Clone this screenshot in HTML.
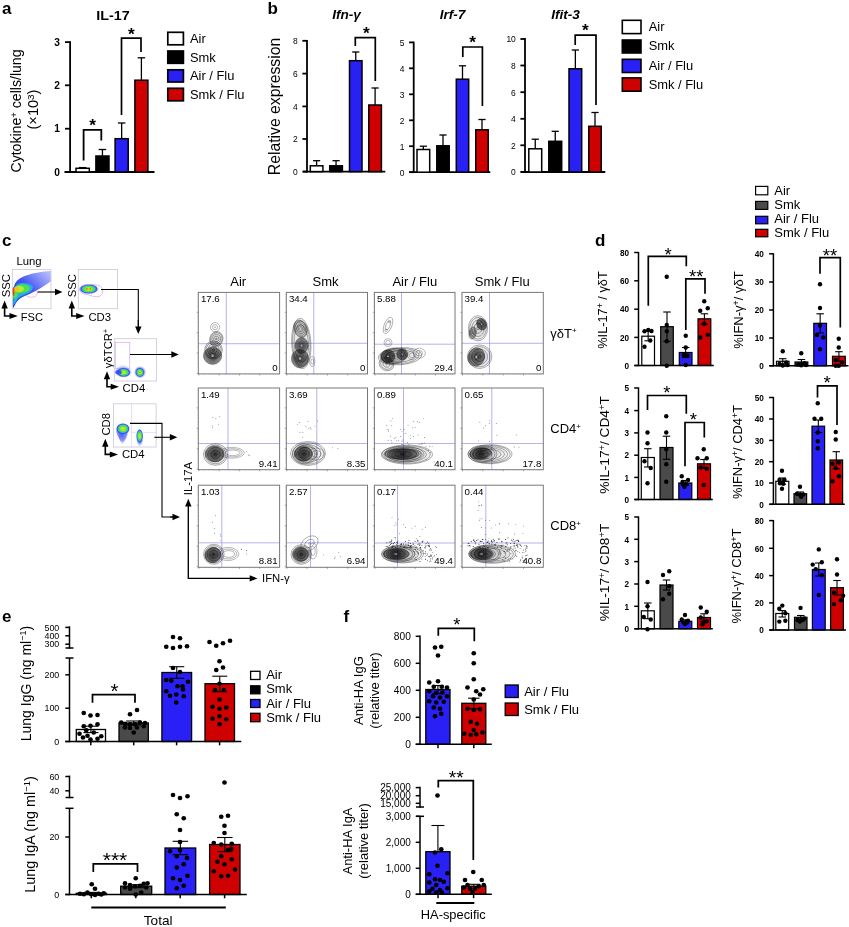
<!DOCTYPE html>
<html lang="en"><head><meta charset="utf-8"><title>Figure</title>
<style>
html,body{margin:0;padding:0;background:#fff;}
body{width:849px;height:927px;overflow:hidden;font-family:"Liberation Sans",Arial,sans-serif;}
svg{display:block;}
</style></head><body>
<svg width="849" height="927" viewBox="0 0 849 927" font-family='"Liberation Sans", Arial, sans-serif'>
<rect x="0" y="0" width="849" height="927" fill="#fff"/>
<text font-size="17" text-anchor="start" fill="#000" font-weight="bold" x="2" y="14" >a</text>
<text font-size="17" text-anchor="start" fill="#000" font-weight="bold" x="267.5" y="14" >b</text>
<text font-size="17" text-anchor="start" fill="#000" font-weight="bold" x="2" y="246" >c</text>
<text font-size="17" text-anchor="start" fill="#000" font-weight="bold" x="595" y="246" >d</text>
<text font-size="17" text-anchor="start" fill="#000" font-weight="bold" x="2" y="622" >e</text>
<text font-size="17" text-anchor="start" fill="#000" font-weight="bold" x="343.5" y="622" >f</text>
<text font-size="13" text-anchor="middle" fill="#000" font-weight="bold" textLength="33.5" lengthAdjust="spacingAndGlyphs" x="113" y="20" >IL-17</text>
<line x1="70.1" y1="41.2" x2="70.1" y2="172.8" stroke="#000" stroke-width="1.8" stroke-linecap="butt"/>
<line x1="64.5" y1="172" x2="154.5" y2="172" stroke="#000" stroke-width="1.8" stroke-linecap="butt"/>
<line x1="65" y1="42.1" x2="70.1" y2="42.1" stroke="#000" stroke-width="1.8" stroke-linecap="butt"/>
<text font-size="10.2" text-anchor="end" fill="#000" font-weight="bold" x="60" y="45.65" >3</text>
<line x1="65" y1="85.3" x2="70.1" y2="85.3" stroke="#000" stroke-width="1.8" stroke-linecap="butt"/>
<text font-size="10.2" text-anchor="end" fill="#000" font-weight="bold" x="60" y="88.85" >2</text>
<line x1="65" y1="128.7" x2="70.1" y2="128.7" stroke="#000" stroke-width="1.8" stroke-linecap="butt"/>
<text font-size="10.2" text-anchor="end" fill="#000" font-weight="bold" x="60" y="132.25" >1</text>
<line x1="65" y1="172" x2="70.1" y2="172" stroke="#000" stroke-width="1.8" stroke-linecap="butt"/>
<text font-size="10.2" text-anchor="end" fill="#000" font-weight="bold" x="60" y="175.55" >0</text>
<line x1="82.65" y1="167.6" x2="82.65" y2="168.3" stroke="#000" stroke-width="1.3" stroke-linecap="butt"/>
<line x1="78.9" y1="167.6" x2="86.4" y2="167.6" stroke="#000" stroke-width="1.3" stroke-linecap="butt"/>
<rect x="76" y="168.3" width="13.3" height="3.7" fill="#fff" stroke="#000" stroke-width="1.5"/>
<line x1="102.45" y1="149.5" x2="102.45" y2="156" stroke="#000" stroke-width="1.3" stroke-linecap="butt"/>
<line x1="98.7" y1="149.5" x2="106.2" y2="149.5" stroke="#000" stroke-width="1.3" stroke-linecap="butt"/>
<rect x="95.9" y="156" width="13.1" height="16" fill="#000" stroke="#000" stroke-width="1.5"/>
<line x1="121.65" y1="123" x2="121.65" y2="138.7" stroke="#000" stroke-width="1.3" stroke-linecap="butt"/>
<line x1="117.9" y1="123" x2="125.4" y2="123" stroke="#000" stroke-width="1.3" stroke-linecap="butt"/>
<rect x="115.1" y="138.7" width="13.1" height="33.3" fill="#2820f4" stroke="#000" stroke-width="1.5"/>
<line x1="141.4" y1="57.8" x2="141.4" y2="80.2" stroke="#000" stroke-width="1.3" stroke-linecap="butt"/>
<line x1="137.65" y1="57.8" x2="145.15" y2="57.8" stroke="#000" stroke-width="1.3" stroke-linecap="butt"/>
<rect x="134.9" y="80.2" width="13" height="91.8" fill="#cf0000" stroke="#000" stroke-width="1.5"/>
<polyline points="83.6,160.6 83.6,129.9 101.3,129.9 101.3,140.6" fill="none" stroke="#000" stroke-width="1.8" stroke-linejoin="miter"/>
<text font-size="17.3" text-anchor="middle" fill="#000" font-weight="bold" x="92.5" y="130.8" >*</text>
<polyline points="121.5,115 121.5,38.2 141,38.2 141,52" fill="none" stroke="#000" stroke-width="1.7" stroke-linejoin="miter"/>
<text font-size="17.3" text-anchor="middle" fill="#000" font-weight="bold" x="131.4" y="39.8" >*</text>
<text font-size="14" text-anchor="middle" fill="#000" textLength="123" lengthAdjust="spacingAndGlyphs" transform="translate(21,111) rotate(-90)" >Cytokine<tspan dy="-4.5" font-size="9.5">+</tspan><tspan dy="4.5" font-size="1">&#8203;</tspan> cells/lung</text>
<text font-size="14" text-anchor="middle" fill="#000" textLength="40" lengthAdjust="spacingAndGlyphs" transform="translate(38,109.5) rotate(-90)" >(×10<tspan dy="-4.5" font-size="9.5">3</tspan><tspan dy="4.5" font-size="1">&#8203;</tspan>)</text>
<rect x="167.8" y="32.3" width="15.6" height="12.5" fill="#fff" stroke="#000" stroke-width="1.7"/>
<text font-size="12.9" text-anchor="start" fill="#000" x="190" y="43" >Air</text>
<rect x="167.8" y="51" width="15.6" height="12.3" fill="#000" stroke="#000" stroke-width="1.7"/>
<text font-size="12.9" text-anchor="start" fill="#000" x="190" y="61.5" >Smk</text>
<rect x="167.8" y="69.8" width="15.6" height="12.2" fill="#2820f4" stroke="#000" stroke-width="1.7"/>
<text font-size="12.9" text-anchor="start" fill="#000" x="190" y="80" >Air / Flu</text>
<rect x="167.8" y="88.3" width="15.6" height="12.5" fill="#cf0000" stroke="#000" stroke-width="1.7"/>
<text font-size="12.9" text-anchor="start" fill="#000" x="190" y="98.8" >Smk / Flu</text>
<text font-size="15.7" text-anchor="middle" fill="#000" textLength="137.5" lengthAdjust="spacingAndGlyphs" transform="translate(279.5,106.5) rotate(-90)" >Relative expression</text>
<text font-size="13.6" text-anchor="middle" fill="#000" font-weight="bold" font-style="italic" x="346.5" y="19.3" >Ifn-γ</text>
<line x1="307" y1="40.05" x2="307" y2="172.4" stroke="#000" stroke-width="1.8" stroke-linecap="butt"/>
<line x1="303" y1="171.6" x2="385.3" y2="171.6" stroke="#000" stroke-width="1.8" stroke-linecap="butt"/>
<line x1="302.4" y1="40.8" x2="307" y2="40.8" stroke="#000" stroke-width="1.8" stroke-linecap="butt"/>
<text font-size="9.8" text-anchor="end" fill="#000" textLength="4.7" lengthAdjust="spacingAndGlyphs" x="297.8" y="44.2" >8</text>
<line x1="302.4" y1="73.6" x2="307" y2="73.6" stroke="#000" stroke-width="1.8" stroke-linecap="butt"/>
<text font-size="9.8" text-anchor="end" fill="#000" textLength="4.7" lengthAdjust="spacingAndGlyphs" x="297.8" y="77" >6</text>
<line x1="302.4" y1="106.4" x2="307" y2="106.4" stroke="#000" stroke-width="1.8" stroke-linecap="butt"/>
<text font-size="9.8" text-anchor="end" fill="#000" textLength="4.7" lengthAdjust="spacingAndGlyphs" x="297.8" y="109.8" >4</text>
<line x1="302.4" y1="139" x2="307" y2="139" stroke="#000" stroke-width="1.8" stroke-linecap="butt"/>
<text font-size="9.8" text-anchor="end" fill="#000" textLength="4.7" lengthAdjust="spacingAndGlyphs" x="297.8" y="142.4" >2</text>
<line x1="302.4" y1="171.6" x2="307" y2="171.6" stroke="#000" stroke-width="1.8" stroke-linecap="butt"/>
<text font-size="9.8" text-anchor="end" fill="#000" textLength="4.7" lengthAdjust="spacingAndGlyphs" x="297.8" y="175" >0</text>
<line x1="316.6" y1="160.7" x2="316.6" y2="165.8" stroke="#000" stroke-width="1.3" stroke-linecap="butt"/>
<line x1="313" y1="160.7" x2="320.2" y2="160.7" stroke="#000" stroke-width="1.3" stroke-linecap="butt"/>
<rect x="310.3" y="165.8" width="12.6" height="5.8" fill="#fff" stroke="#000" stroke-width="1.5"/>
<line x1="336.05" y1="160.7" x2="336.05" y2="165.8" stroke="#000" stroke-width="1.3" stroke-linecap="butt"/>
<line x1="332.45" y1="160.7" x2="339.65" y2="160.7" stroke="#000" stroke-width="1.3" stroke-linecap="butt"/>
<rect x="329.7" y="165.8" width="12.7" height="5.8" fill="#000" stroke="#000" stroke-width="1.5"/>
<line x1="355.75" y1="52" x2="355.75" y2="60.7" stroke="#000" stroke-width="1.3" stroke-linecap="butt"/>
<line x1="352.15" y1="52" x2="359.35" y2="52" stroke="#000" stroke-width="1.3" stroke-linecap="butt"/>
<rect x="349.5" y="60.7" width="12.5" height="110.9" fill="#2820f4" stroke="#000" stroke-width="1.5"/>
<line x1="375.1" y1="88" x2="375.1" y2="105" stroke="#000" stroke-width="1.3" stroke-linecap="butt"/>
<line x1="371.5" y1="88" x2="378.7" y2="88" stroke="#000" stroke-width="1.3" stroke-linecap="butt"/>
<rect x="368.8" y="105" width="12.6" height="66.6" fill="#cf0000" stroke="#000" stroke-width="1.5"/>
<polyline points="355.3,46 355.3,37.6 375.3,37.6 375.3,81" fill="none" stroke="#000" stroke-width="1.7" stroke-linejoin="miter"/>
<text font-size="17.3" text-anchor="middle" fill="#000" font-weight="bold" x="366.4" y="38.7" >*</text>
<text font-size="13.6" text-anchor="middle" fill="#000" font-weight="bold" font-style="italic" x="452.5" y="19.3" >Irf-7</text>
<line x1="413.7" y1="41.6" x2="413.7" y2="173" stroke="#000" stroke-width="1.8" stroke-linecap="butt"/>
<line x1="409.3" y1="172.2" x2="490.3" y2="172.2" stroke="#000" stroke-width="1.8" stroke-linecap="butt"/>
<line x1="409.1" y1="42.4" x2="413.7" y2="42.4" stroke="#000" stroke-width="1.8" stroke-linecap="butt"/>
<text font-size="9.8" text-anchor="end" fill="#000" textLength="4.7" lengthAdjust="spacingAndGlyphs" x="404.5" y="45.8" >5</text>
<line x1="409.1" y1="68.3" x2="413.7" y2="68.3" stroke="#000" stroke-width="1.8" stroke-linecap="butt"/>
<text font-size="9.8" text-anchor="end" fill="#000" textLength="4.7" lengthAdjust="spacingAndGlyphs" x="404.5" y="71.7" >4</text>
<line x1="409.1" y1="94.3" x2="413.7" y2="94.3" stroke="#000" stroke-width="1.8" stroke-linecap="butt"/>
<text font-size="9.8" text-anchor="end" fill="#000" textLength="4.7" lengthAdjust="spacingAndGlyphs" x="404.5" y="97.7" >3</text>
<line x1="409.1" y1="120.3" x2="413.7" y2="120.3" stroke="#000" stroke-width="1.8" stroke-linecap="butt"/>
<text font-size="9.8" text-anchor="end" fill="#000" textLength="4.7" lengthAdjust="spacingAndGlyphs" x="404.5" y="123.7" >2</text>
<line x1="409.1" y1="146.2" x2="413.7" y2="146.2" stroke="#000" stroke-width="1.8" stroke-linecap="butt"/>
<text font-size="9.8" text-anchor="end" fill="#000" textLength="4.7" lengthAdjust="spacingAndGlyphs" x="404.5" y="149.6" >1</text>
<line x1="409.1" y1="172.2" x2="413.7" y2="172.2" stroke="#000" stroke-width="1.8" stroke-linecap="butt"/>
<text font-size="9.8" text-anchor="end" fill="#000" textLength="4.7" lengthAdjust="spacingAndGlyphs" x="404.5" y="175.6" >0</text>
<line x1="423.35" y1="146.2" x2="423.35" y2="149.5" stroke="#000" stroke-width="1.3" stroke-linecap="butt"/>
<line x1="419.75" y1="146.2" x2="426.95" y2="146.2" stroke="#000" stroke-width="1.3" stroke-linecap="butt"/>
<rect x="417" y="149.5" width="12.7" height="22.7" fill="#fff" stroke="#000" stroke-width="1.5"/>
<line x1="443" y1="135" x2="443" y2="145.8" stroke="#000" stroke-width="1.3" stroke-linecap="butt"/>
<line x1="439.4" y1="135" x2="446.6" y2="135" stroke="#000" stroke-width="1.3" stroke-linecap="butt"/>
<rect x="436.8" y="145.8" width="12.4" height="26.4" fill="#000" stroke="#000" stroke-width="1.5"/>
<line x1="462.5" y1="65.8" x2="462.5" y2="79.2" stroke="#000" stroke-width="1.3" stroke-linecap="butt"/>
<line x1="458.9" y1="65.8" x2="466.1" y2="65.8" stroke="#000" stroke-width="1.3" stroke-linecap="butt"/>
<rect x="456.3" y="79.2" width="12.4" height="93" fill="#2820f4" stroke="#000" stroke-width="1.5"/>
<line x1="482" y1="119.5" x2="482" y2="129.8" stroke="#000" stroke-width="1.3" stroke-linecap="butt"/>
<line x1="478.4" y1="119.5" x2="485.6" y2="119.5" stroke="#000" stroke-width="1.3" stroke-linecap="butt"/>
<rect x="475.8" y="129.8" width="12.4" height="42.4" fill="#cf0000" stroke="#000" stroke-width="1.5"/>
<polyline points="462.8,57 462.8,47 482.4,47 482.4,106" fill="none" stroke="#000" stroke-width="1.7" stroke-linejoin="miter"/>
<text font-size="17.3" text-anchor="middle" fill="#000" font-weight="bold" x="472.5" y="48.4" >*</text>
<text font-size="13.6" text-anchor="middle" fill="#000" font-weight="bold" font-style="italic" x="565.5" y="19.3" >Ifit-3</text>
<line x1="525" y1="38.1" x2="525" y2="172.8" stroke="#000" stroke-width="1.8" stroke-linecap="butt"/>
<line x1="520.8" y1="172" x2="605.3" y2="172" stroke="#000" stroke-width="1.8" stroke-linecap="butt"/>
<line x1="520.4" y1="39" x2="525" y2="39" stroke="#000" stroke-width="1.8" stroke-linecap="butt"/>
<text font-size="9.8" text-anchor="end" fill="#000" textLength="9.4" lengthAdjust="spacingAndGlyphs" x="515.8" y="42.4" >10</text>
<line x1="520.4" y1="65.5" x2="525" y2="65.5" stroke="#000" stroke-width="1.8" stroke-linecap="butt"/>
<text font-size="9.8" text-anchor="end" fill="#000" textLength="4.7" lengthAdjust="spacingAndGlyphs" x="515.8" y="68.9" >8</text>
<line x1="520.4" y1="92.2" x2="525" y2="92.2" stroke="#000" stroke-width="1.8" stroke-linecap="butt"/>
<text font-size="9.8" text-anchor="end" fill="#000" textLength="4.7" lengthAdjust="spacingAndGlyphs" x="515.8" y="95.6" >6</text>
<line x1="520.4" y1="118.8" x2="525" y2="118.8" stroke="#000" stroke-width="1.8" stroke-linecap="butt"/>
<text font-size="9.8" text-anchor="end" fill="#000" textLength="4.7" lengthAdjust="spacingAndGlyphs" x="515.8" y="122.2" >4</text>
<line x1="520.4" y1="145.3" x2="525" y2="145.3" stroke="#000" stroke-width="1.8" stroke-linecap="butt"/>
<text font-size="9.8" text-anchor="end" fill="#000" textLength="4.7" lengthAdjust="spacingAndGlyphs" x="515.8" y="148.7" >2</text>
<line x1="520.4" y1="172" x2="525" y2="172" stroke="#000" stroke-width="1.8" stroke-linecap="butt"/>
<text font-size="9.8" text-anchor="end" fill="#000" textLength="4.7" lengthAdjust="spacingAndGlyphs" x="515.8" y="175.4" >0</text>
<line x1="535.25" y1="139.2" x2="535.25" y2="148.8" stroke="#000" stroke-width="1.3" stroke-linecap="butt"/>
<line x1="531.65" y1="139.2" x2="538.85" y2="139.2" stroke="#000" stroke-width="1.3" stroke-linecap="butt"/>
<rect x="528.8" y="148.8" width="12.9" height="23.2" fill="#fff" stroke="#000" stroke-width="1.5"/>
<line x1="555.25" y1="131.3" x2="555.25" y2="141.3" stroke="#000" stroke-width="1.3" stroke-linecap="butt"/>
<line x1="551.65" y1="131.3" x2="558.85" y2="131.3" stroke="#000" stroke-width="1.3" stroke-linecap="butt"/>
<rect x="548.8" y="141.3" width="12.9" height="30.7" fill="#000" stroke="#000" stroke-width="1.5"/>
<line x1="575.35" y1="50" x2="575.35" y2="68.8" stroke="#000" stroke-width="1.3" stroke-linecap="butt"/>
<line x1="571.75" y1="50" x2="578.95" y2="50" stroke="#000" stroke-width="1.3" stroke-linecap="butt"/>
<rect x="569" y="68.8" width="12.7" height="103.2" fill="#2820f4" stroke="#000" stroke-width="1.5"/>
<line x1="595" y1="112.5" x2="595" y2="126.3" stroke="#000" stroke-width="1.3" stroke-linecap="butt"/>
<line x1="591.4" y1="112.5" x2="598.6" y2="112.5" stroke="#000" stroke-width="1.3" stroke-linecap="butt"/>
<rect x="588.8" y="126.3" width="12.4" height="45.7" fill="#cf0000" stroke="#000" stroke-width="1.5"/>
<polyline points="575.2,45 575.2,35.1 596,35.1 596,105" fill="none" stroke="#000" stroke-width="1.7" stroke-linejoin="miter"/>
<text font-size="17.3" text-anchor="middle" fill="#000" font-weight="bold" x="585.4" y="36.3" >*</text>
<rect x="622.3" y="20.3" width="18.7" height="13.3" fill="#fff" stroke="#000" stroke-width="1.6"/>
<text font-size="12.9" text-anchor="start" fill="#000" x="648.7" y="30.8" >Air</text>
<rect x="622.3" y="40" width="18.7" height="13" fill="#000" stroke="#000" stroke-width="1.6"/>
<text font-size="12.9" text-anchor="start" fill="#000" x="648.7" y="50" >Smk</text>
<rect x="622.3" y="59.3" width="18.7" height="13.2" fill="#2820f4" stroke="#000" stroke-width="1.6"/>
<text font-size="12.9" text-anchor="start" fill="#000" x="648.7" y="70" >Air / Flu</text>
<rect x="622.3" y="77.9" width="18.7" height="13.3" fill="#cf0000" stroke="#000" stroke-width="1.6"/>
<text font-size="12.9" text-anchor="start" fill="#000" x="648.7" y="88.8" >Smk / Flu</text>
<defs>
<radialGradient id="gHot" cx="50%" cy="50%" r="50%">
<stop offset="0" stop-color="#f2451a"/><stop offset="0.18" stop-color="#f7d11e"/><stop offset="0.38" stop-color="#5fe34a"/>
<stop offset="0.58" stop-color="#27c7d9"/><stop offset="0.78" stop-color="#2b4df0"/><stop offset="1" stop-color="#3a45f5" stop-opacity="0"/>
</radialGradient>
<radialGradient id="gGreen" cx="50%" cy="50%" r="50%">
<stop offset="0" stop-color="#b9ee2e"/><stop offset="0.3" stop-color="#4fe04a"/><stop offset="0.52" stop-color="#27c7d9"/>
<stop offset="0.74" stop-color="#2b4df0"/><stop offset="1" stop-color="#3a45f5" stop-opacity="0"/>
</radialGradient>
<radialGradient id="gBlue" cx="50%" cy="50%" r="50%">
<stop offset="0" stop-color="#2b3df0" stop-opacity="0.95"/><stop offset="0.6" stop-color="#3a50f5" stop-opacity="0.7"/><stop offset="1" stop-color="#6a78f8" stop-opacity="0"/>
</radialGradient>
<linearGradient id="gFan" x1="0" y1="1" x2="1" y2="0">
<stop offset="0" stop-color="#2233ee"/><stop offset="0.5" stop-color="#3346f2" stop-opacity="0.92"/><stop offset="1" stop-color="#6a78f8" stop-opacity="0.45"/>
</linearGradient>
</defs>
<text font-size="11.3" text-anchor="middle" fill="#000" x="29" y="265" >Lung</text>
<rect x="12.3" y="269.5" width="38.7" height="39.2" fill="#fff" stroke="#c9c9d2" stroke-width="0.8"/>
<path d="M13,308.3 C12.8,298 12.7,288 15,283.5 C19,276 33,272.3 50.6,271 L50.6,281.5 C45,285.5 40,288.5 37,290.3 L29,294.2 C24,296.3 19.5,298 17,301.5 C15.3,304 14.3,306.5 13,308.3 Z" fill="url(#gFan)"/>
<path d="M13.2,300 C13.2,292 14,286.5 17.5,284.3 C22,281.8 29,282.8 32.5,286 C33.5,288.5 31.5,291.5 28,293.3 C22,295.5 18.3,297.5 16.3,301 C15,303.5 14,305 13.2,305.5 Z" fill="#29b7e3" opacity="0.9"/>
<ellipse cx="21.5" cy="288.8" rx="8.3" ry="4.3" fill="#4fe04a" opacity="1" transform="rotate(-6 21.5 288.8)"/>
<ellipse cx="15.5" cy="294.5" rx="2.3" ry="4.2" fill="#4fe04a" opacity="1" transform="rotate(12 15.5 294.5)"/>
<ellipse cx="19.3" cy="289" rx="4.6" ry="3" fill="#b4ee2c" opacity="1" transform="rotate(-6 19.3 289)"/>
<ellipse cx="16.6" cy="289.5" rx="2.4" ry="2.6" fill="#f3c21c" opacity="1"/>
<ellipse cx="13.5" cy="291.5" rx="0.9" ry="4.6" fill="#e8401a" opacity="1"/>
<path d="M26.5,295.6 C29,297.8 34.5,297.8 36.6,295.3 C37.8,293.6 37.3,291.6 36.6,290.8" fill="none" stroke="#d58be0" stroke-width="0.6"/>
<text font-size="11.3" text-anchor="middle" fill="#000" transform="translate(9.5,285.7) rotate(-90)" >SSC</text>
<polyline points="4.6,306.6 4.6,316 11.8,316" fill="none" stroke="#000" stroke-width="1.6" stroke-linejoin="miter"/>
<polygon points="4.6,300.6 1.4,308.6 7.8,308.6" fill="#000"/>
<polygon points="17.8,316 9.5,313 9.5,319" fill="#000"/>
<text font-size="11.1" text-anchor="start" fill="#000" x="20.8" y="320.6" >FSC</text>
<line x1="37.5" y1="292" x2="56" y2="292" stroke="#000" stroke-width="1.1" stroke-linecap="butt"/>
<polygon points="62.5,292 55,288.8 55,295.2" fill="#000"/>
<rect x="78.3" y="269.5" width="39.2" height="39.2" fill="#fff" stroke="#c9c9d2" stroke-width="0.8"/>
<ellipse cx="88.8" cy="289" rx="10.5" ry="5.42" fill="url(#gBlue)" opacity="0.9"/>
<ellipse cx="88.8" cy="289" rx="8.7" ry="4.5" fill="#2f49f3" opacity="0.9"/>
<ellipse cx="88.8" cy="289" rx="7.2" ry="3.72" fill="#29b7e3" opacity="1"/>
<ellipse cx="88.8" cy="289" rx="6" ry="3.1" fill="#4fe04a" opacity="1"/>
<ellipse cx="88.8" cy="289" rx="3.72" ry="1.92" fill="#a8ee2c" opacity="1"/>
<ellipse cx="86.9" cy="288.8" rx="1.1" ry="1.1" fill="#f3a21c" opacity="1"/>
<ellipse cx="90.3" cy="288.8" rx="1.1" ry="1.1" fill="#f3a21c" opacity="1"/>
<ellipse cx="86.9" cy="288.8" rx="0.5" ry="0.5" fill="#e8401a" opacity="1"/>
<ellipse cx="90.3" cy="288.8" rx="0.5" ry="0.5" fill="#e8401a" opacity="1"/>
<path d="M79.8,288.5 C81,283.3 96,283.6 100.3,286.3 C103.8,288.8 103.4,294.3 99.8,296.2 C95,298 90,295 86,294.3 C82.5,293.6 79,292 79.8,288.5 Z" fill="none" stroke="#d58be0" stroke-width="0.6"/>
<text font-size="11.3" text-anchor="middle" fill="#000" transform="translate(75.5,285.7) rotate(-90)" >SSC</text>
<polyline points="71.8,306.6 71.8,316 78.5,316" fill="none" stroke="#000" stroke-width="1.6" stroke-linejoin="miter"/>
<polygon points="71.8,300.6 68.6,308.6 75,308.6" fill="#000"/>
<polygon points="84.5,316 76.2,313 76.2,319" fill="#000"/>
<text font-size="11.3" text-anchor="start" fill="#000" x="88.4" y="321" >CD3</text>
<polyline points="101,289.5 138.3,289.5 138.3,327.5" fill="none" stroke="#000" stroke-width="1.1" stroke-linejoin="miter"/>
<line x1="138.3" y1="320" x2="138.3" y2="327.5" stroke="#000" stroke-width="1.1" stroke-linecap="butt"/>
<polygon points="138.3,334 135.1,326.5 141.5,326.5" fill="#000"/>
<rect x="114.3" y="338.7" width="42.3" height="42.3" fill="#fff" stroke="#c9c9d2" stroke-width="0.8"/>
<rect x="115.3" y="342.3" width="14.5" height="26" fill="none" stroke="#cfa8ea" stroke-width="0.7"/>
<ellipse cx="122.8" cy="371" rx="8.5" ry="6.5" fill="url(#gBlue)" opacity="0.45"/>
<ellipse cx="123.6" cy="372.4" rx="8.55" ry="5.51" fill="url(#gBlue)" opacity="0.85"/>
<ellipse cx="123.6" cy="372.4" rx="6.52" ry="4.21" fill="#2f49f3" opacity="0.9"/>
<ellipse cx="123.6" cy="372.4" rx="5.4" ry="3.48" fill="#29b7e3" opacity="1"/>
<ellipse cx="123.6" cy="372.4" rx="4.5" ry="2.9" fill="#4fe04a" opacity="1"/>
<ellipse cx="123.6" cy="372.4" rx="2.79" ry="1.8" fill="#a8ee2c" opacity="1"/>
<ellipse cx="118.5" cy="372.3" rx="3.2" ry="2.2" fill="#2f49f3" opacity="0.85"/>
<ellipse cx="140.2" cy="371.6" rx="6.3" ry="6" fill="url(#gBlue)" opacity="0.45"/>
<ellipse cx="139.9" cy="372.4" rx="6.09" ry="6.3" fill="url(#gBlue)" opacity="0.85" transform="rotate(-20 139.9 372.4)"/>
<ellipse cx="139.9" cy="372.4" rx="4.21" ry="4.35" fill="#2f49f3" opacity="0.9" transform="rotate(-20 139.9 372.4)"/>
<ellipse cx="139.9" cy="372.4" rx="3.48" ry="3.6" fill="#29b7e3" opacity="1" transform="rotate(-20 139.9 372.4)"/>
<ellipse cx="139.9" cy="372.4" rx="2.9" ry="3" fill="#4fe04a" opacity="1" transform="rotate(-20 139.9 372.4)"/>
<ellipse cx="139.9" cy="372.4" rx="1.8" ry="1.86" fill="#a8ee2c" opacity="1" transform="rotate(-20 139.9 372.4)"/>
<ellipse cx="139.9" cy="372.4" rx="1.04" ry="1.08" fill="#f3c21c" opacity="1" transform="rotate(-20 139.9 372.4)"/>
<ellipse cx="139.9" cy="372.4" rx="0.49" ry="0.51" fill="#e8401a" opacity="1" transform="rotate(-20 139.9 372.4)"/>
<line x1="130" y1="354.5" x2="172.3" y2="354.5" stroke="#000" stroke-width="1.1" stroke-linecap="butt"/>
<polygon points="178.8,354.5 171.3,351.3 171.3,357.7" fill="#000"/>
<text font-size="11.3" text-anchor="start" fill="#000" transform="translate(111.9,368.2) rotate(-90)" >γδTCR<tspan dy="-3.5" font-size="7">+</tspan><tspan dy="3.5" font-size="1">&#8203;</tspan></text>
<polyline points="107,377.3 107,386.8 113,386.8" fill="none" stroke="#000" stroke-width="1.6" stroke-linejoin="miter"/>
<polygon points="107,371.3 103.8,379.3 110.2,379.3" fill="#000"/>
<polygon points="119,386.8 110.7,383.8 110.7,389.8" fill="#000"/>
<text font-size="11.3" text-anchor="start" fill="#000" x="122.6" y="391.5" >CD4</text>
<rect x="113.4" y="403.8" width="42.7" height="43.2" fill="#fff" stroke="#c9c9d2" stroke-width="0.8"/>
<line x1="131.5" y1="403.8" x2="131.5" y2="447" stroke="#dccbee" stroke-width="0.6" stroke-linecap="butt"/>
<line x1="131.5" y1="432.4" x2="156.1" y2="432.4" stroke="#dccbee" stroke-width="0.6" stroke-linecap="butt"/>
<path d="M114.2,424.5 C118,421.5 127,421.8 129.3,424.5 C130,431 126.5,439 122.5,444.8 C120.5,441 115.5,433 114.2,424.5 Z" fill="url(#gBlue)" opacity="0.9"/>
<ellipse cx="123" cy="428.7" rx="6.6" ry="5.4" fill="url(#gBlue)" opacity="0.8"/>
<ellipse cx="123" cy="428.7" rx="6.38" ry="5.22" fill="#2f49f3" opacity="0.9"/>
<ellipse cx="123" cy="428.7" rx="5.28" ry="4.32" fill="#29b7e3" opacity="1"/>
<ellipse cx="123" cy="428.7" rx="4.4" ry="3.6" fill="#4fe04a" opacity="1"/>
<ellipse cx="123" cy="428.7" rx="2.73" ry="2.23" fill="#a8ee2c" opacity="1"/>
<ellipse cx="139.8" cy="437.5" rx="3.9" ry="9" fill="url(#gBlue)" opacity="0.95"/>
<ellipse cx="139.6" cy="436" rx="2.73" ry="5.72" fill="url(#gBlue)" opacity="0.8"/>
<ellipse cx="139.6" cy="436" rx="3.04" ry="6.38" fill="#2f49f3" opacity="0.9"/>
<ellipse cx="139.6" cy="436" rx="2.52" ry="5.28" fill="#29b7e3" opacity="1"/>
<ellipse cx="139.6" cy="436" rx="2.1" ry="4.4" fill="#4fe04a" opacity="1"/>
<ellipse cx="139.6" cy="436" rx="1.3" ry="2.73" fill="#a8ee2c" opacity="1"/>
<polyline points="130,423.4 162,423.4 162,517 173,517" fill="none" stroke="#000" stroke-width="1.1" stroke-linejoin="miter"/>
<line x1="170" y1="517" x2="173.5" y2="517" stroke="#000" stroke-width="1.1" stroke-linecap="butt"/>
<polygon points="180,517 172.5,513.8 172.5,520.2" fill="#000"/>
<line x1="154.4" y1="437.3" x2="170.8" y2="437.3" stroke="#000" stroke-width="1.1" stroke-linecap="butt"/>
<polygon points="177.3,437.3 169.8,434.1 169.8,440.5" fill="#000"/>
<text font-size="11.3" text-anchor="middle" fill="#000" transform="translate(110.3,424.3) rotate(-90)" >CD8</text>
<polyline points="105.3,444.7 105.3,454.4 112.1,454.4" fill="none" stroke="#000" stroke-width="1.6" stroke-linejoin="miter"/>
<polygon points="105.3,438.7 102.1,446.7 108.5,446.7" fill="#000"/>
<polygon points="118.1,454.4 109.8,451.4 109.8,457.4" fill="#000"/>
<text font-size="11.3" text-anchor="start" fill="#000" x="121.9" y="458.2" >CD4</text>
<polyline points="188.3,505 188.3,578.4 251,578.4" fill="none" stroke="#000" stroke-width="1.35" stroke-linejoin="miter"/>
<polygon points="188.3,498.7 185.1,506.5 191.5,506.5" fill="#000"/>
<polygon points="257.5,578.4 249.7,575.2 249.7,581.6" fill="#000"/>
<text font-size="11.3" text-anchor="middle" fill="#000" transform="translate(192.3,478.5) rotate(-90)" >IL-17A</text>
<text font-size="11.3" text-anchor="start" fill="#000" x="262" y="582.2" >IFN-γ</text>
<text font-size="13" text-anchor="middle" fill="#000" x="238.2" y="286.3" >Air</text>
<text font-size="13" text-anchor="middle" fill="#000" x="325.6" y="286.3" >Smk</text>
<text font-size="13" text-anchor="middle" fill="#000" x="414.8" y="286.3" >Air / Flu</text>
<text font-size="13" text-anchor="middle" fill="#000" x="502.2" y="286.3" >Smk / Flu</text>
<text font-size="13" text-anchor="start" fill="#000" x="550.3" y="337.6" >γδT<tspan dy="-4.5" font-size="8">+</tspan><tspan dy="4.5" font-size="1">&#8203;</tspan></text>
<text font-size="13" text-anchor="start" fill="#000" x="550.3" y="433" >CD4<tspan dy="-4.5" font-size="8">+</tspan><tspan dy="4.5" font-size="1">&#8203;</tspan></text>
<text font-size="13" text-anchor="start" fill="#000" x="550.3" y="530" >CD8<tspan dy="-4.5" font-size="8">+</tspan><tspan dy="4.5" font-size="1">&#8203;</tspan></text>
<line x1="226.3" y1="292.4" x2="226.3" y2="373.9" stroke="#9393e6" stroke-width="0.7" stroke-linecap="butt"/>
<line x1="198.3" y1="343.7" x2="279.6" y2="343.7" stroke="#9393e6" stroke-width="0.7" stroke-linecap="butt"/>
<rect x="198.3" y="292.4" width="81.3" height="81.5" fill="none" stroke="#787878" stroke-width="1.0"/>
<line x1="196.7" y1="373.4" x2="198.3" y2="373.4" stroke="#555" stroke-width="0.5" stroke-linecap="butt"/>
<line x1="198.8" y1="373.9" x2="198.8" y2="375.5" stroke="#555" stroke-width="0.5" stroke-linecap="butt"/>
<line x1="197.4" y1="367.38" x2="198.3" y2="367.38" stroke="#888" stroke-width="0.35" stroke-linecap="butt"/>
<line x1="204.8" y1="373.9" x2="204.8" y2="374.8" stroke="#888" stroke-width="0.35" stroke-linecap="butt"/>
<line x1="197.4" y1="363.3" x2="198.3" y2="363.3" stroke="#888" stroke-width="0.35" stroke-linecap="butt"/>
<line x1="208.87" y1="373.9" x2="208.87" y2="374.8" stroke="#888" stroke-width="0.35" stroke-linecap="butt"/>
<line x1="197.4" y1="360.04" x2="198.3" y2="360.04" stroke="#888" stroke-width="0.35" stroke-linecap="butt"/>
<line x1="212.12" y1="373.9" x2="212.12" y2="374.8" stroke="#888" stroke-width="0.35" stroke-linecap="butt"/>
<line x1="197.4" y1="357.6" x2="198.3" y2="357.6" stroke="#888" stroke-width="0.35" stroke-linecap="butt"/>
<line x1="214.56" y1="373.9" x2="214.56" y2="374.8" stroke="#888" stroke-width="0.35" stroke-linecap="butt"/>
<line x1="197.4" y1="355.56" x2="198.3" y2="355.56" stroke="#888" stroke-width="0.35" stroke-linecap="butt"/>
<line x1="216.59" y1="373.9" x2="216.59" y2="374.8" stroke="#888" stroke-width="0.35" stroke-linecap="butt"/>
<line x1="196.7" y1="353.02" x2="198.3" y2="353.02" stroke="#555" stroke-width="0.5" stroke-linecap="butt"/>
<line x1="219.12" y1="373.9" x2="219.12" y2="375.5" stroke="#555" stroke-width="0.5" stroke-linecap="butt"/>
<line x1="197.4" y1="347" x2="198.3" y2="347" stroke="#888" stroke-width="0.35" stroke-linecap="butt"/>
<line x1="225.13" y1="373.9" x2="225.13" y2="374.8" stroke="#888" stroke-width="0.35" stroke-linecap="butt"/>
<line x1="197.4" y1="342.93" x2="198.3" y2="342.93" stroke="#888" stroke-width="0.35" stroke-linecap="butt"/>
<line x1="229.19" y1="373.9" x2="229.19" y2="374.8" stroke="#888" stroke-width="0.35" stroke-linecap="butt"/>
<line x1="197.4" y1="339.67" x2="198.3" y2="339.67" stroke="#888" stroke-width="0.35" stroke-linecap="butt"/>
<line x1="232.45" y1="373.9" x2="232.45" y2="374.8" stroke="#888" stroke-width="0.35" stroke-linecap="butt"/>
<line x1="197.4" y1="337.22" x2="198.3" y2="337.22" stroke="#888" stroke-width="0.35" stroke-linecap="butt"/>
<line x1="234.89" y1="373.9" x2="234.89" y2="374.8" stroke="#888" stroke-width="0.35" stroke-linecap="butt"/>
<line x1="197.4" y1="335.19" x2="198.3" y2="335.19" stroke="#888" stroke-width="0.35" stroke-linecap="butt"/>
<line x1="236.92" y1="373.9" x2="236.92" y2="374.8" stroke="#888" stroke-width="0.35" stroke-linecap="butt"/>
<line x1="196.7" y1="332.65" x2="198.3" y2="332.65" stroke="#555" stroke-width="0.5" stroke-linecap="butt"/>
<line x1="239.45" y1="373.9" x2="239.45" y2="375.5" stroke="#555" stroke-width="0.5" stroke-linecap="butt"/>
<line x1="197.4" y1="326.63" x2="198.3" y2="326.63" stroke="#888" stroke-width="0.35" stroke-linecap="butt"/>
<line x1="245.45" y1="373.9" x2="245.45" y2="374.8" stroke="#888" stroke-width="0.35" stroke-linecap="butt"/>
<line x1="197.4" y1="322.55" x2="198.3" y2="322.55" stroke="#888" stroke-width="0.35" stroke-linecap="butt"/>
<line x1="249.52" y1="373.9" x2="249.52" y2="374.8" stroke="#888" stroke-width="0.35" stroke-linecap="butt"/>
<line x1="197.4" y1="319.29" x2="198.3" y2="319.29" stroke="#888" stroke-width="0.35" stroke-linecap="butt"/>
<line x1="252.77" y1="373.9" x2="252.77" y2="374.8" stroke="#888" stroke-width="0.35" stroke-linecap="butt"/>
<line x1="197.4" y1="316.85" x2="198.3" y2="316.85" stroke="#888" stroke-width="0.35" stroke-linecap="butt"/>
<line x1="255.21" y1="373.9" x2="255.21" y2="374.8" stroke="#888" stroke-width="0.35" stroke-linecap="butt"/>
<line x1="197.4" y1="314.81" x2="198.3" y2="314.81" stroke="#888" stroke-width="0.35" stroke-linecap="butt"/>
<line x1="257.24" y1="373.9" x2="257.24" y2="374.8" stroke="#888" stroke-width="0.35" stroke-linecap="butt"/>
<line x1="196.7" y1="312.27" x2="198.3" y2="312.27" stroke="#555" stroke-width="0.5" stroke-linecap="butt"/>
<line x1="259.78" y1="373.9" x2="259.78" y2="375.5" stroke="#555" stroke-width="0.5" stroke-linecap="butt"/>
<line x1="197.4" y1="306.25" x2="198.3" y2="306.25" stroke="#888" stroke-width="0.35" stroke-linecap="butt"/>
<line x1="265.78" y1="373.9" x2="265.78" y2="374.8" stroke="#888" stroke-width="0.35" stroke-linecap="butt"/>
<line x1="197.4" y1="302.18" x2="198.3" y2="302.18" stroke="#888" stroke-width="0.35" stroke-linecap="butt"/>
<line x1="269.84" y1="373.9" x2="269.84" y2="374.8" stroke="#888" stroke-width="0.35" stroke-linecap="butt"/>
<line x1="197.4" y1="298.92" x2="198.3" y2="298.92" stroke="#888" stroke-width="0.35" stroke-linecap="butt"/>
<line x1="273.1" y1="373.9" x2="273.1" y2="374.8" stroke="#888" stroke-width="0.35" stroke-linecap="butt"/>
<line x1="197.4" y1="296.47" x2="198.3" y2="296.47" stroke="#888" stroke-width="0.35" stroke-linecap="butt"/>
<line x1="275.54" y1="373.9" x2="275.54" y2="374.8" stroke="#888" stroke-width="0.35" stroke-linecap="butt"/>
<line x1="197.4" y1="294.44" x2="198.3" y2="294.44" stroke="#888" stroke-width="0.35" stroke-linecap="butt"/>
<line x1="277.57" y1="373.9" x2="277.57" y2="374.8" stroke="#888" stroke-width="0.35" stroke-linecap="butt"/>
<text font-size="9.7" text-anchor="start" fill="#000" x="200.9" y="302" >17.6</text>
<text font-size="9.7" text-anchor="end" fill="#000" x="277.6" y="370.7" >0</text>
<ellipse cx="215.1" cy="327.2" rx="4.6" ry="4.6" fill="none" stroke="#333" stroke-width="0.35"/>
<ellipse cx="215.1" cy="327.2" rx="2.53" ry="2.53" fill="none" stroke="#333" stroke-width="0.35"/>
<ellipse cx="215.1" cy="327.2" rx="0.46" ry="0.46" fill="none" stroke="#333" stroke-width="0.35"/>
<ellipse cx="216.3" cy="339" rx="6.6" ry="7.5" fill="#000" fill-opacity="0.04" stroke="#000" stroke-width="0.4" stroke-opacity="0.8" transform="rotate(20 216.3 339)"/>
<ellipse cx="216.3" cy="339" rx="5.71" ry="6.48" fill="#000" fill-opacity="0.04" stroke="#000" stroke-width="0.4" stroke-opacity="0.8" transform="rotate(20 216.3 339)"/>
<ellipse cx="216.3" cy="339" rx="4.32" ry="4.91" fill="#000" fill-opacity="0.04" stroke="#000" stroke-width="0.4" stroke-opacity="0.8" transform="rotate(20 216.3 339)"/>
<ellipse cx="216.3" cy="339" rx="2.66" ry="3.02" fill="#000" fill-opacity="0.04" stroke="#000" stroke-width="0.4" stroke-opacity="0.8" transform="rotate(20 216.3 339)"/>
<ellipse cx="216.3" cy="339" rx="0.79" ry="0.9" fill="#000" fill-opacity="0.04" stroke="#000" stroke-width="0.4" stroke-opacity="0.8" transform="rotate(20 216.3 339)"/>
<ellipse cx="213.5" cy="350" rx="8.8" ry="9" fill="#000" fill-opacity="0.04" stroke="#000" stroke-width="0.4" stroke-opacity="0.8" transform="rotate(15 213.5 350)"/>
<ellipse cx="213.5" cy="350" rx="7.61" ry="7.78" fill="#000" fill-opacity="0.04" stroke="#000" stroke-width="0.4" stroke-opacity="0.8" transform="rotate(15 213.5 350)"/>
<ellipse cx="213.5" cy="350" rx="5.76" ry="5.89" fill="#000" fill-opacity="0.04" stroke="#000" stroke-width="0.4" stroke-opacity="0.8" transform="rotate(15 213.5 350)"/>
<ellipse cx="213.5" cy="350" rx="3.55" ry="3.63" fill="#000" fill-opacity="0.04" stroke="#000" stroke-width="0.4" stroke-opacity="0.8" transform="rotate(15 213.5 350)"/>
<ellipse cx="213.5" cy="350" rx="1.06" ry="1.08" fill="#000" fill-opacity="0.04" stroke="#000" stroke-width="0.4" stroke-opacity="0.8" transform="rotate(15 213.5 350)"/>
<ellipse cx="212.6" cy="355.8" rx="9.2" ry="8.6" fill="#000" fill-opacity="0.1" stroke="#000" stroke-width="0.4" stroke-opacity="0.8"/>
<ellipse cx="212.6" cy="355.8" rx="8.71" ry="8.14" fill="#000" fill-opacity="0.1" stroke="#000" stroke-width="0.4" stroke-opacity="0.8"/>
<ellipse cx="212.6" cy="355.8" rx="7.95" ry="7.44" fill="#000" fill-opacity="0.1" stroke="#000" stroke-width="0.4" stroke-opacity="0.8"/>
<ellipse cx="212.6" cy="355.8" rx="7.05" ry="6.59" fill="#000" fill-opacity="0.1" stroke="#000" stroke-width="0.4" stroke-opacity="0.8"/>
<ellipse cx="212.6" cy="355.8" rx="6.02" ry="5.63" fill="#000" fill-opacity="0.1" stroke="#000" stroke-width="0.4" stroke-opacity="0.8"/>
<ellipse cx="212.6" cy="355.8" rx="4.91" ry="4.59" fill="#000" fill-opacity="0.1" stroke="#000" stroke-width="0.4" stroke-opacity="0.8"/>
<ellipse cx="212.6" cy="355.8" rx="3.71" ry="3.47" fill="#000" fill-opacity="0.1" stroke="#000" stroke-width="0.4" stroke-opacity="0.8"/>
<ellipse cx="212.6" cy="355.8" rx="2.44" ry="2.28" fill="#000" fill-opacity="0.1" stroke="#000" stroke-width="0.4" stroke-opacity="0.8"/>
<ellipse cx="212.6" cy="355.8" rx="1.1" ry="1.03" fill="#000" fill-opacity="0.1" stroke="#000" stroke-width="0.4" stroke-opacity="0.8"/>
<ellipse cx="212.6" cy="355.8" rx="1.29" ry="1.2" fill="#fff" fill-opacity="0.55"/>
<line x1="313.8" y1="292.4" x2="313.8" y2="373.9" stroke="#9393e6" stroke-width="0.7" stroke-linecap="butt"/>
<line x1="286.3" y1="343.3" x2="367.5" y2="343.3" stroke="#9393e6" stroke-width="0.7" stroke-linecap="butt"/>
<rect x="286.3" y="292.4" width="81.2" height="81.5" fill="none" stroke="#787878" stroke-width="1.0"/>
<line x1="284.7" y1="373.4" x2="286.3" y2="373.4" stroke="#555" stroke-width="0.5" stroke-linecap="butt"/>
<line x1="286.8" y1="373.9" x2="286.8" y2="375.5" stroke="#555" stroke-width="0.5" stroke-linecap="butt"/>
<line x1="285.4" y1="367.38" x2="286.3" y2="367.38" stroke="#888" stroke-width="0.35" stroke-linecap="butt"/>
<line x1="292.8" y1="373.9" x2="292.8" y2="374.8" stroke="#888" stroke-width="0.35" stroke-linecap="butt"/>
<line x1="285.4" y1="363.3" x2="286.3" y2="363.3" stroke="#888" stroke-width="0.35" stroke-linecap="butt"/>
<line x1="296.86" y1="373.9" x2="296.86" y2="374.8" stroke="#888" stroke-width="0.35" stroke-linecap="butt"/>
<line x1="285.4" y1="360.04" x2="286.3" y2="360.04" stroke="#888" stroke-width="0.35" stroke-linecap="butt"/>
<line x1="300.1" y1="373.9" x2="300.1" y2="374.8" stroke="#888" stroke-width="0.35" stroke-linecap="butt"/>
<line x1="285.4" y1="357.6" x2="286.3" y2="357.6" stroke="#888" stroke-width="0.35" stroke-linecap="butt"/>
<line x1="302.54" y1="373.9" x2="302.54" y2="374.8" stroke="#888" stroke-width="0.35" stroke-linecap="butt"/>
<line x1="285.4" y1="355.56" x2="286.3" y2="355.56" stroke="#888" stroke-width="0.35" stroke-linecap="butt"/>
<line x1="304.57" y1="373.9" x2="304.57" y2="374.8" stroke="#888" stroke-width="0.35" stroke-linecap="butt"/>
<line x1="284.7" y1="353.02" x2="286.3" y2="353.02" stroke="#555" stroke-width="0.5" stroke-linecap="butt"/>
<line x1="307.1" y1="373.9" x2="307.1" y2="375.5" stroke="#555" stroke-width="0.5" stroke-linecap="butt"/>
<line x1="285.4" y1="347" x2="286.3" y2="347" stroke="#888" stroke-width="0.35" stroke-linecap="butt"/>
<line x1="313.1" y1="373.9" x2="313.1" y2="374.8" stroke="#888" stroke-width="0.35" stroke-linecap="butt"/>
<line x1="285.4" y1="342.93" x2="286.3" y2="342.93" stroke="#888" stroke-width="0.35" stroke-linecap="butt"/>
<line x1="317.16" y1="373.9" x2="317.16" y2="374.8" stroke="#888" stroke-width="0.35" stroke-linecap="butt"/>
<line x1="285.4" y1="339.67" x2="286.3" y2="339.67" stroke="#888" stroke-width="0.35" stroke-linecap="butt"/>
<line x1="320.4" y1="373.9" x2="320.4" y2="374.8" stroke="#888" stroke-width="0.35" stroke-linecap="butt"/>
<line x1="285.4" y1="337.22" x2="286.3" y2="337.22" stroke="#888" stroke-width="0.35" stroke-linecap="butt"/>
<line x1="322.84" y1="373.9" x2="322.84" y2="374.8" stroke="#888" stroke-width="0.35" stroke-linecap="butt"/>
<line x1="285.4" y1="335.19" x2="286.3" y2="335.19" stroke="#888" stroke-width="0.35" stroke-linecap="butt"/>
<line x1="324.87" y1="373.9" x2="324.87" y2="374.8" stroke="#888" stroke-width="0.35" stroke-linecap="butt"/>
<line x1="284.7" y1="332.65" x2="286.3" y2="332.65" stroke="#555" stroke-width="0.5" stroke-linecap="butt"/>
<line x1="327.4" y1="373.9" x2="327.4" y2="375.5" stroke="#555" stroke-width="0.5" stroke-linecap="butt"/>
<line x1="285.4" y1="326.63" x2="286.3" y2="326.63" stroke="#888" stroke-width="0.35" stroke-linecap="butt"/>
<line x1="333.4" y1="373.9" x2="333.4" y2="374.8" stroke="#888" stroke-width="0.35" stroke-linecap="butt"/>
<line x1="285.4" y1="322.55" x2="286.3" y2="322.55" stroke="#888" stroke-width="0.35" stroke-linecap="butt"/>
<line x1="337.46" y1="373.9" x2="337.46" y2="374.8" stroke="#888" stroke-width="0.35" stroke-linecap="butt"/>
<line x1="285.4" y1="319.29" x2="286.3" y2="319.29" stroke="#888" stroke-width="0.35" stroke-linecap="butt"/>
<line x1="340.7" y1="373.9" x2="340.7" y2="374.8" stroke="#888" stroke-width="0.35" stroke-linecap="butt"/>
<line x1="285.4" y1="316.85" x2="286.3" y2="316.85" stroke="#888" stroke-width="0.35" stroke-linecap="butt"/>
<line x1="343.14" y1="373.9" x2="343.14" y2="374.8" stroke="#888" stroke-width="0.35" stroke-linecap="butt"/>
<line x1="285.4" y1="314.81" x2="286.3" y2="314.81" stroke="#888" stroke-width="0.35" stroke-linecap="butt"/>
<line x1="345.17" y1="373.9" x2="345.17" y2="374.8" stroke="#888" stroke-width="0.35" stroke-linecap="butt"/>
<line x1="284.7" y1="312.27" x2="286.3" y2="312.27" stroke="#555" stroke-width="0.5" stroke-linecap="butt"/>
<line x1="347.7" y1="373.9" x2="347.7" y2="375.5" stroke="#555" stroke-width="0.5" stroke-linecap="butt"/>
<line x1="285.4" y1="306.25" x2="286.3" y2="306.25" stroke="#888" stroke-width="0.35" stroke-linecap="butt"/>
<line x1="353.7" y1="373.9" x2="353.7" y2="374.8" stroke="#888" stroke-width="0.35" stroke-linecap="butt"/>
<line x1="285.4" y1="302.18" x2="286.3" y2="302.18" stroke="#888" stroke-width="0.35" stroke-linecap="butt"/>
<line x1="357.76" y1="373.9" x2="357.76" y2="374.8" stroke="#888" stroke-width="0.35" stroke-linecap="butt"/>
<line x1="285.4" y1="298.92" x2="286.3" y2="298.92" stroke="#888" stroke-width="0.35" stroke-linecap="butt"/>
<line x1="361" y1="373.9" x2="361" y2="374.8" stroke="#888" stroke-width="0.35" stroke-linecap="butt"/>
<line x1="285.4" y1="296.47" x2="286.3" y2="296.47" stroke="#888" stroke-width="0.35" stroke-linecap="butt"/>
<line x1="363.44" y1="373.9" x2="363.44" y2="374.8" stroke="#888" stroke-width="0.35" stroke-linecap="butt"/>
<line x1="285.4" y1="294.44" x2="286.3" y2="294.44" stroke="#888" stroke-width="0.35" stroke-linecap="butt"/>
<line x1="365.47" y1="373.9" x2="365.47" y2="374.8" stroke="#888" stroke-width="0.35" stroke-linecap="butt"/>
<text font-size="9.7" text-anchor="start" fill="#000" x="288.9" y="302" >34.4</text>
<text font-size="9.7" text-anchor="end" fill="#000" x="365.5" y="370.7" >0</text>
<ellipse cx="301.3" cy="343.5" rx="9.6" ry="25.2" fill="#000" fill-opacity="0.03" stroke="#000" stroke-width="0.4" stroke-opacity="0.8" transform="rotate(-3 301.3 343.5)"/>
<ellipse cx="301.3" cy="343.5" rx="8.66" ry="22.73" fill="#000" fill-opacity="0.03" stroke="#000" stroke-width="0.4" stroke-opacity="0.8" transform="rotate(-3 301.3 343.5)"/>
<ellipse cx="301.3" cy="343.5" rx="7.2" ry="18.9" fill="#000" fill-opacity="0.03" stroke="#000" stroke-width="0.4" stroke-opacity="0.8" transform="rotate(-3 301.3 343.5)"/>
<ellipse cx="300.5" cy="328.8" rx="6.6" ry="9" fill="#000" fill-opacity="0.04" stroke="#000" stroke-width="0.4" stroke-opacity="0.8" transform="rotate(-20 300.5 328.8)"/>
<ellipse cx="300.5" cy="328.8" rx="5.94" ry="8.1" fill="#000" fill-opacity="0.04" stroke="#000" stroke-width="0.4" stroke-opacity="0.8" transform="rotate(-20 300.5 328.8)"/>
<ellipse cx="300.5" cy="328.8" rx="4.91" ry="6.7" fill="#000" fill-opacity="0.04" stroke="#000" stroke-width="0.4" stroke-opacity="0.8" transform="rotate(-20 300.5 328.8)"/>
<ellipse cx="300.5" cy="328.8" rx="3.69" ry="5.03" fill="#000" fill-opacity="0.04" stroke="#000" stroke-width="0.4" stroke-opacity="0.8" transform="rotate(-20 300.5 328.8)"/>
<ellipse cx="300.5" cy="328.8" rx="2.3" ry="3.14" fill="#000" fill-opacity="0.04" stroke="#000" stroke-width="0.4" stroke-opacity="0.8" transform="rotate(-20 300.5 328.8)"/>
<ellipse cx="300.5" cy="328.8" rx="0.79" ry="1.08" fill="#000" fill-opacity="0.04" stroke="#000" stroke-width="0.4" stroke-opacity="0.8" transform="rotate(-20 300.5 328.8)"/>
<ellipse cx="300.5" cy="328.8" rx="0.92" ry="1.26" fill="#fff" fill-opacity="0.55" transform="rotate(-20 300.5 328.8)"/>
<ellipse cx="301.6" cy="345.6" rx="6.6" ry="8" fill="#000" fill-opacity="0.1" stroke="#000" stroke-width="0.4" stroke-opacity="0.8"/>
<ellipse cx="301.6" cy="345.6" rx="6.18" ry="7.49" fill="#000" fill-opacity="0.1" stroke="#000" stroke-width="0.4" stroke-opacity="0.8"/>
<ellipse cx="301.6" cy="345.6" rx="5.53" ry="6.7" fill="#000" fill-opacity="0.1" stroke="#000" stroke-width="0.4" stroke-opacity="0.8"/>
<ellipse cx="301.6" cy="345.6" rx="4.75" ry="5.76" fill="#000" fill-opacity="0.1" stroke="#000" stroke-width="0.4" stroke-opacity="0.8"/>
<ellipse cx="301.6" cy="345.6" rx="3.87" ry="4.69" fill="#000" fill-opacity="0.1" stroke="#000" stroke-width="0.4" stroke-opacity="0.8"/>
<ellipse cx="301.6" cy="345.6" rx="2.91" ry="3.53" fill="#000" fill-opacity="0.1" stroke="#000" stroke-width="0.4" stroke-opacity="0.8"/>
<ellipse cx="301.6" cy="345.6" rx="1.88" ry="2.28" fill="#000" fill-opacity="0.1" stroke="#000" stroke-width="0.4" stroke-opacity="0.8"/>
<ellipse cx="301.6" cy="345.6" rx="0.79" ry="0.96" fill="#000" fill-opacity="0.1" stroke="#000" stroke-width="0.4" stroke-opacity="0.8"/>
<ellipse cx="301.6" cy="345.6" rx="0.92" ry="1.12" fill="#fff" fill-opacity="0.55"/>
<ellipse cx="300" cy="358.6" rx="8.6" ry="9.3" fill="#000" fill-opacity="0.11" stroke="#000" stroke-width="0.4" stroke-opacity="0.8"/>
<ellipse cx="300" cy="358.6" rx="8.14" ry="8.81" fill="#000" fill-opacity="0.11" stroke="#000" stroke-width="0.4" stroke-opacity="0.8"/>
<ellipse cx="300" cy="358.6" rx="7.44" ry="8.04" fill="#000" fill-opacity="0.11" stroke="#000" stroke-width="0.4" stroke-opacity="0.8"/>
<ellipse cx="300" cy="358.6" rx="6.59" ry="7.12" fill="#000" fill-opacity="0.11" stroke="#000" stroke-width="0.4" stroke-opacity="0.8"/>
<ellipse cx="300" cy="358.6" rx="5.63" ry="6.09" fill="#000" fill-opacity="0.11" stroke="#000" stroke-width="0.4" stroke-opacity="0.8"/>
<ellipse cx="300" cy="358.6" rx="4.59" ry="4.96" fill="#000" fill-opacity="0.11" stroke="#000" stroke-width="0.4" stroke-opacity="0.8"/>
<ellipse cx="300" cy="358.6" rx="3.47" ry="3.75" fill="#000" fill-opacity="0.11" stroke="#000" stroke-width="0.4" stroke-opacity="0.8"/>
<ellipse cx="300" cy="358.6" rx="2.28" ry="2.47" fill="#000" fill-opacity="0.11" stroke="#000" stroke-width="0.4" stroke-opacity="0.8"/>
<ellipse cx="300" cy="358.6" rx="1.03" ry="1.12" fill="#000" fill-opacity="0.11" stroke="#000" stroke-width="0.4" stroke-opacity="0.8"/>
<ellipse cx="300" cy="358.6" rx="1.2" ry="1.3" fill="#fff" fill-opacity="0.55"/>
<ellipse cx="312.3" cy="361.5" rx="2.6" ry="5" fill="none" stroke="#333" stroke-width="0.35"/>
<ellipse cx="312.3" cy="361.5" rx="1.43" ry="2.75" fill="none" stroke="#333" stroke-width="0.35"/>
<line x1="401.5" y1="292.4" x2="401.5" y2="373.9" stroke="#9393e6" stroke-width="0.7" stroke-linecap="butt"/>
<line x1="374.4" y1="344.2" x2="455" y2="344.2" stroke="#9393e6" stroke-width="0.7" stroke-linecap="butt"/>
<rect x="374.4" y="292.4" width="80.6" height="81.5" fill="none" stroke="#787878" stroke-width="1.0"/>
<line x1="372.8" y1="373.4" x2="374.4" y2="373.4" stroke="#555" stroke-width="0.5" stroke-linecap="butt"/>
<line x1="374.9" y1="373.9" x2="374.9" y2="375.5" stroke="#555" stroke-width="0.5" stroke-linecap="butt"/>
<line x1="373.5" y1="367.38" x2="374.4" y2="367.38" stroke="#888" stroke-width="0.35" stroke-linecap="butt"/>
<line x1="380.85" y1="373.9" x2="380.85" y2="374.8" stroke="#888" stroke-width="0.35" stroke-linecap="butt"/>
<line x1="373.5" y1="363.3" x2="374.4" y2="363.3" stroke="#888" stroke-width="0.35" stroke-linecap="butt"/>
<line x1="384.88" y1="373.9" x2="384.88" y2="374.8" stroke="#888" stroke-width="0.35" stroke-linecap="butt"/>
<line x1="373.5" y1="360.04" x2="374.4" y2="360.04" stroke="#888" stroke-width="0.35" stroke-linecap="butt"/>
<line x1="388.1" y1="373.9" x2="388.1" y2="374.8" stroke="#888" stroke-width="0.35" stroke-linecap="butt"/>
<line x1="373.5" y1="357.6" x2="374.4" y2="357.6" stroke="#888" stroke-width="0.35" stroke-linecap="butt"/>
<line x1="390.52" y1="373.9" x2="390.52" y2="374.8" stroke="#888" stroke-width="0.35" stroke-linecap="butt"/>
<line x1="373.5" y1="355.56" x2="374.4" y2="355.56" stroke="#888" stroke-width="0.35" stroke-linecap="butt"/>
<line x1="392.53" y1="373.9" x2="392.53" y2="374.8" stroke="#888" stroke-width="0.35" stroke-linecap="butt"/>
<line x1="372.8" y1="353.02" x2="374.4" y2="353.02" stroke="#555" stroke-width="0.5" stroke-linecap="butt"/>
<line x1="395.05" y1="373.9" x2="395.05" y2="375.5" stroke="#555" stroke-width="0.5" stroke-linecap="butt"/>
<line x1="373.5" y1="347" x2="374.4" y2="347" stroke="#888" stroke-width="0.35" stroke-linecap="butt"/>
<line x1="401" y1="373.9" x2="401" y2="374.8" stroke="#888" stroke-width="0.35" stroke-linecap="butt"/>
<line x1="373.5" y1="342.93" x2="374.4" y2="342.93" stroke="#888" stroke-width="0.35" stroke-linecap="butt"/>
<line x1="405.03" y1="373.9" x2="405.03" y2="374.8" stroke="#888" stroke-width="0.35" stroke-linecap="butt"/>
<line x1="373.5" y1="339.67" x2="374.4" y2="339.67" stroke="#888" stroke-width="0.35" stroke-linecap="butt"/>
<line x1="408.25" y1="373.9" x2="408.25" y2="374.8" stroke="#888" stroke-width="0.35" stroke-linecap="butt"/>
<line x1="373.5" y1="337.22" x2="374.4" y2="337.22" stroke="#888" stroke-width="0.35" stroke-linecap="butt"/>
<line x1="410.67" y1="373.9" x2="410.67" y2="374.8" stroke="#888" stroke-width="0.35" stroke-linecap="butt"/>
<line x1="373.5" y1="335.19" x2="374.4" y2="335.19" stroke="#888" stroke-width="0.35" stroke-linecap="butt"/>
<line x1="412.69" y1="373.9" x2="412.69" y2="374.8" stroke="#888" stroke-width="0.35" stroke-linecap="butt"/>
<line x1="372.8" y1="332.65" x2="374.4" y2="332.65" stroke="#555" stroke-width="0.5" stroke-linecap="butt"/>
<line x1="415.2" y1="373.9" x2="415.2" y2="375.5" stroke="#555" stroke-width="0.5" stroke-linecap="butt"/>
<line x1="373.5" y1="326.63" x2="374.4" y2="326.63" stroke="#888" stroke-width="0.35" stroke-linecap="butt"/>
<line x1="421.15" y1="373.9" x2="421.15" y2="374.8" stroke="#888" stroke-width="0.35" stroke-linecap="butt"/>
<line x1="373.5" y1="322.55" x2="374.4" y2="322.55" stroke="#888" stroke-width="0.35" stroke-linecap="butt"/>
<line x1="425.18" y1="373.9" x2="425.18" y2="374.8" stroke="#888" stroke-width="0.35" stroke-linecap="butt"/>
<line x1="373.5" y1="319.29" x2="374.4" y2="319.29" stroke="#888" stroke-width="0.35" stroke-linecap="butt"/>
<line x1="428.4" y1="373.9" x2="428.4" y2="374.8" stroke="#888" stroke-width="0.35" stroke-linecap="butt"/>
<line x1="373.5" y1="316.85" x2="374.4" y2="316.85" stroke="#888" stroke-width="0.35" stroke-linecap="butt"/>
<line x1="430.82" y1="373.9" x2="430.82" y2="374.8" stroke="#888" stroke-width="0.35" stroke-linecap="butt"/>
<line x1="373.5" y1="314.81" x2="374.4" y2="314.81" stroke="#888" stroke-width="0.35" stroke-linecap="butt"/>
<line x1="432.83" y1="373.9" x2="432.83" y2="374.8" stroke="#888" stroke-width="0.35" stroke-linecap="butt"/>
<line x1="372.8" y1="312.27" x2="374.4" y2="312.27" stroke="#555" stroke-width="0.5" stroke-linecap="butt"/>
<line x1="435.35" y1="373.9" x2="435.35" y2="375.5" stroke="#555" stroke-width="0.5" stroke-linecap="butt"/>
<line x1="373.5" y1="306.25" x2="374.4" y2="306.25" stroke="#888" stroke-width="0.35" stroke-linecap="butt"/>
<line x1="441.3" y1="373.9" x2="441.3" y2="374.8" stroke="#888" stroke-width="0.35" stroke-linecap="butt"/>
<line x1="373.5" y1="302.18" x2="374.4" y2="302.18" stroke="#888" stroke-width="0.35" stroke-linecap="butt"/>
<line x1="445.33" y1="373.9" x2="445.33" y2="374.8" stroke="#888" stroke-width="0.35" stroke-linecap="butt"/>
<line x1="373.5" y1="298.92" x2="374.4" y2="298.92" stroke="#888" stroke-width="0.35" stroke-linecap="butt"/>
<line x1="448.55" y1="373.9" x2="448.55" y2="374.8" stroke="#888" stroke-width="0.35" stroke-linecap="butt"/>
<line x1="373.5" y1="296.47" x2="374.4" y2="296.47" stroke="#888" stroke-width="0.35" stroke-linecap="butt"/>
<line x1="450.97" y1="373.9" x2="450.97" y2="374.8" stroke="#888" stroke-width="0.35" stroke-linecap="butt"/>
<line x1="373.5" y1="294.44" x2="374.4" y2="294.44" stroke="#888" stroke-width="0.35" stroke-linecap="butt"/>
<line x1="452.99" y1="373.9" x2="452.99" y2="374.8" stroke="#888" stroke-width="0.35" stroke-linecap="butt"/>
<text font-size="9.7" text-anchor="start" fill="#000" x="377" y="302" >5.88</text>
<text font-size="9.7" text-anchor="end" fill="#000" x="453" y="370.7" >29.4</text>
<ellipse cx="388" cy="325.4" rx="3.8" ry="8.6" fill="none" stroke="#333" stroke-width="0.35" transform="rotate(22 388 325.4)"/>
<ellipse cx="388" cy="325.4" rx="2.09" ry="4.73" fill="none" stroke="#333" stroke-width="0.35" transform="rotate(22 388 325.4)"/>
<ellipse cx="389.5" cy="321.6" rx="1.2" ry="1.2" fill="none" stroke="#333" stroke-width="0.35"/>
<ellipse cx="386" cy="330.2" rx="1.2" ry="1.2" fill="none" stroke="#333" stroke-width="0.35"/>
<ellipse cx="388" cy="342.6" rx="4" ry="4" fill="none" stroke="#333" stroke-width="0.35"/>
<ellipse cx="388" cy="342.6" rx="2.2" ry="2.2" fill="none" stroke="#333" stroke-width="0.35"/>
<ellipse cx="400" cy="356.2" rx="21.6" ry="8.6" fill="#000" fill-opacity="0.03" stroke="#000" stroke-width="0.4" stroke-opacity="0.8" transform="rotate(-4 400 356.2)"/>
<ellipse cx="400" cy="356.2" rx="19.06" ry="7.59" fill="#000" fill-opacity="0.03" stroke="#000" stroke-width="0.4" stroke-opacity="0.8" transform="rotate(-4 400 356.2)"/>
<ellipse cx="400" cy="356.2" rx="15.12" ry="6.02" fill="#000" fill-opacity="0.03" stroke="#000" stroke-width="0.4" stroke-opacity="0.8" transform="rotate(-4 400 356.2)"/>
<ellipse cx="393.5" cy="356" rx="13.5" ry="8" fill="#000" fill-opacity="0.04" stroke="#000" stroke-width="0.4" stroke-opacity="0.8" transform="rotate(-5 393.5 356)"/>
<ellipse cx="393.5" cy="356" rx="12.15" ry="7.2" fill="#000" fill-opacity="0.04" stroke="#000" stroke-width="0.4" stroke-opacity="0.8" transform="rotate(-5 393.5 356)"/>
<ellipse cx="393.5" cy="356" rx="10.05" ry="5.96" fill="#000" fill-opacity="0.04" stroke="#000" stroke-width="0.4" stroke-opacity="0.8" transform="rotate(-5 393.5 356)"/>
<ellipse cx="393.5" cy="356" rx="7.54" ry="4.47" fill="#000" fill-opacity="0.04" stroke="#000" stroke-width="0.4" stroke-opacity="0.8" transform="rotate(-5 393.5 356)"/>
<ellipse cx="393.5" cy="356" rx="4.71" ry="2.79" fill="#000" fill-opacity="0.04" stroke="#000" stroke-width="0.4" stroke-opacity="0.8" transform="rotate(-5 393.5 356)"/>
<ellipse cx="393.5" cy="356" rx="1.62" ry="0.96" fill="#000" fill-opacity="0.04" stroke="#000" stroke-width="0.4" stroke-opacity="0.8" transform="rotate(-5 393.5 356)"/>
<ellipse cx="388" cy="356.4" rx="7" ry="6.5" fill="#000" fill-opacity="0.11" stroke="#000" stroke-width="0.4" stroke-opacity="0.8"/>
<ellipse cx="388" cy="356.4" rx="6.55" ry="6.09" fill="#000" fill-opacity="0.11" stroke="#000" stroke-width="0.4" stroke-opacity="0.8"/>
<ellipse cx="388" cy="356.4" rx="5.86" ry="5.45" fill="#000" fill-opacity="0.11" stroke="#000" stroke-width="0.4" stroke-opacity="0.8"/>
<ellipse cx="388" cy="356.4" rx="5.04" ry="4.68" fill="#000" fill-opacity="0.11" stroke="#000" stroke-width="0.4" stroke-opacity="0.8"/>
<ellipse cx="388" cy="356.4" rx="4.11" ry="3.81" fill="#000" fill-opacity="0.11" stroke="#000" stroke-width="0.4" stroke-opacity="0.8"/>
<ellipse cx="388" cy="356.4" rx="3.09" ry="2.87" fill="#000" fill-opacity="0.11" stroke="#000" stroke-width="0.4" stroke-opacity="0.8"/>
<ellipse cx="388" cy="356.4" rx="2" ry="1.85" fill="#000" fill-opacity="0.11" stroke="#000" stroke-width="0.4" stroke-opacity="0.8"/>
<ellipse cx="388" cy="356.4" rx="0.84" ry="0.78" fill="#000" fill-opacity="0.11" stroke="#000" stroke-width="0.4" stroke-opacity="0.8"/>
<ellipse cx="388" cy="356.4" rx="0.98" ry="0.91" fill="#fff" fill-opacity="0.55"/>
<ellipse cx="402.3" cy="354.3" rx="5.6" ry="5.6" fill="#000" fill-opacity="0.1" stroke="#000" stroke-width="0.4" stroke-opacity="0.8"/>
<ellipse cx="402.3" cy="354.3" rx="5.16" ry="5.16" fill="#000" fill-opacity="0.1" stroke="#000" stroke-width="0.4" stroke-opacity="0.8"/>
<ellipse cx="402.3" cy="354.3" rx="4.48" ry="4.48" fill="#000" fill-opacity="0.1" stroke="#000" stroke-width="0.4" stroke-opacity="0.8"/>
<ellipse cx="402.3" cy="354.3" rx="3.67" ry="3.67" fill="#000" fill-opacity="0.1" stroke="#000" stroke-width="0.4" stroke-opacity="0.8"/>
<ellipse cx="402.3" cy="354.3" rx="2.75" ry="2.75" fill="#000" fill-opacity="0.1" stroke="#000" stroke-width="0.4" stroke-opacity="0.8"/>
<ellipse cx="402.3" cy="354.3" rx="1.75" ry="1.75" fill="#000" fill-opacity="0.1" stroke="#000" stroke-width="0.4" stroke-opacity="0.8"/>
<ellipse cx="402.3" cy="354.3" rx="0.67" ry="0.67" fill="#000" fill-opacity="0.1" stroke="#000" stroke-width="0.4" stroke-opacity="0.8"/>
<ellipse cx="402.3" cy="354.3" rx="0.78" ry="0.78" fill="#fff" fill-opacity="0.55"/>
<ellipse cx="386.5" cy="364" rx="7.5" ry="6.5" fill="#000" fill-opacity="0.03" stroke="#000" stroke-width="0.4" stroke-opacity="0.8" transform="rotate(25 386.5 364)"/>
<ellipse cx="386.5" cy="364" rx="6" ry="5.2" fill="#000" fill-opacity="0.03" stroke="#000" stroke-width="0.4" stroke-opacity="0.8" transform="rotate(25 386.5 364)"/>
<ellipse cx="386.5" cy="364" rx="3.68" ry="3.19" fill="#000" fill-opacity="0.03" stroke="#000" stroke-width="0.4" stroke-opacity="0.8" transform="rotate(25 386.5 364)"/>
<ellipse cx="386.5" cy="364" rx="0.9" ry="0.78" fill="#000" fill-opacity="0.03" stroke="#000" stroke-width="0.4" stroke-opacity="0.8" transform="rotate(25 386.5 364)"/>
<ellipse cx="419.3" cy="353.2" rx="6" ry="5" fill="none" stroke="#333" stroke-width="0.35"/>
<ellipse cx="419.3" cy="353.2" rx="3.3" ry="2.75" fill="none" stroke="#333" stroke-width="0.35"/>
<ellipse cx="419.3" cy="353.2" rx="0.6" ry="0.5" fill="none" stroke="#333" stroke-width="0.35"/>
<ellipse cx="411.8" cy="355.3" rx="4.2" ry="4.4" fill="none" stroke="#333" stroke-width="0.35"/>
<ellipse cx="411.8" cy="355.3" rx="2.31" ry="2.42" fill="none" stroke="#333" stroke-width="0.35"/>
<line x1="489.5" y1="292.4" x2="489.5" y2="373.9" stroke="#9393e6" stroke-width="0.7" stroke-linecap="butt"/>
<line x1="462" y1="343.3" x2="543.3" y2="343.3" stroke="#9393e6" stroke-width="0.7" stroke-linecap="butt"/>
<rect x="462" y="292.4" width="81.3" height="81.5" fill="none" stroke="#787878" stroke-width="1.0"/>
<line x1="460.4" y1="373.4" x2="462" y2="373.4" stroke="#555" stroke-width="0.5" stroke-linecap="butt"/>
<line x1="462.5" y1="373.9" x2="462.5" y2="375.5" stroke="#555" stroke-width="0.5" stroke-linecap="butt"/>
<line x1="461.1" y1="367.38" x2="462" y2="367.38" stroke="#888" stroke-width="0.35" stroke-linecap="butt"/>
<line x1="468.5" y1="373.9" x2="468.5" y2="374.8" stroke="#888" stroke-width="0.35" stroke-linecap="butt"/>
<line x1="461.1" y1="363.3" x2="462" y2="363.3" stroke="#888" stroke-width="0.35" stroke-linecap="butt"/>
<line x1="472.57" y1="373.9" x2="472.57" y2="374.8" stroke="#888" stroke-width="0.35" stroke-linecap="butt"/>
<line x1="461.1" y1="360.04" x2="462" y2="360.04" stroke="#888" stroke-width="0.35" stroke-linecap="butt"/>
<line x1="475.82" y1="373.9" x2="475.82" y2="374.8" stroke="#888" stroke-width="0.35" stroke-linecap="butt"/>
<line x1="461.1" y1="357.6" x2="462" y2="357.6" stroke="#888" stroke-width="0.35" stroke-linecap="butt"/>
<line x1="478.26" y1="373.9" x2="478.26" y2="374.8" stroke="#888" stroke-width="0.35" stroke-linecap="butt"/>
<line x1="461.1" y1="355.56" x2="462" y2="355.56" stroke="#888" stroke-width="0.35" stroke-linecap="butt"/>
<line x1="480.29" y1="373.9" x2="480.29" y2="374.8" stroke="#888" stroke-width="0.35" stroke-linecap="butt"/>
<line x1="460.4" y1="353.02" x2="462" y2="353.02" stroke="#555" stroke-width="0.5" stroke-linecap="butt"/>
<line x1="482.82" y1="373.9" x2="482.82" y2="375.5" stroke="#555" stroke-width="0.5" stroke-linecap="butt"/>
<line x1="461.1" y1="347" x2="462" y2="347" stroke="#888" stroke-width="0.35" stroke-linecap="butt"/>
<line x1="488.83" y1="373.9" x2="488.83" y2="374.8" stroke="#888" stroke-width="0.35" stroke-linecap="butt"/>
<line x1="461.1" y1="342.93" x2="462" y2="342.93" stroke="#888" stroke-width="0.35" stroke-linecap="butt"/>
<line x1="492.89" y1="373.9" x2="492.89" y2="374.8" stroke="#888" stroke-width="0.35" stroke-linecap="butt"/>
<line x1="461.1" y1="339.67" x2="462" y2="339.67" stroke="#888" stroke-width="0.35" stroke-linecap="butt"/>
<line x1="496.15" y1="373.9" x2="496.15" y2="374.8" stroke="#888" stroke-width="0.35" stroke-linecap="butt"/>
<line x1="461.1" y1="337.22" x2="462" y2="337.22" stroke="#888" stroke-width="0.35" stroke-linecap="butt"/>
<line x1="498.58" y1="373.9" x2="498.58" y2="374.8" stroke="#888" stroke-width="0.35" stroke-linecap="butt"/>
<line x1="461.1" y1="335.19" x2="462" y2="335.19" stroke="#888" stroke-width="0.35" stroke-linecap="butt"/>
<line x1="500.62" y1="373.9" x2="500.62" y2="374.8" stroke="#888" stroke-width="0.35" stroke-linecap="butt"/>
<line x1="460.4" y1="332.65" x2="462" y2="332.65" stroke="#555" stroke-width="0.5" stroke-linecap="butt"/>
<line x1="503.15" y1="373.9" x2="503.15" y2="375.5" stroke="#555" stroke-width="0.5" stroke-linecap="butt"/>
<line x1="461.1" y1="326.63" x2="462" y2="326.63" stroke="#888" stroke-width="0.35" stroke-linecap="butt"/>
<line x1="509.15" y1="373.9" x2="509.15" y2="374.8" stroke="#888" stroke-width="0.35" stroke-linecap="butt"/>
<line x1="461.1" y1="322.55" x2="462" y2="322.55" stroke="#888" stroke-width="0.35" stroke-linecap="butt"/>
<line x1="513.22" y1="373.9" x2="513.22" y2="374.8" stroke="#888" stroke-width="0.35" stroke-linecap="butt"/>
<line x1="461.1" y1="319.29" x2="462" y2="319.29" stroke="#888" stroke-width="0.35" stroke-linecap="butt"/>
<line x1="516.47" y1="373.9" x2="516.47" y2="374.8" stroke="#888" stroke-width="0.35" stroke-linecap="butt"/>
<line x1="461.1" y1="316.85" x2="462" y2="316.85" stroke="#888" stroke-width="0.35" stroke-linecap="butt"/>
<line x1="518.91" y1="373.9" x2="518.91" y2="374.8" stroke="#888" stroke-width="0.35" stroke-linecap="butt"/>
<line x1="461.1" y1="314.81" x2="462" y2="314.81" stroke="#888" stroke-width="0.35" stroke-linecap="butt"/>
<line x1="520.94" y1="373.9" x2="520.94" y2="374.8" stroke="#888" stroke-width="0.35" stroke-linecap="butt"/>
<line x1="460.4" y1="312.27" x2="462" y2="312.27" stroke="#555" stroke-width="0.5" stroke-linecap="butt"/>
<line x1="523.47" y1="373.9" x2="523.47" y2="375.5" stroke="#555" stroke-width="0.5" stroke-linecap="butt"/>
<line x1="461.1" y1="306.25" x2="462" y2="306.25" stroke="#888" stroke-width="0.35" stroke-linecap="butt"/>
<line x1="529.48" y1="373.9" x2="529.48" y2="374.8" stroke="#888" stroke-width="0.35" stroke-linecap="butt"/>
<line x1="461.1" y1="302.18" x2="462" y2="302.18" stroke="#888" stroke-width="0.35" stroke-linecap="butt"/>
<line x1="533.54" y1="373.9" x2="533.54" y2="374.8" stroke="#888" stroke-width="0.35" stroke-linecap="butt"/>
<line x1="461.1" y1="298.92" x2="462" y2="298.92" stroke="#888" stroke-width="0.35" stroke-linecap="butt"/>
<line x1="536.8" y1="373.9" x2="536.8" y2="374.8" stroke="#888" stroke-width="0.35" stroke-linecap="butt"/>
<line x1="461.1" y1="296.47" x2="462" y2="296.47" stroke="#888" stroke-width="0.35" stroke-linecap="butt"/>
<line x1="539.23" y1="373.9" x2="539.23" y2="374.8" stroke="#888" stroke-width="0.35" stroke-linecap="butt"/>
<line x1="461.1" y1="294.44" x2="462" y2="294.44" stroke="#888" stroke-width="0.35" stroke-linecap="butt"/>
<line x1="541.27" y1="373.9" x2="541.27" y2="374.8" stroke="#888" stroke-width="0.35" stroke-linecap="butt"/>
<text font-size="9.7" text-anchor="start" fill="#000" x="464.6" y="302" >39.4</text>
<text font-size="9.7" text-anchor="end" fill="#000" x="541.3" y="370.7" >0</text>
<ellipse cx="478" cy="328.3" rx="9.6" ry="12.6" fill="#000" fill-opacity="0.04" stroke="#000" stroke-width="0.4" stroke-opacity="0.8"/>
<ellipse cx="478" cy="328.3" rx="8.3" ry="10.89" fill="#000" fill-opacity="0.04" stroke="#000" stroke-width="0.4" stroke-opacity="0.8"/>
<ellipse cx="478" cy="328.3" rx="6.29" ry="8.25" fill="#000" fill-opacity="0.04" stroke="#000" stroke-width="0.4" stroke-opacity="0.8"/>
<ellipse cx="478" cy="328.3" rx="3.87" ry="5.08" fill="#000" fill-opacity="0.04" stroke="#000" stroke-width="0.4" stroke-opacity="0.8"/>
<ellipse cx="478" cy="328.3" rx="1.15" ry="1.51" fill="#000" fill-opacity="0.04" stroke="#000" stroke-width="0.4" stroke-opacity="0.8"/>
<ellipse cx="481.6" cy="324.2" rx="4.8" ry="6" fill="#000" fill-opacity="0.12" stroke="#000" stroke-width="0.4" stroke-opacity="0.8" transform="rotate(-25 481.6 324.2)"/>
<ellipse cx="481.6" cy="324.2" rx="4.42" ry="5.53" fill="#000" fill-opacity="0.12" stroke="#000" stroke-width="0.4" stroke-opacity="0.8" transform="rotate(-25 481.6 324.2)"/>
<ellipse cx="481.6" cy="324.2" rx="3.84" ry="4.8" fill="#000" fill-opacity="0.12" stroke="#000" stroke-width="0.4" stroke-opacity="0.8" transform="rotate(-25 481.6 324.2)"/>
<ellipse cx="481.6" cy="324.2" rx="3.14" ry="3.93" fill="#000" fill-opacity="0.12" stroke="#000" stroke-width="0.4" stroke-opacity="0.8" transform="rotate(-25 481.6 324.2)"/>
<ellipse cx="481.6" cy="324.2" rx="2.36" ry="2.95" fill="#000" fill-opacity="0.12" stroke="#000" stroke-width="0.4" stroke-opacity="0.8" transform="rotate(-25 481.6 324.2)"/>
<ellipse cx="481.6" cy="324.2" rx="1.5" ry="1.87" fill="#000" fill-opacity="0.12" stroke="#000" stroke-width="0.4" stroke-opacity="0.8" transform="rotate(-25 481.6 324.2)"/>
<ellipse cx="481.6" cy="324.2" rx="0.58" ry="0.72" fill="#000" fill-opacity="0.12" stroke="#000" stroke-width="0.4" stroke-opacity="0.8" transform="rotate(-25 481.6 324.2)"/>
<ellipse cx="481.6" cy="324.2" rx="0.67" ry="0.84" fill="#fff" fill-opacity="0.55" transform="rotate(-25 481.6 324.2)"/>
<ellipse cx="472.6" cy="333" rx="3.6" ry="6.2" fill="#000" fill-opacity="0.05" stroke="#000" stroke-width="0.4" stroke-opacity="0.8" transform="rotate(10 472.6 333)"/>
<ellipse cx="472.6" cy="333" rx="3.11" ry="5.36" fill="#000" fill-opacity="0.05" stroke="#000" stroke-width="0.4" stroke-opacity="0.8" transform="rotate(10 472.6 333)"/>
<ellipse cx="472.6" cy="333" rx="2.36" ry="4.06" fill="#000" fill-opacity="0.05" stroke="#000" stroke-width="0.4" stroke-opacity="0.8" transform="rotate(10 472.6 333)"/>
<ellipse cx="472.6" cy="333" rx="1.45" ry="2.5" fill="#000" fill-opacity="0.05" stroke="#000" stroke-width="0.4" stroke-opacity="0.8" transform="rotate(10 472.6 333)"/>
<ellipse cx="472.6" cy="333" rx="0.43" ry="0.74" fill="#000" fill-opacity="0.05" stroke="#000" stroke-width="0.4" stroke-opacity="0.8" transform="rotate(10 472.6 333)"/>
<ellipse cx="479.6" cy="356.7" rx="12.2" ry="11.8" fill="#000" fill-opacity="0.04" stroke="#000" stroke-width="0.4" stroke-opacity="0.8"/>
<ellipse cx="479.6" cy="356.7" rx="10.55" ry="10.2" fill="#000" fill-opacity="0.04" stroke="#000" stroke-width="0.4" stroke-opacity="0.8"/>
<ellipse cx="479.6" cy="356.7" rx="7.99" ry="7.73" fill="#000" fill-opacity="0.04" stroke="#000" stroke-width="0.4" stroke-opacity="0.8"/>
<ellipse cx="479.6" cy="356.7" rx="4.92" ry="4.76" fill="#000" fill-opacity="0.04" stroke="#000" stroke-width="0.4" stroke-opacity="0.8"/>
<ellipse cx="479.6" cy="356.7" rx="1.46" ry="1.42" fill="#000" fill-opacity="0.04" stroke="#000" stroke-width="0.4" stroke-opacity="0.8"/>
<ellipse cx="476.3" cy="357" rx="8.3" ry="9.3" fill="#000" fill-opacity="0.11" stroke="#000" stroke-width="0.4" stroke-opacity="0.8" transform="rotate(25 476.3 357)"/>
<ellipse cx="476.3" cy="357" rx="7.77" ry="8.71" fill="#000" fill-opacity="0.11" stroke="#000" stroke-width="0.4" stroke-opacity="0.8" transform="rotate(25 476.3 357)"/>
<ellipse cx="476.3" cy="357" rx="6.95" ry="7.79" fill="#000" fill-opacity="0.11" stroke="#000" stroke-width="0.4" stroke-opacity="0.8" transform="rotate(25 476.3 357)"/>
<ellipse cx="476.3" cy="357" rx="5.97" ry="6.69" fill="#000" fill-opacity="0.11" stroke="#000" stroke-width="0.4" stroke-opacity="0.8" transform="rotate(25 476.3 357)"/>
<ellipse cx="476.3" cy="357" rx="4.87" ry="5.46" fill="#000" fill-opacity="0.11" stroke="#000" stroke-width="0.4" stroke-opacity="0.8" transform="rotate(25 476.3 357)"/>
<ellipse cx="476.3" cy="357" rx="3.66" ry="4.1" fill="#000" fill-opacity="0.11" stroke="#000" stroke-width="0.4" stroke-opacity="0.8" transform="rotate(25 476.3 357)"/>
<ellipse cx="476.3" cy="357" rx="2.37" ry="2.65" fill="#000" fill-opacity="0.11" stroke="#000" stroke-width="0.4" stroke-opacity="0.8" transform="rotate(25 476.3 357)"/>
<ellipse cx="476.3" cy="357" rx="1" ry="1.12" fill="#000" fill-opacity="0.11" stroke="#000" stroke-width="0.4" stroke-opacity="0.8" transform="rotate(25 476.3 357)"/>
<ellipse cx="476.3" cy="357" rx="1.16" ry="1.3" fill="#fff" fill-opacity="0.55" transform="rotate(25 476.3 357)"/>
<line x1="228" y1="388" x2="228" y2="469.7" stroke="#9393e6" stroke-width="0.7" stroke-linecap="butt"/>
<line x1="198.3" y1="443.5" x2="279.6" y2="443.5" stroke="#9393e6" stroke-width="0.7" stroke-linecap="butt"/>
<rect x="198.3" y="388" width="81.3" height="81.7" fill="none" stroke="#787878" stroke-width="1.0"/>
<line x1="196.7" y1="469.2" x2="198.3" y2="469.2" stroke="#555" stroke-width="0.5" stroke-linecap="butt"/>
<line x1="198.8" y1="469.7" x2="198.8" y2="471.3" stroke="#555" stroke-width="0.5" stroke-linecap="butt"/>
<line x1="197.4" y1="463.16" x2="198.3" y2="463.16" stroke="#888" stroke-width="0.35" stroke-linecap="butt"/>
<line x1="204.8" y1="469.7" x2="204.8" y2="470.6" stroke="#888" stroke-width="0.35" stroke-linecap="butt"/>
<line x1="197.4" y1="459.08" x2="198.3" y2="459.08" stroke="#888" stroke-width="0.35" stroke-linecap="butt"/>
<line x1="208.87" y1="469.7" x2="208.87" y2="470.6" stroke="#888" stroke-width="0.35" stroke-linecap="butt"/>
<line x1="197.4" y1="455.81" x2="198.3" y2="455.81" stroke="#888" stroke-width="0.35" stroke-linecap="butt"/>
<line x1="212.12" y1="469.7" x2="212.12" y2="470.6" stroke="#888" stroke-width="0.35" stroke-linecap="butt"/>
<line x1="197.4" y1="453.36" x2="198.3" y2="453.36" stroke="#888" stroke-width="0.35" stroke-linecap="butt"/>
<line x1="214.56" y1="469.7" x2="214.56" y2="470.6" stroke="#888" stroke-width="0.35" stroke-linecap="butt"/>
<line x1="197.4" y1="451.32" x2="198.3" y2="451.32" stroke="#888" stroke-width="0.35" stroke-linecap="butt"/>
<line x1="216.59" y1="469.7" x2="216.59" y2="470.6" stroke="#888" stroke-width="0.35" stroke-linecap="butt"/>
<line x1="196.7" y1="448.77" x2="198.3" y2="448.77" stroke="#555" stroke-width="0.5" stroke-linecap="butt"/>
<line x1="219.12" y1="469.7" x2="219.12" y2="471.3" stroke="#555" stroke-width="0.5" stroke-linecap="butt"/>
<line x1="197.4" y1="442.74" x2="198.3" y2="442.74" stroke="#888" stroke-width="0.35" stroke-linecap="butt"/>
<line x1="225.13" y1="469.7" x2="225.13" y2="470.6" stroke="#888" stroke-width="0.35" stroke-linecap="butt"/>
<line x1="197.4" y1="438.65" x2="198.3" y2="438.65" stroke="#888" stroke-width="0.35" stroke-linecap="butt"/>
<line x1="229.19" y1="469.7" x2="229.19" y2="470.6" stroke="#888" stroke-width="0.35" stroke-linecap="butt"/>
<line x1="197.4" y1="435.39" x2="198.3" y2="435.39" stroke="#888" stroke-width="0.35" stroke-linecap="butt"/>
<line x1="232.45" y1="469.7" x2="232.45" y2="470.6" stroke="#888" stroke-width="0.35" stroke-linecap="butt"/>
<line x1="197.4" y1="432.94" x2="198.3" y2="432.94" stroke="#888" stroke-width="0.35" stroke-linecap="butt"/>
<line x1="234.89" y1="469.7" x2="234.89" y2="470.6" stroke="#888" stroke-width="0.35" stroke-linecap="butt"/>
<line x1="197.4" y1="430.89" x2="198.3" y2="430.89" stroke="#888" stroke-width="0.35" stroke-linecap="butt"/>
<line x1="236.92" y1="469.7" x2="236.92" y2="470.6" stroke="#888" stroke-width="0.35" stroke-linecap="butt"/>
<line x1="196.7" y1="428.35" x2="198.3" y2="428.35" stroke="#555" stroke-width="0.5" stroke-linecap="butt"/>
<line x1="239.45" y1="469.7" x2="239.45" y2="471.3" stroke="#555" stroke-width="0.5" stroke-linecap="butt"/>
<line x1="197.4" y1="422.31" x2="198.3" y2="422.31" stroke="#888" stroke-width="0.35" stroke-linecap="butt"/>
<line x1="245.45" y1="469.7" x2="245.45" y2="470.6" stroke="#888" stroke-width="0.35" stroke-linecap="butt"/>
<line x1="197.4" y1="418.23" x2="198.3" y2="418.23" stroke="#888" stroke-width="0.35" stroke-linecap="butt"/>
<line x1="249.52" y1="469.7" x2="249.52" y2="470.6" stroke="#888" stroke-width="0.35" stroke-linecap="butt"/>
<line x1="197.4" y1="414.96" x2="198.3" y2="414.96" stroke="#888" stroke-width="0.35" stroke-linecap="butt"/>
<line x1="252.77" y1="469.7" x2="252.77" y2="470.6" stroke="#888" stroke-width="0.35" stroke-linecap="butt"/>
<line x1="197.4" y1="412.51" x2="198.3" y2="412.51" stroke="#888" stroke-width="0.35" stroke-linecap="butt"/>
<line x1="255.21" y1="469.7" x2="255.21" y2="470.6" stroke="#888" stroke-width="0.35" stroke-linecap="butt"/>
<line x1="197.4" y1="410.47" x2="198.3" y2="410.47" stroke="#888" stroke-width="0.35" stroke-linecap="butt"/>
<line x1="257.24" y1="469.7" x2="257.24" y2="470.6" stroke="#888" stroke-width="0.35" stroke-linecap="butt"/>
<line x1="196.7" y1="407.93" x2="198.3" y2="407.93" stroke="#555" stroke-width="0.5" stroke-linecap="butt"/>
<line x1="259.78" y1="469.7" x2="259.78" y2="471.3" stroke="#555" stroke-width="0.5" stroke-linecap="butt"/>
<line x1="197.4" y1="401.89" x2="198.3" y2="401.89" stroke="#888" stroke-width="0.35" stroke-linecap="butt"/>
<line x1="265.78" y1="469.7" x2="265.78" y2="470.6" stroke="#888" stroke-width="0.35" stroke-linecap="butt"/>
<line x1="197.4" y1="397.8" x2="198.3" y2="397.8" stroke="#888" stroke-width="0.35" stroke-linecap="butt"/>
<line x1="269.84" y1="469.7" x2="269.84" y2="470.6" stroke="#888" stroke-width="0.35" stroke-linecap="butt"/>
<line x1="197.4" y1="394.54" x2="198.3" y2="394.54" stroke="#888" stroke-width="0.35" stroke-linecap="butt"/>
<line x1="273.1" y1="469.7" x2="273.1" y2="470.6" stroke="#888" stroke-width="0.35" stroke-linecap="butt"/>
<line x1="197.4" y1="392.09" x2="198.3" y2="392.09" stroke="#888" stroke-width="0.35" stroke-linecap="butt"/>
<line x1="275.54" y1="469.7" x2="275.54" y2="470.6" stroke="#888" stroke-width="0.35" stroke-linecap="butt"/>
<line x1="197.4" y1="390.04" x2="198.3" y2="390.04" stroke="#888" stroke-width="0.35" stroke-linecap="butt"/>
<line x1="277.57" y1="469.7" x2="277.57" y2="470.6" stroke="#888" stroke-width="0.35" stroke-linecap="butt"/>
<text font-size="9.7" text-anchor="start" fill="#000" x="200.9" y="397.6" >1.49</text>
<text font-size="9.7" text-anchor="end" fill="#000" x="277.6" y="466.5" >9.41</text>
<ellipse cx="215.5" cy="454.5" rx="12" ry="10.8" fill="#000" fill-opacity="0.04" stroke="#000" stroke-width="0.4" stroke-opacity="0.8"/>
<ellipse cx="215.5" cy="454.5" rx="10.37" ry="9.34" fill="#000" fill-opacity="0.04" stroke="#000" stroke-width="0.4" stroke-opacity="0.8"/>
<ellipse cx="215.5" cy="454.5" rx="7.86" ry="7.07" fill="#000" fill-opacity="0.04" stroke="#000" stroke-width="0.4" stroke-opacity="0.8"/>
<ellipse cx="215.5" cy="454.5" rx="4.84" ry="4.35" fill="#000" fill-opacity="0.04" stroke="#000" stroke-width="0.4" stroke-opacity="0.8"/>
<ellipse cx="215.5" cy="454.5" rx="1.44" ry="1.3" fill="#000" fill-opacity="0.04" stroke="#000" stroke-width="0.4" stroke-opacity="0.8"/>
<ellipse cx="214.8" cy="454" rx="9.5" ry="8" fill="#000" fill-opacity="0.11" stroke="#000" stroke-width="0.4" stroke-opacity="0.8"/>
<ellipse cx="214.8" cy="454" rx="9" ry="7.57" fill="#000" fill-opacity="0.11" stroke="#000" stroke-width="0.4" stroke-opacity="0.8"/>
<ellipse cx="214.8" cy="454" rx="8.21" ry="6.92" fill="#000" fill-opacity="0.11" stroke="#000" stroke-width="0.4" stroke-opacity="0.8"/>
<ellipse cx="214.8" cy="454" rx="7.28" ry="6.13" fill="#000" fill-opacity="0.11" stroke="#000" stroke-width="0.4" stroke-opacity="0.8"/>
<ellipse cx="214.8" cy="454" rx="6.22" ry="5.24" fill="#000" fill-opacity="0.11" stroke="#000" stroke-width="0.4" stroke-opacity="0.8"/>
<ellipse cx="214.8" cy="454" rx="5.07" ry="4.27" fill="#000" fill-opacity="0.11" stroke="#000" stroke-width="0.4" stroke-opacity="0.8"/>
<ellipse cx="214.8" cy="454" rx="3.83" ry="3.23" fill="#000" fill-opacity="0.11" stroke="#000" stroke-width="0.4" stroke-opacity="0.8"/>
<ellipse cx="214.8" cy="454" rx="2.52" ry="2.12" fill="#000" fill-opacity="0.11" stroke="#000" stroke-width="0.4" stroke-opacity="0.8"/>
<ellipse cx="214.8" cy="454" rx="1.14" ry="0.96" fill="#000" fill-opacity="0.11" stroke="#000" stroke-width="0.4" stroke-opacity="0.8"/>
<ellipse cx="231.8" cy="452.8" rx="12.5" ry="5.4" fill="none" stroke="#333" stroke-width="0.35"/>
<ellipse cx="232.2" cy="452.8" rx="10" ry="4.1" fill="none" stroke="#333" stroke-width="0.35"/>
<ellipse cx="232.6" cy="452.8" rx="7.5" ry="2.8" fill="none" stroke="#333" stroke-width="0.35"/>
<circle cx="215.89" cy="418.77" r="0.45" fill="#444"/>
<circle cx="219.81" cy="416.81" r="0.45" fill="#444"/>
<circle cx="218.43" cy="424.14" r="0.45" fill="#444"/>
<circle cx="212.7" cy="427.69" r="0.45" fill="#444"/>
<circle cx="212.45" cy="425.84" r="0.45" fill="#444"/>
<circle cx="212.84" cy="417.27" r="0.45" fill="#444"/>
<circle cx="248.55" cy="454.96" r="0.45" fill="#444"/>
<circle cx="246.74" cy="451.34" r="0.45" fill="#444"/>
<circle cx="249.76" cy="455.69" r="0.45" fill="#444"/>
<line x1="316.8" y1="388" x2="316.8" y2="469.7" stroke="#9393e6" stroke-width="0.7" stroke-linecap="butt"/>
<line x1="286.3" y1="443.5" x2="367.5" y2="443.5" stroke="#9393e6" stroke-width="0.7" stroke-linecap="butt"/>
<rect x="286.3" y="388" width="81.2" height="81.7" fill="none" stroke="#787878" stroke-width="1.0"/>
<line x1="284.7" y1="469.2" x2="286.3" y2="469.2" stroke="#555" stroke-width="0.5" stroke-linecap="butt"/>
<line x1="286.8" y1="469.7" x2="286.8" y2="471.3" stroke="#555" stroke-width="0.5" stroke-linecap="butt"/>
<line x1="285.4" y1="463.16" x2="286.3" y2="463.16" stroke="#888" stroke-width="0.35" stroke-linecap="butt"/>
<line x1="292.8" y1="469.7" x2="292.8" y2="470.6" stroke="#888" stroke-width="0.35" stroke-linecap="butt"/>
<line x1="285.4" y1="459.08" x2="286.3" y2="459.08" stroke="#888" stroke-width="0.35" stroke-linecap="butt"/>
<line x1="296.86" y1="469.7" x2="296.86" y2="470.6" stroke="#888" stroke-width="0.35" stroke-linecap="butt"/>
<line x1="285.4" y1="455.81" x2="286.3" y2="455.81" stroke="#888" stroke-width="0.35" stroke-linecap="butt"/>
<line x1="300.1" y1="469.7" x2="300.1" y2="470.6" stroke="#888" stroke-width="0.35" stroke-linecap="butt"/>
<line x1="285.4" y1="453.36" x2="286.3" y2="453.36" stroke="#888" stroke-width="0.35" stroke-linecap="butt"/>
<line x1="302.54" y1="469.7" x2="302.54" y2="470.6" stroke="#888" stroke-width="0.35" stroke-linecap="butt"/>
<line x1="285.4" y1="451.32" x2="286.3" y2="451.32" stroke="#888" stroke-width="0.35" stroke-linecap="butt"/>
<line x1="304.57" y1="469.7" x2="304.57" y2="470.6" stroke="#888" stroke-width="0.35" stroke-linecap="butt"/>
<line x1="284.7" y1="448.77" x2="286.3" y2="448.77" stroke="#555" stroke-width="0.5" stroke-linecap="butt"/>
<line x1="307.1" y1="469.7" x2="307.1" y2="471.3" stroke="#555" stroke-width="0.5" stroke-linecap="butt"/>
<line x1="285.4" y1="442.74" x2="286.3" y2="442.74" stroke="#888" stroke-width="0.35" stroke-linecap="butt"/>
<line x1="313.1" y1="469.7" x2="313.1" y2="470.6" stroke="#888" stroke-width="0.35" stroke-linecap="butt"/>
<line x1="285.4" y1="438.65" x2="286.3" y2="438.65" stroke="#888" stroke-width="0.35" stroke-linecap="butt"/>
<line x1="317.16" y1="469.7" x2="317.16" y2="470.6" stroke="#888" stroke-width="0.35" stroke-linecap="butt"/>
<line x1="285.4" y1="435.39" x2="286.3" y2="435.39" stroke="#888" stroke-width="0.35" stroke-linecap="butt"/>
<line x1="320.4" y1="469.7" x2="320.4" y2="470.6" stroke="#888" stroke-width="0.35" stroke-linecap="butt"/>
<line x1="285.4" y1="432.94" x2="286.3" y2="432.94" stroke="#888" stroke-width="0.35" stroke-linecap="butt"/>
<line x1="322.84" y1="469.7" x2="322.84" y2="470.6" stroke="#888" stroke-width="0.35" stroke-linecap="butt"/>
<line x1="285.4" y1="430.89" x2="286.3" y2="430.89" stroke="#888" stroke-width="0.35" stroke-linecap="butt"/>
<line x1="324.87" y1="469.7" x2="324.87" y2="470.6" stroke="#888" stroke-width="0.35" stroke-linecap="butt"/>
<line x1="284.7" y1="428.35" x2="286.3" y2="428.35" stroke="#555" stroke-width="0.5" stroke-linecap="butt"/>
<line x1="327.4" y1="469.7" x2="327.4" y2="471.3" stroke="#555" stroke-width="0.5" stroke-linecap="butt"/>
<line x1="285.4" y1="422.31" x2="286.3" y2="422.31" stroke="#888" stroke-width="0.35" stroke-linecap="butt"/>
<line x1="333.4" y1="469.7" x2="333.4" y2="470.6" stroke="#888" stroke-width="0.35" stroke-linecap="butt"/>
<line x1="285.4" y1="418.23" x2="286.3" y2="418.23" stroke="#888" stroke-width="0.35" stroke-linecap="butt"/>
<line x1="337.46" y1="469.7" x2="337.46" y2="470.6" stroke="#888" stroke-width="0.35" stroke-linecap="butt"/>
<line x1="285.4" y1="414.96" x2="286.3" y2="414.96" stroke="#888" stroke-width="0.35" stroke-linecap="butt"/>
<line x1="340.7" y1="469.7" x2="340.7" y2="470.6" stroke="#888" stroke-width="0.35" stroke-linecap="butt"/>
<line x1="285.4" y1="412.51" x2="286.3" y2="412.51" stroke="#888" stroke-width="0.35" stroke-linecap="butt"/>
<line x1="343.14" y1="469.7" x2="343.14" y2="470.6" stroke="#888" stroke-width="0.35" stroke-linecap="butt"/>
<line x1="285.4" y1="410.47" x2="286.3" y2="410.47" stroke="#888" stroke-width="0.35" stroke-linecap="butt"/>
<line x1="345.17" y1="469.7" x2="345.17" y2="470.6" stroke="#888" stroke-width="0.35" stroke-linecap="butt"/>
<line x1="284.7" y1="407.93" x2="286.3" y2="407.93" stroke="#555" stroke-width="0.5" stroke-linecap="butt"/>
<line x1="347.7" y1="469.7" x2="347.7" y2="471.3" stroke="#555" stroke-width="0.5" stroke-linecap="butt"/>
<line x1="285.4" y1="401.89" x2="286.3" y2="401.89" stroke="#888" stroke-width="0.35" stroke-linecap="butt"/>
<line x1="353.7" y1="469.7" x2="353.7" y2="470.6" stroke="#888" stroke-width="0.35" stroke-linecap="butt"/>
<line x1="285.4" y1="397.8" x2="286.3" y2="397.8" stroke="#888" stroke-width="0.35" stroke-linecap="butt"/>
<line x1="357.76" y1="469.7" x2="357.76" y2="470.6" stroke="#888" stroke-width="0.35" stroke-linecap="butt"/>
<line x1="285.4" y1="394.54" x2="286.3" y2="394.54" stroke="#888" stroke-width="0.35" stroke-linecap="butt"/>
<line x1="361" y1="469.7" x2="361" y2="470.6" stroke="#888" stroke-width="0.35" stroke-linecap="butt"/>
<line x1="285.4" y1="392.09" x2="286.3" y2="392.09" stroke="#888" stroke-width="0.35" stroke-linecap="butt"/>
<line x1="363.44" y1="469.7" x2="363.44" y2="470.6" stroke="#888" stroke-width="0.35" stroke-linecap="butt"/>
<line x1="285.4" y1="390.04" x2="286.3" y2="390.04" stroke="#888" stroke-width="0.35" stroke-linecap="butt"/>
<line x1="365.47" y1="469.7" x2="365.47" y2="470.6" stroke="#888" stroke-width="0.35" stroke-linecap="butt"/>
<text font-size="9.7" text-anchor="start" fill="#000" x="288.9" y="397.6" >3.69</text>
<text font-size="9.7" text-anchor="end" fill="#000" x="365.5" y="466.5" >8.35</text>
<ellipse cx="308" cy="453.5" rx="17.5" ry="12" fill="#000" fill-opacity="0.02" stroke="#000" stroke-width="0.4" stroke-opacity="0.8"/>
<ellipse cx="308" cy="453.5" rx="15.71" ry="10.77" fill="#000" fill-opacity="0.02" stroke="#000" stroke-width="0.4" stroke-opacity="0.8"/>
<ellipse cx="308" cy="453.5" rx="12.94" ry="8.88" fill="#000" fill-opacity="0.02" stroke="#000" stroke-width="0.4" stroke-opacity="0.8"/>
<ellipse cx="308" cy="453.5" rx="9.62" ry="6.6" fill="#000" fill-opacity="0.02" stroke="#000" stroke-width="0.4" stroke-opacity="0.8"/>
<ellipse cx="304.5" cy="454" rx="12" ry="10" fill="#000" fill-opacity="0.04" stroke="#000" stroke-width="0.4" stroke-opacity="0.8"/>
<ellipse cx="304.5" cy="454" rx="10.37" ry="8.65" fill="#000" fill-opacity="0.04" stroke="#000" stroke-width="0.4" stroke-opacity="0.8"/>
<ellipse cx="304.5" cy="454" rx="7.86" ry="6.55" fill="#000" fill-opacity="0.04" stroke="#000" stroke-width="0.4" stroke-opacity="0.8"/>
<ellipse cx="304.5" cy="454" rx="4.84" ry="4.03" fill="#000" fill-opacity="0.04" stroke="#000" stroke-width="0.4" stroke-opacity="0.8"/>
<ellipse cx="304.5" cy="454" rx="1.44" ry="1.2" fill="#000" fill-opacity="0.04" stroke="#000" stroke-width="0.4" stroke-opacity="0.8"/>
<ellipse cx="303.3" cy="453.8" rx="9" ry="7.5" fill="#000" fill-opacity="0.11" stroke="#000" stroke-width="0.4" stroke-opacity="0.8"/>
<ellipse cx="303.3" cy="453.8" rx="8.52" ry="7.1" fill="#000" fill-opacity="0.11" stroke="#000" stroke-width="0.4" stroke-opacity="0.8"/>
<ellipse cx="303.3" cy="453.8" rx="7.78" ry="6.48" fill="#000" fill-opacity="0.11" stroke="#000" stroke-width="0.4" stroke-opacity="0.8"/>
<ellipse cx="303.3" cy="453.8" rx="6.89" ry="5.74" fill="#000" fill-opacity="0.11" stroke="#000" stroke-width="0.4" stroke-opacity="0.8"/>
<ellipse cx="303.3" cy="453.8" rx="5.89" ry="4.91" fill="#000" fill-opacity="0.11" stroke="#000" stroke-width="0.4" stroke-opacity="0.8"/>
<ellipse cx="303.3" cy="453.8" rx="4.8" ry="4" fill="#000" fill-opacity="0.11" stroke="#000" stroke-width="0.4" stroke-opacity="0.8"/>
<ellipse cx="303.3" cy="453.8" rx="3.63" ry="3.02" fill="#000" fill-opacity="0.11" stroke="#000" stroke-width="0.4" stroke-opacity="0.8"/>
<ellipse cx="303.3" cy="453.8" rx="2.39" ry="1.99" fill="#000" fill-opacity="0.11" stroke="#000" stroke-width="0.4" stroke-opacity="0.8"/>
<ellipse cx="303.3" cy="453.8" rx="1.08" ry="0.9" fill="#000" fill-opacity="0.11" stroke="#000" stroke-width="0.4" stroke-opacity="0.8"/>
<ellipse cx="316.5" cy="454" rx="8" ry="6" fill="none" stroke="#333" stroke-width="0.35"/>
<ellipse cx="316.5" cy="454" rx="4.4" ry="3.3" fill="none" stroke="#333" stroke-width="0.35"/>
<ellipse cx="316.5" cy="454" rx="0.8" ry="0.6" fill="none" stroke="#333" stroke-width="0.35"/>
<circle cx="308.7" cy="428.33" r="0.45" fill="#444"/>
<circle cx="317.48" cy="420.98" r="0.45" fill="#444"/>
<circle cx="314.89" cy="426.08" r="0.45" fill="#444"/>
<circle cx="299.17" cy="422.47" r="0.45" fill="#444"/>
<circle cx="302.79" cy="437.14" r="0.45" fill="#444"/>
<circle cx="299.98" cy="432.21" r="0.45" fill="#444"/>
<circle cx="310.06" cy="427.82" r="0.45" fill="#444"/>
<circle cx="308.05" cy="421.32" r="0.45" fill="#444"/>
<circle cx="297.31" cy="424.33" r="0.45" fill="#444"/>
<circle cx="310.97" cy="428.98" r="0.45" fill="#444"/>
<circle cx="302.91" cy="432.3" r="0.45" fill="#444"/>
<circle cx="305.97" cy="426.3" r="0.45" fill="#444"/>
<circle cx="337.94" cy="448.49" r="0.45" fill="#444"/>
<circle cx="332.44" cy="447.87" r="0.45" fill="#444"/>
<line x1="403.5" y1="388" x2="403.5" y2="469.7" stroke="#9393e6" stroke-width="0.7" stroke-linecap="butt"/>
<line x1="374.4" y1="443.5" x2="455" y2="443.5" stroke="#9393e6" stroke-width="0.7" stroke-linecap="butt"/>
<rect x="374.4" y="388" width="80.6" height="81.7" fill="none" stroke="#787878" stroke-width="1.0"/>
<line x1="372.8" y1="469.2" x2="374.4" y2="469.2" stroke="#555" stroke-width="0.5" stroke-linecap="butt"/>
<line x1="374.9" y1="469.7" x2="374.9" y2="471.3" stroke="#555" stroke-width="0.5" stroke-linecap="butt"/>
<line x1="373.5" y1="463.16" x2="374.4" y2="463.16" stroke="#888" stroke-width="0.35" stroke-linecap="butt"/>
<line x1="380.85" y1="469.7" x2="380.85" y2="470.6" stroke="#888" stroke-width="0.35" stroke-linecap="butt"/>
<line x1="373.5" y1="459.08" x2="374.4" y2="459.08" stroke="#888" stroke-width="0.35" stroke-linecap="butt"/>
<line x1="384.88" y1="469.7" x2="384.88" y2="470.6" stroke="#888" stroke-width="0.35" stroke-linecap="butt"/>
<line x1="373.5" y1="455.81" x2="374.4" y2="455.81" stroke="#888" stroke-width="0.35" stroke-linecap="butt"/>
<line x1="388.1" y1="469.7" x2="388.1" y2="470.6" stroke="#888" stroke-width="0.35" stroke-linecap="butt"/>
<line x1="373.5" y1="453.36" x2="374.4" y2="453.36" stroke="#888" stroke-width="0.35" stroke-linecap="butt"/>
<line x1="390.52" y1="469.7" x2="390.52" y2="470.6" stroke="#888" stroke-width="0.35" stroke-linecap="butt"/>
<line x1="373.5" y1="451.32" x2="374.4" y2="451.32" stroke="#888" stroke-width="0.35" stroke-linecap="butt"/>
<line x1="392.53" y1="469.7" x2="392.53" y2="470.6" stroke="#888" stroke-width="0.35" stroke-linecap="butt"/>
<line x1="372.8" y1="448.77" x2="374.4" y2="448.77" stroke="#555" stroke-width="0.5" stroke-linecap="butt"/>
<line x1="395.05" y1="469.7" x2="395.05" y2="471.3" stroke="#555" stroke-width="0.5" stroke-linecap="butt"/>
<line x1="373.5" y1="442.74" x2="374.4" y2="442.74" stroke="#888" stroke-width="0.35" stroke-linecap="butt"/>
<line x1="401" y1="469.7" x2="401" y2="470.6" stroke="#888" stroke-width="0.35" stroke-linecap="butt"/>
<line x1="373.5" y1="438.65" x2="374.4" y2="438.65" stroke="#888" stroke-width="0.35" stroke-linecap="butt"/>
<line x1="405.03" y1="469.7" x2="405.03" y2="470.6" stroke="#888" stroke-width="0.35" stroke-linecap="butt"/>
<line x1="373.5" y1="435.39" x2="374.4" y2="435.39" stroke="#888" stroke-width="0.35" stroke-linecap="butt"/>
<line x1="408.25" y1="469.7" x2="408.25" y2="470.6" stroke="#888" stroke-width="0.35" stroke-linecap="butt"/>
<line x1="373.5" y1="432.94" x2="374.4" y2="432.94" stroke="#888" stroke-width="0.35" stroke-linecap="butt"/>
<line x1="410.67" y1="469.7" x2="410.67" y2="470.6" stroke="#888" stroke-width="0.35" stroke-linecap="butt"/>
<line x1="373.5" y1="430.89" x2="374.4" y2="430.89" stroke="#888" stroke-width="0.35" stroke-linecap="butt"/>
<line x1="412.69" y1="469.7" x2="412.69" y2="470.6" stroke="#888" stroke-width="0.35" stroke-linecap="butt"/>
<line x1="372.8" y1="428.35" x2="374.4" y2="428.35" stroke="#555" stroke-width="0.5" stroke-linecap="butt"/>
<line x1="415.2" y1="469.7" x2="415.2" y2="471.3" stroke="#555" stroke-width="0.5" stroke-linecap="butt"/>
<line x1="373.5" y1="422.31" x2="374.4" y2="422.31" stroke="#888" stroke-width="0.35" stroke-linecap="butt"/>
<line x1="421.15" y1="469.7" x2="421.15" y2="470.6" stroke="#888" stroke-width="0.35" stroke-linecap="butt"/>
<line x1="373.5" y1="418.23" x2="374.4" y2="418.23" stroke="#888" stroke-width="0.35" stroke-linecap="butt"/>
<line x1="425.18" y1="469.7" x2="425.18" y2="470.6" stroke="#888" stroke-width="0.35" stroke-linecap="butt"/>
<line x1="373.5" y1="414.96" x2="374.4" y2="414.96" stroke="#888" stroke-width="0.35" stroke-linecap="butt"/>
<line x1="428.4" y1="469.7" x2="428.4" y2="470.6" stroke="#888" stroke-width="0.35" stroke-linecap="butt"/>
<line x1="373.5" y1="412.51" x2="374.4" y2="412.51" stroke="#888" stroke-width="0.35" stroke-linecap="butt"/>
<line x1="430.82" y1="469.7" x2="430.82" y2="470.6" stroke="#888" stroke-width="0.35" stroke-linecap="butt"/>
<line x1="373.5" y1="410.47" x2="374.4" y2="410.47" stroke="#888" stroke-width="0.35" stroke-linecap="butt"/>
<line x1="432.83" y1="469.7" x2="432.83" y2="470.6" stroke="#888" stroke-width="0.35" stroke-linecap="butt"/>
<line x1="372.8" y1="407.93" x2="374.4" y2="407.93" stroke="#555" stroke-width="0.5" stroke-linecap="butt"/>
<line x1="435.35" y1="469.7" x2="435.35" y2="471.3" stroke="#555" stroke-width="0.5" stroke-linecap="butt"/>
<line x1="373.5" y1="401.89" x2="374.4" y2="401.89" stroke="#888" stroke-width="0.35" stroke-linecap="butt"/>
<line x1="441.3" y1="469.7" x2="441.3" y2="470.6" stroke="#888" stroke-width="0.35" stroke-linecap="butt"/>
<line x1="373.5" y1="397.8" x2="374.4" y2="397.8" stroke="#888" stroke-width="0.35" stroke-linecap="butt"/>
<line x1="445.33" y1="469.7" x2="445.33" y2="470.6" stroke="#888" stroke-width="0.35" stroke-linecap="butt"/>
<line x1="373.5" y1="394.54" x2="374.4" y2="394.54" stroke="#888" stroke-width="0.35" stroke-linecap="butt"/>
<line x1="448.55" y1="469.7" x2="448.55" y2="470.6" stroke="#888" stroke-width="0.35" stroke-linecap="butt"/>
<line x1="373.5" y1="392.09" x2="374.4" y2="392.09" stroke="#888" stroke-width="0.35" stroke-linecap="butt"/>
<line x1="450.97" y1="469.7" x2="450.97" y2="470.6" stroke="#888" stroke-width="0.35" stroke-linecap="butt"/>
<line x1="373.5" y1="390.04" x2="374.4" y2="390.04" stroke="#888" stroke-width="0.35" stroke-linecap="butt"/>
<line x1="452.99" y1="469.7" x2="452.99" y2="470.6" stroke="#888" stroke-width="0.35" stroke-linecap="butt"/>
<text font-size="9.7" text-anchor="start" fill="#000" x="377" y="397.6" >0.89</text>
<text font-size="9.7" text-anchor="end" fill="#000" x="453" y="466.5" >40.1</text>
<ellipse cx="407" cy="454.5" rx="25.5" ry="9.5" fill="#000" fill-opacity="0.03" stroke="#000" stroke-width="0.4" stroke-opacity="0.8"/>
<ellipse cx="407" cy="454.5" rx="23.19" ry="8.64" fill="#000" fill-opacity="0.03" stroke="#000" stroke-width="0.4" stroke-opacity="0.8"/>
<ellipse cx="407" cy="454.5" rx="19.6" ry="7.3" fill="#000" fill-opacity="0.03" stroke="#000" stroke-width="0.4" stroke-opacity="0.8"/>
<ellipse cx="407" cy="454.5" rx="15.3" ry="5.7" fill="#000" fill-opacity="0.03" stroke="#000" stroke-width="0.4" stroke-opacity="0.8"/>
<ellipse cx="403" cy="454.2" rx="21" ry="8" fill="#000" fill-opacity="0.04" stroke="#000" stroke-width="0.4" stroke-opacity="0.8"/>
<ellipse cx="403" cy="454.2" rx="18.16" ry="6.92" fill="#000" fill-opacity="0.04" stroke="#000" stroke-width="0.4" stroke-opacity="0.8"/>
<ellipse cx="403" cy="454.2" rx="13.75" ry="5.24" fill="#000" fill-opacity="0.04" stroke="#000" stroke-width="0.4" stroke-opacity="0.8"/>
<ellipse cx="403" cy="454.2" rx="8.47" ry="3.23" fill="#000" fill-opacity="0.04" stroke="#000" stroke-width="0.4" stroke-opacity="0.8"/>
<ellipse cx="403" cy="454.2" rx="2.52" ry="0.96" fill="#000" fill-opacity="0.04" stroke="#000" stroke-width="0.4" stroke-opacity="0.8"/>
<ellipse cx="402" cy="454" rx="17.5" ry="5.5" fill="#000" fill-opacity="0.12" stroke="#000" stroke-width="0.4" stroke-opacity="0.8"/>
<ellipse cx="402" cy="454" rx="16.57" ry="5.21" fill="#000" fill-opacity="0.12" stroke="#000" stroke-width="0.4" stroke-opacity="0.8"/>
<ellipse cx="402" cy="454" rx="15.13" ry="4.76" fill="#000" fill-opacity="0.12" stroke="#000" stroke-width="0.4" stroke-opacity="0.8"/>
<ellipse cx="402" cy="454" rx="13.4" ry="4.21" fill="#000" fill-opacity="0.12" stroke="#000" stroke-width="0.4" stroke-opacity="0.8"/>
<ellipse cx="402" cy="454" rx="11.46" ry="3.6" fill="#000" fill-opacity="0.12" stroke="#000" stroke-width="0.4" stroke-opacity="0.8"/>
<ellipse cx="402" cy="454" rx="9.33" ry="2.93" fill="#000" fill-opacity="0.12" stroke="#000" stroke-width="0.4" stroke-opacity="0.8"/>
<ellipse cx="402" cy="454" rx="7.06" ry="2.22" fill="#000" fill-opacity="0.12" stroke="#000" stroke-width="0.4" stroke-opacity="0.8"/>
<ellipse cx="402" cy="454" rx="4.64" ry="1.46" fill="#000" fill-opacity="0.12" stroke="#000" stroke-width="0.4" stroke-opacity="0.8"/>
<ellipse cx="402" cy="454" rx="2.1" ry="0.66" fill="#000" fill-opacity="0.12" stroke="#000" stroke-width="0.4" stroke-opacity="0.8"/>
<circle cx="405.96" cy="433.5" r="0.45" fill="#444"/>
<circle cx="413.72" cy="421.76" r="0.45" fill="#444"/>
<circle cx="423.25" cy="418.36" r="0.45" fill="#444"/>
<circle cx="401.89" cy="431.14" r="0.45" fill="#444"/>
<circle cx="391.78" cy="425.78" r="0.45" fill="#444"/>
<circle cx="387.49" cy="429.36" r="0.45" fill="#444"/>
<circle cx="415.05" cy="427.46" r="0.45" fill="#444"/>
<circle cx="419.27" cy="422.27" r="0.45" fill="#444"/>
<circle cx="412.42" cy="427.89" r="0.45" fill="#444"/>
<circle cx="408.04" cy="425.12" r="0.45" fill="#444"/>
<circle cx="417.92" cy="434.89" r="0.45" fill="#444"/>
<circle cx="404.02" cy="429.28" r="0.45" fill="#444"/>
<circle cx="388.31" cy="430.03" r="0.45" fill="#444"/>
<circle cx="410.59" cy="435.86" r="0.45" fill="#444"/>
<circle cx="417.23" cy="421.69" r="0.45" fill="#444"/>
<circle cx="400.66" cy="429.37" r="0.45" fill="#444"/>
<circle cx="386.86" cy="425.23" r="0.45" fill="#444"/>
<circle cx="392.39" cy="418.34" r="0.45" fill="#444"/>
<circle cx="388.24" cy="431.36" r="0.45" fill="#444"/>
<circle cx="390.91" cy="420.95" r="0.45" fill="#444"/>
<circle cx="402.86" cy="444.71" r="0.45" fill="#333"/>
<circle cx="391.06" cy="440.49" r="0.45" fill="#333"/>
<circle cx="408.88" cy="444.83" r="0.45" fill="#333"/>
<circle cx="419.13" cy="444.64" r="0.45" fill="#333"/>
<circle cx="398.58" cy="440.15" r="0.45" fill="#333"/>
<circle cx="401.63" cy="444.84" r="0.45" fill="#333"/>
<circle cx="424.39" cy="437.51" r="0.45" fill="#333"/>
<circle cx="394.7" cy="438.32" r="0.45" fill="#333"/>
<circle cx="396.87" cy="440.85" r="0.45" fill="#333"/>
<circle cx="410.39" cy="438.63" r="0.45" fill="#333"/>
<circle cx="388.16" cy="440.19" r="0.45" fill="#333"/>
<circle cx="402.03" cy="441.66" r="0.45" fill="#333"/>
<circle cx="424.22" cy="442.9" r="0.45" fill="#333"/>
<circle cx="407.59" cy="442.18" r="0.45" fill="#333"/>
<circle cx="413.7" cy="436.54" r="0.45" fill="#333"/>
<circle cx="422.18" cy="443.8" r="0.45" fill="#333"/>
<circle cx="421.23" cy="443.98" r="0.45" fill="#333"/>
<circle cx="402.91" cy="439.99" r="0.45" fill="#333"/>
<circle cx="391.93" cy="442.34" r="0.45" fill="#333"/>
<circle cx="390.37" cy="436.67" r="0.45" fill="#333"/>
<circle cx="395.93" cy="437.62" r="0.45" fill="#333"/>
<circle cx="400.92" cy="436.53" r="0.45" fill="#333"/>
<circle cx="426" cy="446.72" r="0.45" fill="#444"/>
<circle cx="427.01" cy="450.54" r="0.45" fill="#444"/>
<circle cx="426.26" cy="459.74" r="0.45" fill="#444"/>
<circle cx="432.14" cy="446.67" r="0.45" fill="#444"/>
<circle cx="428.52" cy="450.25" r="0.45" fill="#444"/>
<circle cx="429.64" cy="446.21" r="0.45" fill="#444"/>
<circle cx="434.49" cy="461.88" r="0.45" fill="#444"/>
<circle cx="430.66" cy="452.71" r="0.45" fill="#444"/>
<line x1="491.8" y1="388" x2="491.8" y2="469.7" stroke="#9393e6" stroke-width="0.7" stroke-linecap="butt"/>
<line x1="462" y1="443.5" x2="543.3" y2="443.5" stroke="#9393e6" stroke-width="0.7" stroke-linecap="butt"/>
<rect x="462" y="388" width="81.3" height="81.7" fill="none" stroke="#787878" stroke-width="1.0"/>
<line x1="460.4" y1="469.2" x2="462" y2="469.2" stroke="#555" stroke-width="0.5" stroke-linecap="butt"/>
<line x1="462.5" y1="469.7" x2="462.5" y2="471.3" stroke="#555" stroke-width="0.5" stroke-linecap="butt"/>
<line x1="461.1" y1="463.16" x2="462" y2="463.16" stroke="#888" stroke-width="0.35" stroke-linecap="butt"/>
<line x1="468.5" y1="469.7" x2="468.5" y2="470.6" stroke="#888" stroke-width="0.35" stroke-linecap="butt"/>
<line x1="461.1" y1="459.08" x2="462" y2="459.08" stroke="#888" stroke-width="0.35" stroke-linecap="butt"/>
<line x1="472.57" y1="469.7" x2="472.57" y2="470.6" stroke="#888" stroke-width="0.35" stroke-linecap="butt"/>
<line x1="461.1" y1="455.81" x2="462" y2="455.81" stroke="#888" stroke-width="0.35" stroke-linecap="butt"/>
<line x1="475.82" y1="469.7" x2="475.82" y2="470.6" stroke="#888" stroke-width="0.35" stroke-linecap="butt"/>
<line x1="461.1" y1="453.36" x2="462" y2="453.36" stroke="#888" stroke-width="0.35" stroke-linecap="butt"/>
<line x1="478.26" y1="469.7" x2="478.26" y2="470.6" stroke="#888" stroke-width="0.35" stroke-linecap="butt"/>
<line x1="461.1" y1="451.32" x2="462" y2="451.32" stroke="#888" stroke-width="0.35" stroke-linecap="butt"/>
<line x1="480.29" y1="469.7" x2="480.29" y2="470.6" stroke="#888" stroke-width="0.35" stroke-linecap="butt"/>
<line x1="460.4" y1="448.77" x2="462" y2="448.77" stroke="#555" stroke-width="0.5" stroke-linecap="butt"/>
<line x1="482.82" y1="469.7" x2="482.82" y2="471.3" stroke="#555" stroke-width="0.5" stroke-linecap="butt"/>
<line x1="461.1" y1="442.74" x2="462" y2="442.74" stroke="#888" stroke-width="0.35" stroke-linecap="butt"/>
<line x1="488.83" y1="469.7" x2="488.83" y2="470.6" stroke="#888" stroke-width="0.35" stroke-linecap="butt"/>
<line x1="461.1" y1="438.65" x2="462" y2="438.65" stroke="#888" stroke-width="0.35" stroke-linecap="butt"/>
<line x1="492.89" y1="469.7" x2="492.89" y2="470.6" stroke="#888" stroke-width="0.35" stroke-linecap="butt"/>
<line x1="461.1" y1="435.39" x2="462" y2="435.39" stroke="#888" stroke-width="0.35" stroke-linecap="butt"/>
<line x1="496.15" y1="469.7" x2="496.15" y2="470.6" stroke="#888" stroke-width="0.35" stroke-linecap="butt"/>
<line x1="461.1" y1="432.94" x2="462" y2="432.94" stroke="#888" stroke-width="0.35" stroke-linecap="butt"/>
<line x1="498.58" y1="469.7" x2="498.58" y2="470.6" stroke="#888" stroke-width="0.35" stroke-linecap="butt"/>
<line x1="461.1" y1="430.89" x2="462" y2="430.89" stroke="#888" stroke-width="0.35" stroke-linecap="butt"/>
<line x1="500.62" y1="469.7" x2="500.62" y2="470.6" stroke="#888" stroke-width="0.35" stroke-linecap="butt"/>
<line x1="460.4" y1="428.35" x2="462" y2="428.35" stroke="#555" stroke-width="0.5" stroke-linecap="butt"/>
<line x1="503.15" y1="469.7" x2="503.15" y2="471.3" stroke="#555" stroke-width="0.5" stroke-linecap="butt"/>
<line x1="461.1" y1="422.31" x2="462" y2="422.31" stroke="#888" stroke-width="0.35" stroke-linecap="butt"/>
<line x1="509.15" y1="469.7" x2="509.15" y2="470.6" stroke="#888" stroke-width="0.35" stroke-linecap="butt"/>
<line x1="461.1" y1="418.23" x2="462" y2="418.23" stroke="#888" stroke-width="0.35" stroke-linecap="butt"/>
<line x1="513.22" y1="469.7" x2="513.22" y2="470.6" stroke="#888" stroke-width="0.35" stroke-linecap="butt"/>
<line x1="461.1" y1="414.96" x2="462" y2="414.96" stroke="#888" stroke-width="0.35" stroke-linecap="butt"/>
<line x1="516.47" y1="469.7" x2="516.47" y2="470.6" stroke="#888" stroke-width="0.35" stroke-linecap="butt"/>
<line x1="461.1" y1="412.51" x2="462" y2="412.51" stroke="#888" stroke-width="0.35" stroke-linecap="butt"/>
<line x1="518.91" y1="469.7" x2="518.91" y2="470.6" stroke="#888" stroke-width="0.35" stroke-linecap="butt"/>
<line x1="461.1" y1="410.47" x2="462" y2="410.47" stroke="#888" stroke-width="0.35" stroke-linecap="butt"/>
<line x1="520.94" y1="469.7" x2="520.94" y2="470.6" stroke="#888" stroke-width="0.35" stroke-linecap="butt"/>
<line x1="460.4" y1="407.93" x2="462" y2="407.93" stroke="#555" stroke-width="0.5" stroke-linecap="butt"/>
<line x1="523.47" y1="469.7" x2="523.47" y2="471.3" stroke="#555" stroke-width="0.5" stroke-linecap="butt"/>
<line x1="461.1" y1="401.89" x2="462" y2="401.89" stroke="#888" stroke-width="0.35" stroke-linecap="butt"/>
<line x1="529.48" y1="469.7" x2="529.48" y2="470.6" stroke="#888" stroke-width="0.35" stroke-linecap="butt"/>
<line x1="461.1" y1="397.8" x2="462" y2="397.8" stroke="#888" stroke-width="0.35" stroke-linecap="butt"/>
<line x1="533.54" y1="469.7" x2="533.54" y2="470.6" stroke="#888" stroke-width="0.35" stroke-linecap="butt"/>
<line x1="461.1" y1="394.54" x2="462" y2="394.54" stroke="#888" stroke-width="0.35" stroke-linecap="butt"/>
<line x1="536.8" y1="469.7" x2="536.8" y2="470.6" stroke="#888" stroke-width="0.35" stroke-linecap="butt"/>
<line x1="461.1" y1="392.09" x2="462" y2="392.09" stroke="#888" stroke-width="0.35" stroke-linecap="butt"/>
<line x1="539.23" y1="469.7" x2="539.23" y2="470.6" stroke="#888" stroke-width="0.35" stroke-linecap="butt"/>
<line x1="461.1" y1="390.04" x2="462" y2="390.04" stroke="#888" stroke-width="0.35" stroke-linecap="butt"/>
<line x1="541.27" y1="469.7" x2="541.27" y2="470.6" stroke="#888" stroke-width="0.35" stroke-linecap="butt"/>
<text font-size="9.7" text-anchor="start" fill="#000" x="464.6" y="397.6" >0.65</text>
<text font-size="9.7" text-anchor="end" fill="#000" x="541.3" y="466.5" >17.8</text>
<ellipse cx="490" cy="454.2" rx="22" ry="9.5" fill="#000" fill-opacity="0.02" stroke="#000" stroke-width="0.4" stroke-opacity="0.8"/>
<ellipse cx="490" cy="454.2" rx="20.31" ry="8.77" fill="#000" fill-opacity="0.02" stroke="#000" stroke-width="0.4" stroke-opacity="0.8"/>
<ellipse cx="490" cy="454.2" rx="17.68" ry="7.64" fill="#000" fill-opacity="0.02" stroke="#000" stroke-width="0.4" stroke-opacity="0.8"/>
<ellipse cx="490" cy="454.2" rx="14.54" ry="6.28" fill="#000" fill-opacity="0.02" stroke="#000" stroke-width="0.4" stroke-opacity="0.8"/>
<ellipse cx="490" cy="454.2" rx="11" ry="4.75" fill="#000" fill-opacity="0.02" stroke="#000" stroke-width="0.4" stroke-opacity="0.8"/>
<ellipse cx="482.5" cy="454" rx="14.5" ry="8.5" fill="#000" fill-opacity="0.04" stroke="#000" stroke-width="0.4" stroke-opacity="0.8"/>
<ellipse cx="482.5" cy="454" rx="12.54" ry="7.35" fill="#000" fill-opacity="0.04" stroke="#000" stroke-width="0.4" stroke-opacity="0.8"/>
<ellipse cx="482.5" cy="454" rx="9.49" ry="5.57" fill="#000" fill-opacity="0.04" stroke="#000" stroke-width="0.4" stroke-opacity="0.8"/>
<ellipse cx="482.5" cy="454" rx="5.85" ry="3.43" fill="#000" fill-opacity="0.04" stroke="#000" stroke-width="0.4" stroke-opacity="0.8"/>
<ellipse cx="482.5" cy="454" rx="1.74" ry="1.02" fill="#000" fill-opacity="0.04" stroke="#000" stroke-width="0.4" stroke-opacity="0.8"/>
<ellipse cx="480.5" cy="453.5" rx="11" ry="5.8" fill="#000" fill-opacity="0.12" stroke="#000" stroke-width="0.4" stroke-opacity="0.8" transform="rotate(-6 480.5 453.5)"/>
<ellipse cx="480.5" cy="453.5" rx="10.42" ry="5.49" fill="#000" fill-opacity="0.12" stroke="#000" stroke-width="0.4" stroke-opacity="0.8" transform="rotate(-6 480.5 453.5)"/>
<ellipse cx="480.5" cy="453.5" rx="9.51" ry="5.01" fill="#000" fill-opacity="0.12" stroke="#000" stroke-width="0.4" stroke-opacity="0.8" transform="rotate(-6 480.5 453.5)"/>
<ellipse cx="480.5" cy="453.5" rx="8.42" ry="4.44" fill="#000" fill-opacity="0.12" stroke="#000" stroke-width="0.4" stroke-opacity="0.8" transform="rotate(-6 480.5 453.5)"/>
<ellipse cx="480.5" cy="453.5" rx="7.2" ry="3.8" fill="#000" fill-opacity="0.12" stroke="#000" stroke-width="0.4" stroke-opacity="0.8" transform="rotate(-6 480.5 453.5)"/>
<ellipse cx="480.5" cy="453.5" rx="5.87" ry="3.09" fill="#000" fill-opacity="0.12" stroke="#000" stroke-width="0.4" stroke-opacity="0.8" transform="rotate(-6 480.5 453.5)"/>
<ellipse cx="480.5" cy="453.5" rx="4.44" ry="2.34" fill="#000" fill-opacity="0.12" stroke="#000" stroke-width="0.4" stroke-opacity="0.8" transform="rotate(-6 480.5 453.5)"/>
<ellipse cx="480.5" cy="453.5" rx="2.92" ry="1.54" fill="#000" fill-opacity="0.12" stroke="#000" stroke-width="0.4" stroke-opacity="0.8" transform="rotate(-6 480.5 453.5)"/>
<ellipse cx="480.5" cy="453.5" rx="1.32" ry="0.7" fill="#000" fill-opacity="0.12" stroke="#000" stroke-width="0.4" stroke-opacity="0.8" transform="rotate(-6 480.5 453.5)"/>
<circle cx="479.89" cy="422.25" r="0.45" fill="#444"/>
<circle cx="485.54" cy="425.82" r="0.45" fill="#444"/>
<circle cx="496.23" cy="423.55" r="0.45" fill="#444"/>
<circle cx="478.51" cy="440.92" r="0.45" fill="#444"/>
<circle cx="489.62" cy="423.23" r="0.45" fill="#444"/>
<circle cx="489.95" cy="420.59" r="0.45" fill="#444"/>
<circle cx="489.62" cy="441.53" r="0.45" fill="#444"/>
<circle cx="496.99" cy="435.32" r="0.45" fill="#444"/>
<circle cx="483.74" cy="428.07" r="0.45" fill="#444"/>
<circle cx="514.17" cy="446.98" r="0.45" fill="#444"/>
<circle cx="518.92" cy="447.14" r="0.45" fill="#444"/>
<circle cx="516.29" cy="434.91" r="0.45" fill="#444"/>
<line x1="221.8" y1="485.2" x2="221.8" y2="567.3" stroke="#9393e6" stroke-width="0.7" stroke-linecap="butt"/>
<line x1="198.3" y1="542.8" x2="279.6" y2="542.8" stroke="#9393e6" stroke-width="0.7" stroke-linecap="butt"/>
<rect x="198.3" y="485.2" width="81.3" height="82.1" fill="none" stroke="#787878" stroke-width="1.0"/>
<line x1="196.7" y1="566.8" x2="198.3" y2="566.8" stroke="#555" stroke-width="0.5" stroke-linecap="butt"/>
<line x1="198.8" y1="567.3" x2="198.8" y2="568.9" stroke="#555" stroke-width="0.5" stroke-linecap="butt"/>
<line x1="197.4" y1="560.73" x2="198.3" y2="560.73" stroke="#888" stroke-width="0.35" stroke-linecap="butt"/>
<line x1="204.8" y1="567.3" x2="204.8" y2="568.2" stroke="#888" stroke-width="0.35" stroke-linecap="butt"/>
<line x1="197.4" y1="556.63" x2="198.3" y2="556.63" stroke="#888" stroke-width="0.35" stroke-linecap="butt"/>
<line x1="208.87" y1="567.3" x2="208.87" y2="568.2" stroke="#888" stroke-width="0.35" stroke-linecap="butt"/>
<line x1="197.4" y1="553.34" x2="198.3" y2="553.34" stroke="#888" stroke-width="0.35" stroke-linecap="butt"/>
<line x1="212.12" y1="567.3" x2="212.12" y2="568.2" stroke="#888" stroke-width="0.35" stroke-linecap="butt"/>
<line x1="197.4" y1="550.88" x2="198.3" y2="550.88" stroke="#888" stroke-width="0.35" stroke-linecap="butt"/>
<line x1="214.56" y1="567.3" x2="214.56" y2="568.2" stroke="#888" stroke-width="0.35" stroke-linecap="butt"/>
<line x1="197.4" y1="548.83" x2="198.3" y2="548.83" stroke="#888" stroke-width="0.35" stroke-linecap="butt"/>
<line x1="216.59" y1="567.3" x2="216.59" y2="568.2" stroke="#888" stroke-width="0.35" stroke-linecap="butt"/>
<line x1="196.7" y1="546.27" x2="198.3" y2="546.27" stroke="#555" stroke-width="0.5" stroke-linecap="butt"/>
<line x1="219.12" y1="567.3" x2="219.12" y2="568.9" stroke="#555" stroke-width="0.5" stroke-linecap="butt"/>
<line x1="197.4" y1="540.21" x2="198.3" y2="540.21" stroke="#888" stroke-width="0.35" stroke-linecap="butt"/>
<line x1="225.13" y1="567.3" x2="225.13" y2="568.2" stroke="#888" stroke-width="0.35" stroke-linecap="butt"/>
<line x1="197.4" y1="536.1" x2="198.3" y2="536.1" stroke="#888" stroke-width="0.35" stroke-linecap="butt"/>
<line x1="229.19" y1="567.3" x2="229.19" y2="568.2" stroke="#888" stroke-width="0.35" stroke-linecap="butt"/>
<line x1="197.4" y1="532.82" x2="198.3" y2="532.82" stroke="#888" stroke-width="0.35" stroke-linecap="butt"/>
<line x1="232.45" y1="567.3" x2="232.45" y2="568.2" stroke="#888" stroke-width="0.35" stroke-linecap="butt"/>
<line x1="197.4" y1="530.36" x2="198.3" y2="530.36" stroke="#888" stroke-width="0.35" stroke-linecap="butt"/>
<line x1="234.89" y1="567.3" x2="234.89" y2="568.2" stroke="#888" stroke-width="0.35" stroke-linecap="butt"/>
<line x1="197.4" y1="528.3" x2="198.3" y2="528.3" stroke="#888" stroke-width="0.35" stroke-linecap="butt"/>
<line x1="236.92" y1="567.3" x2="236.92" y2="568.2" stroke="#888" stroke-width="0.35" stroke-linecap="butt"/>
<line x1="196.7" y1="525.75" x2="198.3" y2="525.75" stroke="#555" stroke-width="0.5" stroke-linecap="butt"/>
<line x1="239.45" y1="567.3" x2="239.45" y2="568.9" stroke="#555" stroke-width="0.5" stroke-linecap="butt"/>
<line x1="197.4" y1="519.68" x2="198.3" y2="519.68" stroke="#888" stroke-width="0.35" stroke-linecap="butt"/>
<line x1="245.45" y1="567.3" x2="245.45" y2="568.2" stroke="#888" stroke-width="0.35" stroke-linecap="butt"/>
<line x1="197.4" y1="515.58" x2="198.3" y2="515.58" stroke="#888" stroke-width="0.35" stroke-linecap="butt"/>
<line x1="249.52" y1="567.3" x2="249.52" y2="568.2" stroke="#888" stroke-width="0.35" stroke-linecap="butt"/>
<line x1="197.4" y1="512.29" x2="198.3" y2="512.29" stroke="#888" stroke-width="0.35" stroke-linecap="butt"/>
<line x1="252.77" y1="567.3" x2="252.77" y2="568.2" stroke="#888" stroke-width="0.35" stroke-linecap="butt"/>
<line x1="197.4" y1="509.83" x2="198.3" y2="509.83" stroke="#888" stroke-width="0.35" stroke-linecap="butt"/>
<line x1="255.21" y1="567.3" x2="255.21" y2="568.2" stroke="#888" stroke-width="0.35" stroke-linecap="butt"/>
<line x1="197.4" y1="507.78" x2="198.3" y2="507.78" stroke="#888" stroke-width="0.35" stroke-linecap="butt"/>
<line x1="257.24" y1="567.3" x2="257.24" y2="568.2" stroke="#888" stroke-width="0.35" stroke-linecap="butt"/>
<line x1="196.7" y1="505.22" x2="198.3" y2="505.22" stroke="#555" stroke-width="0.5" stroke-linecap="butt"/>
<line x1="259.78" y1="567.3" x2="259.78" y2="568.9" stroke="#555" stroke-width="0.5" stroke-linecap="butt"/>
<line x1="197.4" y1="499.16" x2="198.3" y2="499.16" stroke="#888" stroke-width="0.35" stroke-linecap="butt"/>
<line x1="265.78" y1="567.3" x2="265.78" y2="568.2" stroke="#888" stroke-width="0.35" stroke-linecap="butt"/>
<line x1="197.4" y1="495.05" x2="198.3" y2="495.05" stroke="#888" stroke-width="0.35" stroke-linecap="butt"/>
<line x1="269.84" y1="567.3" x2="269.84" y2="568.2" stroke="#888" stroke-width="0.35" stroke-linecap="butt"/>
<line x1="197.4" y1="491.77" x2="198.3" y2="491.77" stroke="#888" stroke-width="0.35" stroke-linecap="butt"/>
<line x1="273.1" y1="567.3" x2="273.1" y2="568.2" stroke="#888" stroke-width="0.35" stroke-linecap="butt"/>
<line x1="197.4" y1="489.31" x2="198.3" y2="489.31" stroke="#888" stroke-width="0.35" stroke-linecap="butt"/>
<line x1="275.54" y1="567.3" x2="275.54" y2="568.2" stroke="#888" stroke-width="0.35" stroke-linecap="butt"/>
<line x1="197.4" y1="487.25" x2="198.3" y2="487.25" stroke="#888" stroke-width="0.35" stroke-linecap="butt"/>
<line x1="277.57" y1="567.3" x2="277.57" y2="568.2" stroke="#888" stroke-width="0.35" stroke-linecap="butt"/>
<text font-size="9.7" text-anchor="start" fill="#000" x="200.9" y="494.8" >1.03</text>
<text font-size="9.7" text-anchor="end" fill="#000" x="277.6" y="564.1" >8.81</text>
<ellipse cx="213.8" cy="554.3" rx="10.3" ry="10" fill="#000" fill-opacity="0.04" stroke="#000" stroke-width="0.4" stroke-opacity="0.8"/>
<ellipse cx="213.8" cy="554.3" rx="8.91" ry="8.65" fill="#000" fill-opacity="0.04" stroke="#000" stroke-width="0.4" stroke-opacity="0.8"/>
<ellipse cx="213.8" cy="554.3" rx="6.74" ry="6.55" fill="#000" fill-opacity="0.04" stroke="#000" stroke-width="0.4" stroke-opacity="0.8"/>
<ellipse cx="213.8" cy="554.3" rx="4.15" ry="4.03" fill="#000" fill-opacity="0.04" stroke="#000" stroke-width="0.4" stroke-opacity="0.8"/>
<ellipse cx="213.8" cy="554.3" rx="1.24" ry="1.2" fill="#000" fill-opacity="0.04" stroke="#000" stroke-width="0.4" stroke-opacity="0.8"/>
<ellipse cx="213" cy="555" rx="8.2" ry="7.6" fill="#000" fill-opacity="0.11" stroke="#000" stroke-width="0.4" stroke-opacity="0.8" transform="rotate(-25 213 555)"/>
<ellipse cx="213" cy="555" rx="7.76" ry="7.2" fill="#000" fill-opacity="0.11" stroke="#000" stroke-width="0.4" stroke-opacity="0.8" transform="rotate(-25 213 555)"/>
<ellipse cx="213" cy="555" rx="7.09" ry="6.57" fill="#000" fill-opacity="0.11" stroke="#000" stroke-width="0.4" stroke-opacity="0.8" transform="rotate(-25 213 555)"/>
<ellipse cx="213" cy="555" rx="6.28" ry="5.82" fill="#000" fill-opacity="0.11" stroke="#000" stroke-width="0.4" stroke-opacity="0.8" transform="rotate(-25 213 555)"/>
<ellipse cx="213" cy="555" rx="5.37" ry="4.98" fill="#000" fill-opacity="0.11" stroke="#000" stroke-width="0.4" stroke-opacity="0.8" transform="rotate(-25 213 555)"/>
<ellipse cx="213" cy="555" rx="4.37" ry="4.05" fill="#000" fill-opacity="0.11" stroke="#000" stroke-width="0.4" stroke-opacity="0.8" transform="rotate(-25 213 555)"/>
<ellipse cx="213" cy="555" rx="3.31" ry="3.06" fill="#000" fill-opacity="0.11" stroke="#000" stroke-width="0.4" stroke-opacity="0.8" transform="rotate(-25 213 555)"/>
<ellipse cx="213" cy="555" rx="2.17" ry="2.02" fill="#000" fill-opacity="0.11" stroke="#000" stroke-width="0.4" stroke-opacity="0.8" transform="rotate(-25 213 555)"/>
<ellipse cx="213" cy="555" rx="0.98" ry="0.91" fill="#000" fill-opacity="0.11" stroke="#000" stroke-width="0.4" stroke-opacity="0.8" transform="rotate(-25 213 555)"/>
<ellipse cx="227.8" cy="554" rx="11" ry="6.6" fill="none" stroke="#333" stroke-width="0.35"/>
<ellipse cx="228.2" cy="554" rx="8.6" ry="5" fill="none" stroke="#333" stroke-width="0.35"/>
<ellipse cx="228.6" cy="554" rx="6.2" ry="3.4" fill="none" stroke="#333" stroke-width="0.35"/>
<circle cx="220.12" cy="540.61" r="0.45" fill="#444"/>
<circle cx="220.53" cy="535.96" r="0.45" fill="#444"/>
<circle cx="220.18" cy="534.24" r="0.45" fill="#444"/>
<circle cx="214.27" cy="528.46" r="0.45" fill="#444"/>
<circle cx="215.56" cy="515.75" r="0.45" fill="#444"/>
<circle cx="212.28" cy="522.26" r="0.45" fill="#444"/>
<circle cx="214.59" cy="533.01" r="0.45" fill="#444"/>
<circle cx="246.7" cy="550.68" r="0.45" fill="#444"/>
<circle cx="246.56" cy="553.93" r="0.45" fill="#444"/>
<circle cx="246.69" cy="550.19" r="0.45" fill="#444"/>
<circle cx="241.54" cy="549.36" r="0.45" fill="#444"/>
<circle cx="241.38" cy="549.23" r="0.45" fill="#444"/>
<line x1="310.5" y1="485.2" x2="310.5" y2="567.3" stroke="#9393e6" stroke-width="0.7" stroke-linecap="butt"/>
<line x1="286.3" y1="542.8" x2="367.5" y2="542.8" stroke="#9393e6" stroke-width="0.7" stroke-linecap="butt"/>
<rect x="286.3" y="485.2" width="81.2" height="82.1" fill="none" stroke="#787878" stroke-width="1.0"/>
<line x1="284.7" y1="566.8" x2="286.3" y2="566.8" stroke="#555" stroke-width="0.5" stroke-linecap="butt"/>
<line x1="286.8" y1="567.3" x2="286.8" y2="568.9" stroke="#555" stroke-width="0.5" stroke-linecap="butt"/>
<line x1="285.4" y1="560.73" x2="286.3" y2="560.73" stroke="#888" stroke-width="0.35" stroke-linecap="butt"/>
<line x1="292.8" y1="567.3" x2="292.8" y2="568.2" stroke="#888" stroke-width="0.35" stroke-linecap="butt"/>
<line x1="285.4" y1="556.63" x2="286.3" y2="556.63" stroke="#888" stroke-width="0.35" stroke-linecap="butt"/>
<line x1="296.86" y1="567.3" x2="296.86" y2="568.2" stroke="#888" stroke-width="0.35" stroke-linecap="butt"/>
<line x1="285.4" y1="553.34" x2="286.3" y2="553.34" stroke="#888" stroke-width="0.35" stroke-linecap="butt"/>
<line x1="300.1" y1="567.3" x2="300.1" y2="568.2" stroke="#888" stroke-width="0.35" stroke-linecap="butt"/>
<line x1="285.4" y1="550.88" x2="286.3" y2="550.88" stroke="#888" stroke-width="0.35" stroke-linecap="butt"/>
<line x1="302.54" y1="567.3" x2="302.54" y2="568.2" stroke="#888" stroke-width="0.35" stroke-linecap="butt"/>
<line x1="285.4" y1="548.83" x2="286.3" y2="548.83" stroke="#888" stroke-width="0.35" stroke-linecap="butt"/>
<line x1="304.57" y1="567.3" x2="304.57" y2="568.2" stroke="#888" stroke-width="0.35" stroke-linecap="butt"/>
<line x1="284.7" y1="546.27" x2="286.3" y2="546.27" stroke="#555" stroke-width="0.5" stroke-linecap="butt"/>
<line x1="307.1" y1="567.3" x2="307.1" y2="568.9" stroke="#555" stroke-width="0.5" stroke-linecap="butt"/>
<line x1="285.4" y1="540.21" x2="286.3" y2="540.21" stroke="#888" stroke-width="0.35" stroke-linecap="butt"/>
<line x1="313.1" y1="567.3" x2="313.1" y2="568.2" stroke="#888" stroke-width="0.35" stroke-linecap="butt"/>
<line x1="285.4" y1="536.1" x2="286.3" y2="536.1" stroke="#888" stroke-width="0.35" stroke-linecap="butt"/>
<line x1="317.16" y1="567.3" x2="317.16" y2="568.2" stroke="#888" stroke-width="0.35" stroke-linecap="butt"/>
<line x1="285.4" y1="532.82" x2="286.3" y2="532.82" stroke="#888" stroke-width="0.35" stroke-linecap="butt"/>
<line x1="320.4" y1="567.3" x2="320.4" y2="568.2" stroke="#888" stroke-width="0.35" stroke-linecap="butt"/>
<line x1="285.4" y1="530.36" x2="286.3" y2="530.36" stroke="#888" stroke-width="0.35" stroke-linecap="butt"/>
<line x1="322.84" y1="567.3" x2="322.84" y2="568.2" stroke="#888" stroke-width="0.35" stroke-linecap="butt"/>
<line x1="285.4" y1="528.3" x2="286.3" y2="528.3" stroke="#888" stroke-width="0.35" stroke-linecap="butt"/>
<line x1="324.87" y1="567.3" x2="324.87" y2="568.2" stroke="#888" stroke-width="0.35" stroke-linecap="butt"/>
<line x1="284.7" y1="525.75" x2="286.3" y2="525.75" stroke="#555" stroke-width="0.5" stroke-linecap="butt"/>
<line x1="327.4" y1="567.3" x2="327.4" y2="568.9" stroke="#555" stroke-width="0.5" stroke-linecap="butt"/>
<line x1="285.4" y1="519.68" x2="286.3" y2="519.68" stroke="#888" stroke-width="0.35" stroke-linecap="butt"/>
<line x1="333.4" y1="567.3" x2="333.4" y2="568.2" stroke="#888" stroke-width="0.35" stroke-linecap="butt"/>
<line x1="285.4" y1="515.58" x2="286.3" y2="515.58" stroke="#888" stroke-width="0.35" stroke-linecap="butt"/>
<line x1="337.46" y1="567.3" x2="337.46" y2="568.2" stroke="#888" stroke-width="0.35" stroke-linecap="butt"/>
<line x1="285.4" y1="512.29" x2="286.3" y2="512.29" stroke="#888" stroke-width="0.35" stroke-linecap="butt"/>
<line x1="340.7" y1="567.3" x2="340.7" y2="568.2" stroke="#888" stroke-width="0.35" stroke-linecap="butt"/>
<line x1="285.4" y1="509.83" x2="286.3" y2="509.83" stroke="#888" stroke-width="0.35" stroke-linecap="butt"/>
<line x1="343.14" y1="567.3" x2="343.14" y2="568.2" stroke="#888" stroke-width="0.35" stroke-linecap="butt"/>
<line x1="285.4" y1="507.78" x2="286.3" y2="507.78" stroke="#888" stroke-width="0.35" stroke-linecap="butt"/>
<line x1="345.17" y1="567.3" x2="345.17" y2="568.2" stroke="#888" stroke-width="0.35" stroke-linecap="butt"/>
<line x1="284.7" y1="505.22" x2="286.3" y2="505.22" stroke="#555" stroke-width="0.5" stroke-linecap="butt"/>
<line x1="347.7" y1="567.3" x2="347.7" y2="568.9" stroke="#555" stroke-width="0.5" stroke-linecap="butt"/>
<line x1="285.4" y1="499.16" x2="286.3" y2="499.16" stroke="#888" stroke-width="0.35" stroke-linecap="butt"/>
<line x1="353.7" y1="567.3" x2="353.7" y2="568.2" stroke="#888" stroke-width="0.35" stroke-linecap="butt"/>
<line x1="285.4" y1="495.05" x2="286.3" y2="495.05" stroke="#888" stroke-width="0.35" stroke-linecap="butt"/>
<line x1="357.76" y1="567.3" x2="357.76" y2="568.2" stroke="#888" stroke-width="0.35" stroke-linecap="butt"/>
<line x1="285.4" y1="491.77" x2="286.3" y2="491.77" stroke="#888" stroke-width="0.35" stroke-linecap="butt"/>
<line x1="361" y1="567.3" x2="361" y2="568.2" stroke="#888" stroke-width="0.35" stroke-linecap="butt"/>
<line x1="285.4" y1="489.31" x2="286.3" y2="489.31" stroke="#888" stroke-width="0.35" stroke-linecap="butt"/>
<line x1="363.44" y1="567.3" x2="363.44" y2="568.2" stroke="#888" stroke-width="0.35" stroke-linecap="butt"/>
<line x1="285.4" y1="487.25" x2="286.3" y2="487.25" stroke="#888" stroke-width="0.35" stroke-linecap="butt"/>
<line x1="365.47" y1="567.3" x2="365.47" y2="568.2" stroke="#888" stroke-width="0.35" stroke-linecap="butt"/>
<text font-size="9.7" text-anchor="start" fill="#000" x="288.9" y="494.8" >2.57</text>
<text font-size="9.7" text-anchor="end" fill="#000" x="365.5" y="564.1" >6.94</text>
<ellipse cx="301.3" cy="554.5" rx="10.3" ry="9.8" fill="#000" fill-opacity="0.04" stroke="#000" stroke-width="0.4" stroke-opacity="0.8"/>
<ellipse cx="301.3" cy="554.5" rx="8.91" ry="8.47" fill="#000" fill-opacity="0.04" stroke="#000" stroke-width="0.4" stroke-opacity="0.8"/>
<ellipse cx="301.3" cy="554.5" rx="6.74" ry="6.42" fill="#000" fill-opacity="0.04" stroke="#000" stroke-width="0.4" stroke-opacity="0.8"/>
<ellipse cx="301.3" cy="554.5" rx="4.15" ry="3.95" fill="#000" fill-opacity="0.04" stroke="#000" stroke-width="0.4" stroke-opacity="0.8"/>
<ellipse cx="301.3" cy="554.5" rx="1.24" ry="1.18" fill="#000" fill-opacity="0.04" stroke="#000" stroke-width="0.4" stroke-opacity="0.8"/>
<ellipse cx="300.8" cy="554.3" rx="8" ry="7.3" fill="#000" fill-opacity="0.11" stroke="#000" stroke-width="0.4" stroke-opacity="0.8"/>
<ellipse cx="300.8" cy="554.3" rx="7.57" ry="6.91" fill="#000" fill-opacity="0.11" stroke="#000" stroke-width="0.4" stroke-opacity="0.8"/>
<ellipse cx="300.8" cy="554.3" rx="6.92" ry="6.31" fill="#000" fill-opacity="0.11" stroke="#000" stroke-width="0.4" stroke-opacity="0.8"/>
<ellipse cx="300.8" cy="554.3" rx="6.13" ry="5.59" fill="#000" fill-opacity="0.11" stroke="#000" stroke-width="0.4" stroke-opacity="0.8"/>
<ellipse cx="300.8" cy="554.3" rx="5.24" ry="4.78" fill="#000" fill-opacity="0.11" stroke="#000" stroke-width="0.4" stroke-opacity="0.8"/>
<ellipse cx="300.8" cy="554.3" rx="4.27" ry="3.89" fill="#000" fill-opacity="0.11" stroke="#000" stroke-width="0.4" stroke-opacity="0.8"/>
<ellipse cx="300.8" cy="554.3" rx="3.23" ry="2.94" fill="#000" fill-opacity="0.11" stroke="#000" stroke-width="0.4" stroke-opacity="0.8"/>
<ellipse cx="300.8" cy="554.3" rx="2.12" ry="1.94" fill="#000" fill-opacity="0.11" stroke="#000" stroke-width="0.4" stroke-opacity="0.8"/>
<ellipse cx="300.8" cy="554.3" rx="0.96" ry="0.88" fill="#000" fill-opacity="0.11" stroke="#000" stroke-width="0.4" stroke-opacity="0.8"/>
<ellipse cx="309.5" cy="543.5" rx="9.5" ry="6.5" fill="none" stroke="#333" stroke-width="0.35" transform="rotate(-35 309.5 543.5)"/>
<ellipse cx="309.5" cy="543.5" rx="5.23" ry="3.58" fill="none" stroke="#333" stroke-width="0.35" transform="rotate(-35 309.5 543.5)"/>
<ellipse cx="309.5" cy="543.5" rx="0.95" ry="0.65" fill="none" stroke="#333" stroke-width="0.35" transform="rotate(-35 309.5 543.5)"/>
<ellipse cx="313" cy="551" rx="4" ry="8" fill="none" stroke="#333" stroke-width="0.35"/>
<ellipse cx="313" cy="551" rx="2.2" ry="4.4" fill="none" stroke="#333" stroke-width="0.35"/>
<circle cx="334.48" cy="558.5" r="0.45" fill="#444"/>
<circle cx="338.81" cy="552.19" r="0.45" fill="#444"/>
<circle cx="335.06" cy="556.99" r="0.45" fill="#444"/>
<circle cx="323.7" cy="554.91" r="0.45" fill="#444"/>
<circle cx="340.2" cy="556.73" r="0.45" fill="#444"/>
<line x1="397.5" y1="485.2" x2="397.5" y2="567.3" stroke="#9393e6" stroke-width="0.7" stroke-linecap="butt"/>
<line x1="374.4" y1="543" x2="455" y2="543" stroke="#9393e6" stroke-width="0.7" stroke-linecap="butt"/>
<rect x="374.4" y="485.2" width="80.6" height="82.1" fill="none" stroke="#787878" stroke-width="1.0"/>
<line x1="372.8" y1="566.8" x2="374.4" y2="566.8" stroke="#555" stroke-width="0.5" stroke-linecap="butt"/>
<line x1="374.9" y1="567.3" x2="374.9" y2="568.9" stroke="#555" stroke-width="0.5" stroke-linecap="butt"/>
<line x1="373.5" y1="560.73" x2="374.4" y2="560.73" stroke="#888" stroke-width="0.35" stroke-linecap="butt"/>
<line x1="380.85" y1="567.3" x2="380.85" y2="568.2" stroke="#888" stroke-width="0.35" stroke-linecap="butt"/>
<line x1="373.5" y1="556.63" x2="374.4" y2="556.63" stroke="#888" stroke-width="0.35" stroke-linecap="butt"/>
<line x1="384.88" y1="567.3" x2="384.88" y2="568.2" stroke="#888" stroke-width="0.35" stroke-linecap="butt"/>
<line x1="373.5" y1="553.34" x2="374.4" y2="553.34" stroke="#888" stroke-width="0.35" stroke-linecap="butt"/>
<line x1="388.1" y1="567.3" x2="388.1" y2="568.2" stroke="#888" stroke-width="0.35" stroke-linecap="butt"/>
<line x1="373.5" y1="550.88" x2="374.4" y2="550.88" stroke="#888" stroke-width="0.35" stroke-linecap="butt"/>
<line x1="390.52" y1="567.3" x2="390.52" y2="568.2" stroke="#888" stroke-width="0.35" stroke-linecap="butt"/>
<line x1="373.5" y1="548.83" x2="374.4" y2="548.83" stroke="#888" stroke-width="0.35" stroke-linecap="butt"/>
<line x1="392.53" y1="567.3" x2="392.53" y2="568.2" stroke="#888" stroke-width="0.35" stroke-linecap="butt"/>
<line x1="372.8" y1="546.27" x2="374.4" y2="546.27" stroke="#555" stroke-width="0.5" stroke-linecap="butt"/>
<line x1="395.05" y1="567.3" x2="395.05" y2="568.9" stroke="#555" stroke-width="0.5" stroke-linecap="butt"/>
<line x1="373.5" y1="540.21" x2="374.4" y2="540.21" stroke="#888" stroke-width="0.35" stroke-linecap="butt"/>
<line x1="401" y1="567.3" x2="401" y2="568.2" stroke="#888" stroke-width="0.35" stroke-linecap="butt"/>
<line x1="373.5" y1="536.1" x2="374.4" y2="536.1" stroke="#888" stroke-width="0.35" stroke-linecap="butt"/>
<line x1="405.03" y1="567.3" x2="405.03" y2="568.2" stroke="#888" stroke-width="0.35" stroke-linecap="butt"/>
<line x1="373.5" y1="532.82" x2="374.4" y2="532.82" stroke="#888" stroke-width="0.35" stroke-linecap="butt"/>
<line x1="408.25" y1="567.3" x2="408.25" y2="568.2" stroke="#888" stroke-width="0.35" stroke-linecap="butt"/>
<line x1="373.5" y1="530.36" x2="374.4" y2="530.36" stroke="#888" stroke-width="0.35" stroke-linecap="butt"/>
<line x1="410.67" y1="567.3" x2="410.67" y2="568.2" stroke="#888" stroke-width="0.35" stroke-linecap="butt"/>
<line x1="373.5" y1="528.3" x2="374.4" y2="528.3" stroke="#888" stroke-width="0.35" stroke-linecap="butt"/>
<line x1="412.69" y1="567.3" x2="412.69" y2="568.2" stroke="#888" stroke-width="0.35" stroke-linecap="butt"/>
<line x1="372.8" y1="525.75" x2="374.4" y2="525.75" stroke="#555" stroke-width="0.5" stroke-linecap="butt"/>
<line x1="415.2" y1="567.3" x2="415.2" y2="568.9" stroke="#555" stroke-width="0.5" stroke-linecap="butt"/>
<line x1="373.5" y1="519.68" x2="374.4" y2="519.68" stroke="#888" stroke-width="0.35" stroke-linecap="butt"/>
<line x1="421.15" y1="567.3" x2="421.15" y2="568.2" stroke="#888" stroke-width="0.35" stroke-linecap="butt"/>
<line x1="373.5" y1="515.58" x2="374.4" y2="515.58" stroke="#888" stroke-width="0.35" stroke-linecap="butt"/>
<line x1="425.18" y1="567.3" x2="425.18" y2="568.2" stroke="#888" stroke-width="0.35" stroke-linecap="butt"/>
<line x1="373.5" y1="512.29" x2="374.4" y2="512.29" stroke="#888" stroke-width="0.35" stroke-linecap="butt"/>
<line x1="428.4" y1="567.3" x2="428.4" y2="568.2" stroke="#888" stroke-width="0.35" stroke-linecap="butt"/>
<line x1="373.5" y1="509.83" x2="374.4" y2="509.83" stroke="#888" stroke-width="0.35" stroke-linecap="butt"/>
<line x1="430.82" y1="567.3" x2="430.82" y2="568.2" stroke="#888" stroke-width="0.35" stroke-linecap="butt"/>
<line x1="373.5" y1="507.78" x2="374.4" y2="507.78" stroke="#888" stroke-width="0.35" stroke-linecap="butt"/>
<line x1="432.83" y1="567.3" x2="432.83" y2="568.2" stroke="#888" stroke-width="0.35" stroke-linecap="butt"/>
<line x1="372.8" y1="505.22" x2="374.4" y2="505.22" stroke="#555" stroke-width="0.5" stroke-linecap="butt"/>
<line x1="435.35" y1="567.3" x2="435.35" y2="568.9" stroke="#555" stroke-width="0.5" stroke-linecap="butt"/>
<line x1="373.5" y1="499.16" x2="374.4" y2="499.16" stroke="#888" stroke-width="0.35" stroke-linecap="butt"/>
<line x1="441.3" y1="567.3" x2="441.3" y2="568.2" stroke="#888" stroke-width="0.35" stroke-linecap="butt"/>
<line x1="373.5" y1="495.05" x2="374.4" y2="495.05" stroke="#888" stroke-width="0.35" stroke-linecap="butt"/>
<line x1="445.33" y1="567.3" x2="445.33" y2="568.2" stroke="#888" stroke-width="0.35" stroke-linecap="butt"/>
<line x1="373.5" y1="491.77" x2="374.4" y2="491.77" stroke="#888" stroke-width="0.35" stroke-linecap="butt"/>
<line x1="448.55" y1="567.3" x2="448.55" y2="568.2" stroke="#888" stroke-width="0.35" stroke-linecap="butt"/>
<line x1="373.5" y1="489.31" x2="374.4" y2="489.31" stroke="#888" stroke-width="0.35" stroke-linecap="butt"/>
<line x1="450.97" y1="567.3" x2="450.97" y2="568.2" stroke="#888" stroke-width="0.35" stroke-linecap="butt"/>
<line x1="373.5" y1="487.25" x2="374.4" y2="487.25" stroke="#888" stroke-width="0.35" stroke-linecap="butt"/>
<line x1="452.99" y1="567.3" x2="452.99" y2="568.2" stroke="#888" stroke-width="0.35" stroke-linecap="butt"/>
<text font-size="9.7" text-anchor="start" fill="#000" x="377" y="494.8" >0.17</text>
<text font-size="9.7" text-anchor="end" fill="#000" x="453" y="564.1" >49.4</text>
<ellipse cx="402.5" cy="554" rx="21" ry="9" fill="#000" fill-opacity="0.03" stroke="#000" stroke-width="0.4" stroke-opacity="0.8"/>
<ellipse cx="402.5" cy="554" rx="19.09" ry="8.18" fill="#000" fill-opacity="0.03" stroke="#000" stroke-width="0.4" stroke-opacity="0.8"/>
<ellipse cx="402.5" cy="554" rx="16.14" ry="6.92" fill="#000" fill-opacity="0.03" stroke="#000" stroke-width="0.4" stroke-opacity="0.8"/>
<ellipse cx="402.5" cy="554" rx="12.6" ry="5.4" fill="#000" fill-opacity="0.03" stroke="#000" stroke-width="0.4" stroke-opacity="0.8"/>
<ellipse cx="398.5" cy="554" rx="16.5" ry="8" fill="#000" fill-opacity="0.04" stroke="#000" stroke-width="0.4" stroke-opacity="0.8"/>
<ellipse cx="398.5" cy="554" rx="14.27" ry="6.92" fill="#000" fill-opacity="0.04" stroke="#000" stroke-width="0.4" stroke-opacity="0.8"/>
<ellipse cx="398.5" cy="554" rx="10.8" ry="5.24" fill="#000" fill-opacity="0.04" stroke="#000" stroke-width="0.4" stroke-opacity="0.8"/>
<ellipse cx="398.5" cy="554" rx="6.65" ry="3.23" fill="#000" fill-opacity="0.04" stroke="#000" stroke-width="0.4" stroke-opacity="0.8"/>
<ellipse cx="398.5" cy="554" rx="1.98" ry="0.96" fill="#000" fill-opacity="0.04" stroke="#000" stroke-width="0.4" stroke-opacity="0.8"/>
<ellipse cx="396" cy="554" rx="13" ry="5.6" fill="#000" fill-opacity="0.13" stroke="#000" stroke-width="0.4" stroke-opacity="0.8"/>
<ellipse cx="396" cy="554" rx="12.31" ry="5.3" fill="#000" fill-opacity="0.13" stroke="#000" stroke-width="0.4" stroke-opacity="0.8"/>
<ellipse cx="396" cy="554" rx="11.24" ry="4.84" fill="#000" fill-opacity="0.13" stroke="#000" stroke-width="0.4" stroke-opacity="0.8"/>
<ellipse cx="396" cy="554" rx="9.96" ry="4.29" fill="#000" fill-opacity="0.13" stroke="#000" stroke-width="0.4" stroke-opacity="0.8"/>
<ellipse cx="396" cy="554" rx="8.51" ry="3.67" fill="#000" fill-opacity="0.13" stroke="#000" stroke-width="0.4" stroke-opacity="0.8"/>
<ellipse cx="396" cy="554" rx="6.93" ry="2.99" fill="#000" fill-opacity="0.13" stroke="#000" stroke-width="0.4" stroke-opacity="0.8"/>
<ellipse cx="396" cy="554" rx="5.24" ry="2.26" fill="#000" fill-opacity="0.13" stroke="#000" stroke-width="0.4" stroke-opacity="0.8"/>
<ellipse cx="396" cy="554" rx="3.45" ry="1.48" fill="#000" fill-opacity="0.13" stroke="#000" stroke-width="0.4" stroke-opacity="0.8"/>
<ellipse cx="396" cy="554" rx="1.56" ry="0.67" fill="#000" fill-opacity="0.13" stroke="#000" stroke-width="0.4" stroke-opacity="0.8"/>
<ellipse cx="396" cy="554" rx="1.82" ry="0.78" fill="#fff" fill-opacity="0.55"/>
<circle cx="419.01" cy="543.82" r="0.5" fill="#222"/>
<circle cx="393.85" cy="546.31" r="0.5" fill="#222"/>
<circle cx="400.63" cy="546.41" r="0.5" fill="#222"/>
<circle cx="428.75" cy="543.17" r="0.5" fill="#222"/>
<circle cx="403.66" cy="547.57" r="0.5" fill="#222"/>
<circle cx="417.89" cy="541.36" r="0.5" fill="#222"/>
<circle cx="391.59" cy="541.21" r="0.5" fill="#222"/>
<circle cx="425.81" cy="546.45" r="0.5" fill="#222"/>
<circle cx="392.43" cy="546.61" r="0.5" fill="#222"/>
<circle cx="429.13" cy="545.26" r="0.5" fill="#222"/>
<circle cx="401.42" cy="544.39" r="0.5" fill="#222"/>
<circle cx="391.76" cy="540.11" r="0.5" fill="#222"/>
<circle cx="428.72" cy="545.2" r="0.5" fill="#222"/>
<circle cx="409.17" cy="547.47" r="0.5" fill="#222"/>
<circle cx="405.09" cy="546.97" r="0.5" fill="#222"/>
<circle cx="422.35" cy="541.69" r="0.5" fill="#222"/>
<circle cx="397.08" cy="542.34" r="0.5" fill="#222"/>
<circle cx="396.58" cy="544.69" r="0.5" fill="#222"/>
<circle cx="397.41" cy="543.35" r="0.5" fill="#222"/>
<circle cx="391.77" cy="547.28" r="0.5" fill="#222"/>
<circle cx="401.57" cy="543.67" r="0.5" fill="#222"/>
<circle cx="411.67" cy="547.23" r="0.5" fill="#222"/>
<circle cx="404.51" cy="547.34" r="0.5" fill="#222"/>
<circle cx="408.07" cy="544.25" r="0.5" fill="#222"/>
<circle cx="409.03" cy="540.15" r="0.5" fill="#222"/>
<circle cx="405.37" cy="541.46" r="0.5" fill="#222"/>
<circle cx="386.17" cy="546.39" r="0.5" fill="#222"/>
<circle cx="393.58" cy="543.79" r="0.5" fill="#222"/>
<circle cx="417.91" cy="544.45" r="0.5" fill="#222"/>
<circle cx="400.34" cy="544.15" r="0.5" fill="#222"/>
<circle cx="410.44" cy="546.27" r="0.5" fill="#222"/>
<circle cx="390.67" cy="544.48" r="0.5" fill="#222"/>
<circle cx="396.93" cy="542.22" r="0.5" fill="#222"/>
<circle cx="419.98" cy="544.06" r="0.5" fill="#222"/>
<circle cx="410.72" cy="546.08" r="0.5" fill="#222"/>
<circle cx="426.15" cy="543.55" r="0.5" fill="#222"/>
<circle cx="412.95" cy="544.04" r="0.5" fill="#222"/>
<circle cx="408.54" cy="545.54" r="0.5" fill="#222"/>
<circle cx="405.9" cy="544.27" r="0.5" fill="#222"/>
<circle cx="407.03" cy="547.53" r="0.5" fill="#222"/>
<circle cx="416.77" cy="547.01" r="0.5" fill="#222"/>
<circle cx="427.46" cy="542.08" r="0.5" fill="#222"/>
<circle cx="410.62" cy="547.55" r="0.5" fill="#222"/>
<circle cx="422.96" cy="541.1" r="0.5" fill="#222"/>
<circle cx="391.35" cy="543.54" r="0.5" fill="#222"/>
<circle cx="389.19" cy="541.93" r="0.5" fill="#222"/>
<circle cx="389.22" cy="545.36" r="0.5" fill="#222"/>
<circle cx="420.49" cy="547.18" r="0.5" fill="#222"/>
<circle cx="392.8" cy="545.73" r="0.5" fill="#222"/>
<circle cx="415.05" cy="541.14" r="0.5" fill="#222"/>
<circle cx="424.84" cy="547.74" r="0.5" fill="#222"/>
<circle cx="395.66" cy="547.62" r="0.5" fill="#222"/>
<circle cx="403.52" cy="543.9" r="0.5" fill="#222"/>
<circle cx="429.55" cy="546.66" r="0.5" fill="#222"/>
<circle cx="393.1" cy="543.45" r="0.5" fill="#222"/>
<circle cx="408.69" cy="542.71" r="0.5" fill="#222"/>
<circle cx="394.61" cy="542.55" r="0.5" fill="#222"/>
<circle cx="417.77" cy="540.16" r="0.5" fill="#222"/>
<circle cx="410.38" cy="543.52" r="0.5" fill="#222"/>
<circle cx="386.8" cy="542.65" r="0.5" fill="#222"/>
<circle cx="413.45" cy="544.1" r="0.5" fill="#222"/>
<circle cx="388.83" cy="547.88" r="0.5" fill="#222"/>
<circle cx="420.69" cy="547.77" r="0.5" fill="#222"/>
<circle cx="390.61" cy="542.12" r="0.5" fill="#222"/>
<circle cx="387.74" cy="546.23" r="0.5" fill="#222"/>
<circle cx="397.9" cy="541.04" r="0.5" fill="#222"/>
<circle cx="404.58" cy="547.29" r="0.5" fill="#222"/>
<circle cx="422.04" cy="542.07" r="0.5" fill="#222"/>
<circle cx="392.57" cy="547.35" r="0.5" fill="#222"/>
<circle cx="411.11" cy="545.6" r="0.5" fill="#222"/>
<circle cx="395.94" cy="523.04" r="0.45" fill="#444"/>
<circle cx="422.28" cy="529.66" r="0.45" fill="#444"/>
<circle cx="395.19" cy="538.89" r="0.45" fill="#444"/>
<circle cx="419.92" cy="536.43" r="0.45" fill="#444"/>
<circle cx="395.68" cy="537.41" r="0.45" fill="#444"/>
<circle cx="394.93" cy="537.53" r="0.45" fill="#444"/>
<circle cx="411.97" cy="528.1" r="0.45" fill="#444"/>
<circle cx="416.33" cy="538.68" r="0.45" fill="#444"/>
<circle cx="403.79" cy="524.33" r="0.45" fill="#444"/>
<circle cx="415.18" cy="526.29" r="0.45" fill="#444"/>
<circle cx="396.82" cy="524.91" r="0.45" fill="#444"/>
<circle cx="394.22" cy="525.63" r="0.45" fill="#444"/>
<circle cx="405.73" cy="527.49" r="0.45" fill="#444"/>
<circle cx="425.42" cy="527.22" r="0.45" fill="#444"/>
<circle cx="425.5" cy="548.02" r="0.45" fill="#222"/>
<circle cx="421.98" cy="545.31" r="0.45" fill="#222"/>
<circle cx="419.76" cy="545.26" r="0.45" fill="#222"/>
<circle cx="430.86" cy="554.37" r="0.45" fill="#222"/>
<circle cx="418.36" cy="553.07" r="0.45" fill="#222"/>
<circle cx="435.5" cy="546.81" r="0.45" fill="#222"/>
<circle cx="432.84" cy="552.35" r="0.45" fill="#222"/>
<circle cx="425.39" cy="559.19" r="0.45" fill="#222"/>
<circle cx="423.04" cy="553.61" r="0.45" fill="#222"/>
<circle cx="429.82" cy="561.7" r="0.45" fill="#222"/>
<circle cx="421.88" cy="559.15" r="0.45" fill="#222"/>
<circle cx="430.25" cy="555.81" r="0.45" fill="#222"/>
<circle cx="423.31" cy="550.91" r="0.45" fill="#222"/>
<circle cx="415.25" cy="547.21" r="0.45" fill="#222"/>
<circle cx="415.63" cy="557.6" r="0.45" fill="#222"/>
<circle cx="419.88" cy="547.78" r="0.45" fill="#222"/>
<circle cx="415.94" cy="559.3" r="0.45" fill="#222"/>
<circle cx="434.02" cy="556.4" r="0.45" fill="#222"/>
<circle cx="420.48" cy="549.12" r="0.45" fill="#222"/>
<circle cx="420.74" cy="552.81" r="0.45" fill="#222"/>
<circle cx="417.62" cy="552.58" r="0.45" fill="#222"/>
<circle cx="420.05" cy="561.35" r="0.45" fill="#222"/>
<circle cx="436.37" cy="554.3" r="0.45" fill="#222"/>
<circle cx="419.62" cy="561.42" r="0.45" fill="#222"/>
<circle cx="421.12" cy="551.06" r="0.45" fill="#222"/>
<circle cx="414.02" cy="551.49" r="0.45" fill="#222"/>
<circle cx="424.92" cy="553.55" r="0.45" fill="#222"/>
<circle cx="418.62" cy="553.58" r="0.45" fill="#222"/>
<circle cx="414.11" cy="549.49" r="0.45" fill="#222"/>
<circle cx="416.06" cy="551.79" r="0.45" fill="#222"/>
<circle cx="414.96" cy="545.38" r="0.45" fill="#222"/>
<circle cx="421" cy="548.96" r="0.45" fill="#222"/>
<circle cx="427.47" cy="554" r="0.45" fill="#222"/>
<circle cx="431.26" cy="556.18" r="0.45" fill="#222"/>
<circle cx="430.47" cy="559.94" r="0.45" fill="#222"/>
<circle cx="422.96" cy="550.54" r="0.45" fill="#222"/>
<circle cx="436.65" cy="547.54" r="0.45" fill="#222"/>
<circle cx="430.66" cy="555.93" r="0.45" fill="#222"/>
<circle cx="415.01" cy="559.2" r="0.45" fill="#222"/>
<circle cx="434.51" cy="555.66" r="0.45" fill="#222"/>
<circle cx="430.88" cy="558.81" r="0.45" fill="#222"/>
<circle cx="417.2" cy="553.9" r="0.45" fill="#222"/>
<circle cx="425.6" cy="559.19" r="0.45" fill="#222"/>
<circle cx="432.51" cy="559.05" r="0.45" fill="#222"/>
<circle cx="427.43" cy="560.18" r="0.45" fill="#222"/>
<circle cx="429.71" cy="556.79" r="0.45" fill="#222"/>
<circle cx="419.29" cy="545.53" r="0.45" fill="#222"/>
<circle cx="417.06" cy="551.13" r="0.45" fill="#222"/>
<circle cx="416.41" cy="559.21" r="0.45" fill="#222"/>
<circle cx="426.85" cy="555.67" r="0.45" fill="#222"/>
<circle cx="428.4" cy="556.57" r="0.45" fill="#222"/>
<circle cx="425.25" cy="545.06" r="0.45" fill="#222"/>
<circle cx="432.35" cy="557.72" r="0.45" fill="#222"/>
<circle cx="425.57" cy="554.1" r="0.45" fill="#222"/>
<circle cx="429.16" cy="546.12" r="0.45" fill="#222"/>
<circle cx="430.95" cy="549.29" r="0.45" fill="#222"/>
<circle cx="415.71" cy="549.51" r="0.45" fill="#222"/>
<circle cx="430.77" cy="548.49" r="0.45" fill="#222"/>
<circle cx="431.02" cy="561.59" r="0.45" fill="#222"/>
<circle cx="425.36" cy="551.5" r="0.45" fill="#222"/>
<circle cx="425.02" cy="556.62" r="0.45" fill="#222"/>
<circle cx="431.64" cy="555.49" r="0.45" fill="#222"/>
<circle cx="428.78" cy="546.32" r="0.45" fill="#222"/>
<circle cx="417.39" cy="549.32" r="0.45" fill="#222"/>
<circle cx="431.09" cy="550.18" r="0.45" fill="#222"/>
<circle cx="427.06" cy="545.21" r="0.45" fill="#222"/>
<circle cx="415.4" cy="549.57" r="0.45" fill="#222"/>
<circle cx="429.46" cy="556.77" r="0.45" fill="#222"/>
<circle cx="429.54" cy="549.94" r="0.45" fill="#222"/>
<circle cx="425.88" cy="552.9" r="0.45" fill="#222"/>
<circle cx="392" cy="517.37" r="0.45" fill="#444"/>
<circle cx="398.4" cy="518.99" r="0.45" fill="#444"/>
<circle cx="399.67" cy="533.73" r="0.45" fill="#444"/>
<line x1="485.8" y1="485.2" x2="485.8" y2="567.3" stroke="#9393e6" stroke-width="0.7" stroke-linecap="butt"/>
<line x1="462" y1="543" x2="543.3" y2="543" stroke="#9393e6" stroke-width="0.7" stroke-linecap="butt"/>
<rect x="462" y="485.2" width="81.3" height="82.1" fill="none" stroke="#787878" stroke-width="1.0"/>
<line x1="460.4" y1="566.8" x2="462" y2="566.8" stroke="#555" stroke-width="0.5" stroke-linecap="butt"/>
<line x1="462.5" y1="567.3" x2="462.5" y2="568.9" stroke="#555" stroke-width="0.5" stroke-linecap="butt"/>
<line x1="461.1" y1="560.73" x2="462" y2="560.73" stroke="#888" stroke-width="0.35" stroke-linecap="butt"/>
<line x1="468.5" y1="567.3" x2="468.5" y2="568.2" stroke="#888" stroke-width="0.35" stroke-linecap="butt"/>
<line x1="461.1" y1="556.63" x2="462" y2="556.63" stroke="#888" stroke-width="0.35" stroke-linecap="butt"/>
<line x1="472.57" y1="567.3" x2="472.57" y2="568.2" stroke="#888" stroke-width="0.35" stroke-linecap="butt"/>
<line x1="461.1" y1="553.34" x2="462" y2="553.34" stroke="#888" stroke-width="0.35" stroke-linecap="butt"/>
<line x1="475.82" y1="567.3" x2="475.82" y2="568.2" stroke="#888" stroke-width="0.35" stroke-linecap="butt"/>
<line x1="461.1" y1="550.88" x2="462" y2="550.88" stroke="#888" stroke-width="0.35" stroke-linecap="butt"/>
<line x1="478.26" y1="567.3" x2="478.26" y2="568.2" stroke="#888" stroke-width="0.35" stroke-linecap="butt"/>
<line x1="461.1" y1="548.83" x2="462" y2="548.83" stroke="#888" stroke-width="0.35" stroke-linecap="butt"/>
<line x1="480.29" y1="567.3" x2="480.29" y2="568.2" stroke="#888" stroke-width="0.35" stroke-linecap="butt"/>
<line x1="460.4" y1="546.27" x2="462" y2="546.27" stroke="#555" stroke-width="0.5" stroke-linecap="butt"/>
<line x1="482.82" y1="567.3" x2="482.82" y2="568.9" stroke="#555" stroke-width="0.5" stroke-linecap="butt"/>
<line x1="461.1" y1="540.21" x2="462" y2="540.21" stroke="#888" stroke-width="0.35" stroke-linecap="butt"/>
<line x1="488.83" y1="567.3" x2="488.83" y2="568.2" stroke="#888" stroke-width="0.35" stroke-linecap="butt"/>
<line x1="461.1" y1="536.1" x2="462" y2="536.1" stroke="#888" stroke-width="0.35" stroke-linecap="butt"/>
<line x1="492.89" y1="567.3" x2="492.89" y2="568.2" stroke="#888" stroke-width="0.35" stroke-linecap="butt"/>
<line x1="461.1" y1="532.82" x2="462" y2="532.82" stroke="#888" stroke-width="0.35" stroke-linecap="butt"/>
<line x1="496.15" y1="567.3" x2="496.15" y2="568.2" stroke="#888" stroke-width="0.35" stroke-linecap="butt"/>
<line x1="461.1" y1="530.36" x2="462" y2="530.36" stroke="#888" stroke-width="0.35" stroke-linecap="butt"/>
<line x1="498.58" y1="567.3" x2="498.58" y2="568.2" stroke="#888" stroke-width="0.35" stroke-linecap="butt"/>
<line x1="461.1" y1="528.3" x2="462" y2="528.3" stroke="#888" stroke-width="0.35" stroke-linecap="butt"/>
<line x1="500.62" y1="567.3" x2="500.62" y2="568.2" stroke="#888" stroke-width="0.35" stroke-linecap="butt"/>
<line x1="460.4" y1="525.75" x2="462" y2="525.75" stroke="#555" stroke-width="0.5" stroke-linecap="butt"/>
<line x1="503.15" y1="567.3" x2="503.15" y2="568.9" stroke="#555" stroke-width="0.5" stroke-linecap="butt"/>
<line x1="461.1" y1="519.68" x2="462" y2="519.68" stroke="#888" stroke-width="0.35" stroke-linecap="butt"/>
<line x1="509.15" y1="567.3" x2="509.15" y2="568.2" stroke="#888" stroke-width="0.35" stroke-linecap="butt"/>
<line x1="461.1" y1="515.58" x2="462" y2="515.58" stroke="#888" stroke-width="0.35" stroke-linecap="butt"/>
<line x1="513.22" y1="567.3" x2="513.22" y2="568.2" stroke="#888" stroke-width="0.35" stroke-linecap="butt"/>
<line x1="461.1" y1="512.29" x2="462" y2="512.29" stroke="#888" stroke-width="0.35" stroke-linecap="butt"/>
<line x1="516.47" y1="567.3" x2="516.47" y2="568.2" stroke="#888" stroke-width="0.35" stroke-linecap="butt"/>
<line x1="461.1" y1="509.83" x2="462" y2="509.83" stroke="#888" stroke-width="0.35" stroke-linecap="butt"/>
<line x1="518.91" y1="567.3" x2="518.91" y2="568.2" stroke="#888" stroke-width="0.35" stroke-linecap="butt"/>
<line x1="461.1" y1="507.78" x2="462" y2="507.78" stroke="#888" stroke-width="0.35" stroke-linecap="butt"/>
<line x1="520.94" y1="567.3" x2="520.94" y2="568.2" stroke="#888" stroke-width="0.35" stroke-linecap="butt"/>
<line x1="460.4" y1="505.22" x2="462" y2="505.22" stroke="#555" stroke-width="0.5" stroke-linecap="butt"/>
<line x1="523.47" y1="567.3" x2="523.47" y2="568.9" stroke="#555" stroke-width="0.5" stroke-linecap="butt"/>
<line x1="461.1" y1="499.16" x2="462" y2="499.16" stroke="#888" stroke-width="0.35" stroke-linecap="butt"/>
<line x1="529.48" y1="567.3" x2="529.48" y2="568.2" stroke="#888" stroke-width="0.35" stroke-linecap="butt"/>
<line x1="461.1" y1="495.05" x2="462" y2="495.05" stroke="#888" stroke-width="0.35" stroke-linecap="butt"/>
<line x1="533.54" y1="567.3" x2="533.54" y2="568.2" stroke="#888" stroke-width="0.35" stroke-linecap="butt"/>
<line x1="461.1" y1="491.77" x2="462" y2="491.77" stroke="#888" stroke-width="0.35" stroke-linecap="butt"/>
<line x1="536.8" y1="567.3" x2="536.8" y2="568.2" stroke="#888" stroke-width="0.35" stroke-linecap="butt"/>
<line x1="461.1" y1="489.31" x2="462" y2="489.31" stroke="#888" stroke-width="0.35" stroke-linecap="butt"/>
<line x1="539.23" y1="567.3" x2="539.23" y2="568.2" stroke="#888" stroke-width="0.35" stroke-linecap="butt"/>
<line x1="461.1" y1="487.25" x2="462" y2="487.25" stroke="#888" stroke-width="0.35" stroke-linecap="butt"/>
<line x1="541.27" y1="567.3" x2="541.27" y2="568.2" stroke="#888" stroke-width="0.35" stroke-linecap="butt"/>
<text font-size="9.7" text-anchor="start" fill="#000" x="464.6" y="494.8" >0.44</text>
<text font-size="9.7" text-anchor="end" fill="#000" x="541.3" y="564.1" >40.8</text>
<ellipse cx="492" cy="554" rx="23.5" ry="9.3" fill="#000" fill-opacity="0.03" stroke="#000" stroke-width="0.4" stroke-opacity="0.8"/>
<ellipse cx="492" cy="554" rx="21.37" ry="8.46" fill="#000" fill-opacity="0.03" stroke="#000" stroke-width="0.4" stroke-opacity="0.8"/>
<ellipse cx="492" cy="554" rx="18.06" ry="7.15" fill="#000" fill-opacity="0.03" stroke="#000" stroke-width="0.4" stroke-opacity="0.8"/>
<ellipse cx="492" cy="554" rx="14.1" ry="5.58" fill="#000" fill-opacity="0.03" stroke="#000" stroke-width="0.4" stroke-opacity="0.8"/>
<ellipse cx="485" cy="554" rx="16" ry="8.3" fill="#000" fill-opacity="0.04" stroke="#000" stroke-width="0.4" stroke-opacity="0.8"/>
<ellipse cx="485" cy="554" rx="13.83" ry="7.18" fill="#000" fill-opacity="0.04" stroke="#000" stroke-width="0.4" stroke-opacity="0.8"/>
<ellipse cx="485" cy="554" rx="10.48" ry="5.43" fill="#000" fill-opacity="0.04" stroke="#000" stroke-width="0.4" stroke-opacity="0.8"/>
<ellipse cx="485" cy="554" rx="6.45" ry="3.35" fill="#000" fill-opacity="0.04" stroke="#000" stroke-width="0.4" stroke-opacity="0.8"/>
<ellipse cx="485" cy="554" rx="1.92" ry="1" fill="#000" fill-opacity="0.04" stroke="#000" stroke-width="0.4" stroke-opacity="0.8"/>
<ellipse cx="481.5" cy="554" rx="12" ry="5.8" fill="#000" fill-opacity="0.13" stroke="#000" stroke-width="0.4" stroke-opacity="0.8"/>
<ellipse cx="481.5" cy="554" rx="11.36" ry="5.49" fill="#000" fill-opacity="0.13" stroke="#000" stroke-width="0.4" stroke-opacity="0.8"/>
<ellipse cx="481.5" cy="554" rx="10.37" ry="5.01" fill="#000" fill-opacity="0.13" stroke="#000" stroke-width="0.4" stroke-opacity="0.8"/>
<ellipse cx="481.5" cy="554" rx="9.19" ry="4.44" fill="#000" fill-opacity="0.13" stroke="#000" stroke-width="0.4" stroke-opacity="0.8"/>
<ellipse cx="481.5" cy="554" rx="7.86" ry="3.8" fill="#000" fill-opacity="0.13" stroke="#000" stroke-width="0.4" stroke-opacity="0.8"/>
<ellipse cx="481.5" cy="554" rx="6.4" ry="3.09" fill="#000" fill-opacity="0.13" stroke="#000" stroke-width="0.4" stroke-opacity="0.8"/>
<ellipse cx="481.5" cy="554" rx="4.84" ry="2.34" fill="#000" fill-opacity="0.13" stroke="#000" stroke-width="0.4" stroke-opacity="0.8"/>
<ellipse cx="481.5" cy="554" rx="3.18" ry="1.54" fill="#000" fill-opacity="0.13" stroke="#000" stroke-width="0.4" stroke-opacity="0.8"/>
<ellipse cx="481.5" cy="554" rx="1.44" ry="0.7" fill="#000" fill-opacity="0.13" stroke="#000" stroke-width="0.4" stroke-opacity="0.8"/>
<ellipse cx="481.5" cy="554" rx="1.68" ry="0.81" fill="#fff" fill-opacity="0.55"/>
<circle cx="468.91" cy="543.13" r="0.5" fill="#222"/>
<circle cx="510.63" cy="547.71" r="0.5" fill="#222"/>
<circle cx="491.37" cy="541.42" r="0.5" fill="#222"/>
<circle cx="478.91" cy="547.51" r="0.5" fill="#222"/>
<circle cx="478.96" cy="544.23" r="0.5" fill="#222"/>
<circle cx="475.37" cy="543.72" r="0.5" fill="#222"/>
<circle cx="517.54" cy="540.19" r="0.5" fill="#222"/>
<circle cx="510.65" cy="543.58" r="0.5" fill="#222"/>
<circle cx="514.12" cy="545.33" r="0.5" fill="#222"/>
<circle cx="480.03" cy="547.08" r="0.5" fill="#222"/>
<circle cx="493.28" cy="539.22" r="0.5" fill="#222"/>
<circle cx="468.19" cy="543.43" r="0.5" fill="#222"/>
<circle cx="491.44" cy="541.72" r="0.5" fill="#222"/>
<circle cx="475.32" cy="542.1" r="0.5" fill="#222"/>
<circle cx="484.44" cy="546.56" r="0.5" fill="#222"/>
<circle cx="468.09" cy="545.76" r="0.5" fill="#222"/>
<circle cx="511.63" cy="540.08" r="0.5" fill="#222"/>
<circle cx="516.17" cy="545.42" r="0.5" fill="#222"/>
<circle cx="514.88" cy="541.61" r="0.5" fill="#222"/>
<circle cx="487.36" cy="542.54" r="0.5" fill="#222"/>
<circle cx="519.94" cy="544.3" r="0.5" fill="#222"/>
<circle cx="486.76" cy="542.85" r="0.5" fill="#222"/>
<circle cx="482.31" cy="539.43" r="0.5" fill="#222"/>
<circle cx="473.29" cy="546.51" r="0.5" fill="#222"/>
<circle cx="482.85" cy="547.42" r="0.5" fill="#222"/>
<circle cx="480.96" cy="541.39" r="0.5" fill="#222"/>
<circle cx="494.57" cy="540.71" r="0.5" fill="#222"/>
<circle cx="487.41" cy="547.61" r="0.5" fill="#222"/>
<circle cx="513.98" cy="546.31" r="0.5" fill="#222"/>
<circle cx="500.81" cy="547.22" r="0.5" fill="#222"/>
<circle cx="516.92" cy="543.94" r="0.5" fill="#222"/>
<circle cx="505.42" cy="539.45" r="0.5" fill="#222"/>
<circle cx="506.08" cy="543.06" r="0.5" fill="#222"/>
<circle cx="507.14" cy="544.8" r="0.5" fill="#222"/>
<circle cx="482.88" cy="539.44" r="0.5" fill="#222"/>
<circle cx="516.19" cy="540.15" r="0.5" fill="#222"/>
<circle cx="492.55" cy="542.09" r="0.5" fill="#222"/>
<circle cx="483.48" cy="545.65" r="0.5" fill="#222"/>
<circle cx="518.77" cy="541.34" r="0.5" fill="#222"/>
<circle cx="502.11" cy="541.71" r="0.5" fill="#222"/>
<circle cx="496.98" cy="542.55" r="0.5" fill="#222"/>
<circle cx="476.7" cy="540.45" r="0.5" fill="#222"/>
<circle cx="478.81" cy="547.15" r="0.5" fill="#222"/>
<circle cx="493.85" cy="540.98" r="0.5" fill="#222"/>
<circle cx="515.13" cy="547.97" r="0.5" fill="#222"/>
<circle cx="491.4" cy="540.26" r="0.5" fill="#222"/>
<circle cx="478.01" cy="539.82" r="0.5" fill="#222"/>
<circle cx="485.78" cy="539.82" r="0.5" fill="#222"/>
<circle cx="480.43" cy="541.33" r="0.5" fill="#222"/>
<circle cx="497.62" cy="546.99" r="0.5" fill="#222"/>
<circle cx="506.98" cy="542.72" r="0.5" fill="#222"/>
<circle cx="489.52" cy="543.72" r="0.5" fill="#222"/>
<circle cx="487.6" cy="542.04" r="0.5" fill="#222"/>
<circle cx="471.23" cy="541.5" r="0.5" fill="#222"/>
<circle cx="518.32" cy="540.13" r="0.5" fill="#222"/>
<circle cx="494.18" cy="544.67" r="0.5" fill="#222"/>
<circle cx="512.87" cy="540.94" r="0.5" fill="#222"/>
<circle cx="482.09" cy="541.24" r="0.5" fill="#222"/>
<circle cx="488.79" cy="543.01" r="0.5" fill="#222"/>
<circle cx="517.61" cy="546.64" r="0.5" fill="#222"/>
<circle cx="513.39" cy="539.2" r="0.5" fill="#222"/>
<circle cx="469.68" cy="545.39" r="0.5" fill="#222"/>
<circle cx="514.58" cy="543.26" r="0.5" fill="#222"/>
<circle cx="498.53" cy="539" r="0.5" fill="#222"/>
<circle cx="488.36" cy="547.34" r="0.5" fill="#222"/>
<circle cx="510.93" cy="546.7" r="0.5" fill="#222"/>
<circle cx="518.56" cy="541.24" r="0.5" fill="#222"/>
<circle cx="473.67" cy="540.39" r="0.5" fill="#222"/>
<circle cx="495.16" cy="545.14" r="0.5" fill="#222"/>
<circle cx="516.96" cy="545.5" r="0.5" fill="#222"/>
<circle cx="501.66" cy="545.88" r="0.5" fill="#222"/>
<circle cx="491.78" cy="543.96" r="0.5" fill="#222"/>
<circle cx="470.06" cy="546.04" r="0.5" fill="#222"/>
<circle cx="480.09" cy="547.28" r="0.5" fill="#222"/>
<circle cx="501.57" cy="541.73" r="0.5" fill="#222"/>
<circle cx="474.65" cy="541.27" r="0.5" fill="#222"/>
<circle cx="501.09" cy="545.29" r="0.5" fill="#222"/>
<circle cx="473.83" cy="539.63" r="0.5" fill="#222"/>
<circle cx="495.27" cy="544.25" r="0.5" fill="#222"/>
<circle cx="488.18" cy="541.01" r="0.5" fill="#222"/>
<circle cx="499.26" cy="539.09" r="0.5" fill="#222"/>
<circle cx="483.68" cy="543.15" r="0.5" fill="#222"/>
<circle cx="517.86" cy="544.8" r="0.5" fill="#222"/>
<circle cx="513.96" cy="543.28" r="0.5" fill="#222"/>
<circle cx="480.21" cy="541.22" r="0.5" fill="#222"/>
<circle cx="522.99" cy="533.39" r="0.45" fill="#444"/>
<circle cx="489.68" cy="520.41" r="0.45" fill="#444"/>
<circle cx="499.41" cy="532.81" r="0.45" fill="#444"/>
<circle cx="495.42" cy="524.89" r="0.45" fill="#444"/>
<circle cx="508.04" cy="537.58" r="0.45" fill="#444"/>
<circle cx="485.57" cy="520.65" r="0.45" fill="#444"/>
<circle cx="491.24" cy="527.99" r="0.45" fill="#444"/>
<circle cx="508.81" cy="523.76" r="0.45" fill="#444"/>
<circle cx="514.65" cy="534.04" r="0.45" fill="#444"/>
<circle cx="499.75" cy="523.9" r="0.45" fill="#444"/>
<circle cx="523.46" cy="525.92" r="0.45" fill="#444"/>
<circle cx="515.82" cy="524.39" r="0.45" fill="#444"/>
<circle cx="485.29" cy="534.45" r="0.45" fill="#444"/>
<circle cx="489.04" cy="538.09" r="0.45" fill="#444"/>
<circle cx="499.28" cy="523.56" r="0.45" fill="#444"/>
<circle cx="485.39" cy="527.92" r="0.45" fill="#444"/>
<circle cx="507.93" cy="538.03" r="0.45" fill="#444"/>
<circle cx="481.47" cy="527.48" r="0.45" fill="#444"/>
<circle cx="504.39" cy="561.56" r="0.45" fill="#222"/>
<circle cx="502.26" cy="545.88" r="0.45" fill="#222"/>
<circle cx="499.8" cy="551.69" r="0.45" fill="#222"/>
<circle cx="524.95" cy="560.02" r="0.45" fill="#222"/>
<circle cx="519.98" cy="561.96" r="0.45" fill="#222"/>
<circle cx="525.95" cy="550.6" r="0.45" fill="#222"/>
<circle cx="503.57" cy="560.91" r="0.45" fill="#222"/>
<circle cx="520.39" cy="545.54" r="0.45" fill="#222"/>
<circle cx="517.93" cy="551.44" r="0.45" fill="#222"/>
<circle cx="509.22" cy="550.64" r="0.45" fill="#222"/>
<circle cx="503.08" cy="545.05" r="0.45" fill="#222"/>
<circle cx="506.39" cy="550.97" r="0.45" fill="#222"/>
<circle cx="526.67" cy="547.1" r="0.45" fill="#222"/>
<circle cx="526.93" cy="548.53" r="0.45" fill="#222"/>
<circle cx="508.7" cy="558.97" r="0.45" fill="#222"/>
<circle cx="522.66" cy="552.35" r="0.45" fill="#222"/>
<circle cx="499.48" cy="553.05" r="0.45" fill="#222"/>
<circle cx="509.18" cy="560.63" r="0.45" fill="#222"/>
<circle cx="503.79" cy="551.19" r="0.45" fill="#222"/>
<circle cx="524.91" cy="545.51" r="0.45" fill="#222"/>
<circle cx="510.32" cy="558.8" r="0.45" fill="#222"/>
<circle cx="521" cy="545.69" r="0.45" fill="#222"/>
<circle cx="499.05" cy="546.06" r="0.45" fill="#222"/>
<circle cx="525.6" cy="549.37" r="0.45" fill="#222"/>
<circle cx="520.42" cy="560.28" r="0.45" fill="#222"/>
<circle cx="508.17" cy="549.63" r="0.45" fill="#222"/>
<circle cx="526.73" cy="555.49" r="0.45" fill="#222"/>
<circle cx="505.87" cy="557.18" r="0.45" fill="#222"/>
<circle cx="507.49" cy="549.69" r="0.45" fill="#222"/>
<circle cx="498.11" cy="557.85" r="0.45" fill="#222"/>
<circle cx="525.49" cy="555.78" r="0.45" fill="#222"/>
<circle cx="526.3" cy="545.41" r="0.45" fill="#222"/>
<circle cx="505.02" cy="553.08" r="0.45" fill="#222"/>
<circle cx="526.7" cy="561.22" r="0.45" fill="#222"/>
<circle cx="509.6" cy="549.27" r="0.45" fill="#222"/>
<circle cx="510.9" cy="553.39" r="0.45" fill="#222"/>
<circle cx="525.84" cy="548.11" r="0.45" fill="#222"/>
<circle cx="522.08" cy="557.55" r="0.45" fill="#222"/>
<circle cx="522.68" cy="558.14" r="0.45" fill="#222"/>
<circle cx="516.22" cy="550.57" r="0.45" fill="#222"/>
<circle cx="507.59" cy="551.15" r="0.45" fill="#222"/>
<circle cx="521.47" cy="546.34" r="0.45" fill="#222"/>
<circle cx="503.92" cy="557.8" r="0.45" fill="#222"/>
<circle cx="505.42" cy="546.1" r="0.45" fill="#222"/>
<circle cx="499.02" cy="554.39" r="0.45" fill="#222"/>
<circle cx="507.77" cy="561.66" r="0.45" fill="#222"/>
<circle cx="524.5" cy="561.79" r="0.45" fill="#222"/>
<circle cx="505.95" cy="546.43" r="0.45" fill="#222"/>
<circle cx="500.89" cy="553.47" r="0.45" fill="#222"/>
<circle cx="519.29" cy="552.6" r="0.45" fill="#222"/>
<circle cx="505.03" cy="552.09" r="0.45" fill="#222"/>
<circle cx="516.61" cy="556.46" r="0.45" fill="#222"/>
<circle cx="520.44" cy="559.4" r="0.45" fill="#222"/>
<circle cx="517.93" cy="547.06" r="0.45" fill="#222"/>
<circle cx="523.23" cy="549.99" r="0.45" fill="#222"/>
<circle cx="515.01" cy="551.34" r="0.45" fill="#222"/>
<circle cx="520.14" cy="548.39" r="0.45" fill="#222"/>
<circle cx="505.42" cy="549.17" r="0.45" fill="#222"/>
<circle cx="502.6" cy="560.03" r="0.45" fill="#222"/>
<circle cx="515.35" cy="550.55" r="0.45" fill="#222"/>
<circle cx="509.88" cy="561.87" r="0.45" fill="#222"/>
<circle cx="513.22" cy="548.93" r="0.45" fill="#222"/>
<circle cx="522.25" cy="556.11" r="0.45" fill="#222"/>
<circle cx="527.73" cy="546.74" r="0.45" fill="#222"/>
<circle cx="512.24" cy="558.92" r="0.45" fill="#222"/>
<circle cx="523.22" cy="560.54" r="0.45" fill="#222"/>
<circle cx="499.21" cy="549.99" r="0.45" fill="#222"/>
<circle cx="501.58" cy="548.22" r="0.45" fill="#222"/>
<circle cx="527.19" cy="554.91" r="0.45" fill="#222"/>
<circle cx="525.91" cy="551.33" r="0.45" fill="#222"/>
<circle cx="523.98" cy="552.63" r="0.45" fill="#222"/>
<circle cx="505.8" cy="558.22" r="0.45" fill="#222"/>
<circle cx="526.37" cy="546.8" r="0.45" fill="#222"/>
<circle cx="515.88" cy="555.54" r="0.45" fill="#222"/>
<circle cx="504.53" cy="551.27" r="0.45" fill="#222"/>
<circle cx="478.71" cy="505.75" r="0.45" fill="#444"/>
<circle cx="479.27" cy="520.78" r="0.45" fill="#444"/>
<circle cx="481.26" cy="505.73" r="0.45" fill="#444"/>
<circle cx="478.06" cy="510.44" r="0.45" fill="#444"/>
<circle cx="481.39" cy="505.04" r="0.45" fill="#444"/>
<circle cx="479.56" cy="505.73" r="0.45" fill="#444"/>
<circle cx="481.98" cy="518.83" r="0.45" fill="#444"/>
<circle cx="478.32" cy="501.85" r="0.45" fill="#444"/>
<circle cx="479.98" cy="518.91" r="0.45" fill="#444"/>
<rect x="755.6" y="186.4" width="12.2" height="8.4" fill="#fff" stroke="#000" stroke-width="1.2"/>
<text font-size="13" text-anchor="start" fill="#000" x="774.3" y="194.5" >Air</text>
<rect x="755.6" y="201.4" width="12.2" height="8" fill="#4a4a4a" stroke="#000" stroke-width="1.2"/>
<text font-size="13" text-anchor="start" fill="#000" x="774.3" y="209.2" >Smk</text>
<rect x="755.6" y="216.3" width="12.2" height="7.5" fill="#2820f4" stroke="#000" stroke-width="1.2"/>
<text font-size="13" text-anchor="start" fill="#000" x="774.3" y="223.3" >Air / Flu</text>
<rect x="755.6" y="229.3" width="12.2" height="7.5" fill="#cf0000" stroke="#000" stroke-width="1.2"/>
<text font-size="13" text-anchor="start" fill="#000" x="774.3" y="237.2" >Smk / Flu</text>
<rect x="641.8" y="336.2" width="12.7" height="29.3" fill="#fff" stroke="#000" stroke-width="1.2"/>
<rect x="660.7" y="326.7" width="12.6" height="38.8" fill="#4a4a4a" stroke="#000" stroke-width="1.2"/>
<rect x="679.3" y="352.5" width="12.7" height="13" fill="#2820f4" stroke="#000" stroke-width="1.2"/>
<rect x="698" y="318.8" width="12.8" height="46.7" fill="#cf0000" stroke="#000" stroke-width="1.2"/>
<line x1="648.15" y1="331.2" x2="648.15" y2="340.8" stroke="#000" stroke-width="1.1" stroke-linecap="butt"/>
<line x1="644.4" y1="331.2" x2="651.9" y2="331.2" stroke="#000" stroke-width="1.1" stroke-linecap="butt"/>
<line x1="644.4" y1="340.8" x2="651.9" y2="340.8" stroke="#000" stroke-width="1.1" stroke-linecap="butt"/>
<line x1="667" y1="312" x2="667" y2="341.3" stroke="#000" stroke-width="1.1" stroke-linecap="butt"/>
<line x1="663.25" y1="312" x2="670.75" y2="312" stroke="#000" stroke-width="1.1" stroke-linecap="butt"/>
<line x1="663.25" y1="341.3" x2="670.75" y2="341.3" stroke="#000" stroke-width="1.1" stroke-linecap="butt"/>
<line x1="685.65" y1="347.5" x2="685.65" y2="357.5" stroke="#000" stroke-width="1.1" stroke-linecap="butt"/>
<line x1="681.9" y1="347.5" x2="689.4" y2="347.5" stroke="#000" stroke-width="1.1" stroke-linecap="butt"/>
<line x1="681.9" y1="357.5" x2="689.4" y2="357.5" stroke="#000" stroke-width="1.1" stroke-linecap="butt"/>
<line x1="704.4" y1="313.8" x2="704.4" y2="324.2" stroke="#000" stroke-width="1.1" stroke-linecap="butt"/>
<line x1="700.65" y1="313.8" x2="708.15" y2="313.8" stroke="#000" stroke-width="1.1" stroke-linecap="butt"/>
<line x1="700.65" y1="324.2" x2="708.15" y2="324.2" stroke="#000" stroke-width="1.1" stroke-linecap="butt"/>
<line x1="638.5" y1="251.9" x2="638.5" y2="366.2" stroke="#000" stroke-width="1.5" stroke-linecap="butt"/>
<line x1="634.5" y1="365.5" x2="713.8" y2="365.5" stroke="#000" stroke-width="1.5" stroke-linecap="butt"/>
<line x1="634.2" y1="252.5" x2="638.5" y2="252.5" stroke="#000" stroke-width="1.5" stroke-linecap="butt"/>
<text font-size="9" text-anchor="end" fill="#000" font-weight="bold" textLength="9.1" lengthAdjust="spacingAndGlyphs" x="629" y="255.75" >80</text>
<line x1="634.2" y1="280.8" x2="638.5" y2="280.8" stroke="#000" stroke-width="1.5" stroke-linecap="butt"/>
<text font-size="9" text-anchor="end" fill="#000" font-weight="bold" textLength="9.1" lengthAdjust="spacingAndGlyphs" x="629" y="284.05" >60</text>
<line x1="634.2" y1="309.2" x2="638.5" y2="309.2" stroke="#000" stroke-width="1.5" stroke-linecap="butt"/>
<text font-size="9" text-anchor="end" fill="#000" font-weight="bold" textLength="9.1" lengthAdjust="spacingAndGlyphs" x="629" y="312.45" >40</text>
<line x1="634.2" y1="337.4" x2="638.5" y2="337.4" stroke="#000" stroke-width="1.5" stroke-linecap="butt"/>
<text font-size="9" text-anchor="end" fill="#000" font-weight="bold" textLength="9.1" lengthAdjust="spacingAndGlyphs" x="629" y="340.65" >20</text>
<line x1="634.2" y1="365.5" x2="638.5" y2="365.5" stroke="#000" stroke-width="1.5" stroke-linecap="butt"/>
<text font-size="9" text-anchor="end" fill="#000" font-weight="bold" textLength="4.55" lengthAdjust="spacingAndGlyphs" x="629" y="368.75" >0</text>
<text font-size="12.3" text-anchor="middle" fill="#000" textLength="77.5" lengthAdjust="spacingAndGlyphs" transform="translate(607.3,310) rotate(-90)" >%IL-17<tspan dy="-4" font-size="8.5">+</tspan><tspan dy="4" font-size="1">&#8203;</tspan> / γδT</text>
<circle cx="644.5" cy="331.25" r="2.2" fill="#000"/>
<circle cx="648.25" cy="330" r="2.2" fill="#000"/>
<circle cx="651.5" cy="331" r="2.2" fill="#000"/>
<circle cx="644.5" cy="346.75" r="2.2" fill="#000"/>
<circle cx="650.25" cy="340.5" r="2.2" fill="#000"/>
<circle cx="666.75" cy="276.75" r="2.2" fill="#000"/>
<circle cx="666.75" cy="331.25" r="2.2" fill="#000"/>
<circle cx="666.75" cy="341.25" r="2.2" fill="#000"/>
<circle cx="666.75" cy="365.75" r="2.2" fill="#000"/>
<circle cx="666.75" cy="325" r="2.2" fill="#000"/>
<circle cx="685.75" cy="335.75" r="2.2" fill="#000"/>
<circle cx="685.75" cy="347.5" r="2.2" fill="#000"/>
<circle cx="683.75" cy="355" r="2.2" fill="#000"/>
<circle cx="687.5" cy="355.5" r="2.2" fill="#000"/>
<circle cx="685.75" cy="365" r="2.2" fill="#000"/>
<circle cx="704.25" cy="301.25" r="2.2" fill="#000"/>
<circle cx="700.25" cy="310.75" r="2.2" fill="#000"/>
<circle cx="707.75" cy="308.25" r="2.2" fill="#000"/>
<circle cx="704.25" cy="323.75" r="2.2" fill="#000"/>
<circle cx="700.25" cy="337.5" r="2.2" fill="#000"/>
<circle cx="707.75" cy="335" r="2.2" fill="#000"/>
<polyline points="648.3,305.8 648.3,256.3 686.3,256.3 686.3,266.3" fill="none" stroke="#000" stroke-width="1.7" stroke-linejoin="miter"/>
<text font-size="18.5" text-anchor="middle" fill="#000" x="668" y="260.7" >*</text>
<polyline points="685.8,330 685.8,278.8 705,278.8 705,293.8" fill="none" stroke="#000" stroke-width="1.7" stroke-linejoin="miter"/>
<text font-size="18.5" text-anchor="middle" fill="#000" x="696.2" y="283.2" >**</text>
<rect x="776.5" y="361.3" width="12.5" height="4.5" fill="#fff" stroke="#000" stroke-width="1.2"/>
<rect x="795" y="362" width="12.8" height="3.8" fill="#4a4a4a" stroke="#000" stroke-width="1.2"/>
<rect x="813.8" y="323.3" width="12.7" height="42.5" fill="#2820f4" stroke="#000" stroke-width="1.2"/>
<rect x="832.5" y="356.3" width="12.8" height="9.5" fill="#cf0000" stroke="#000" stroke-width="1.2"/>
<line x1="782.75" y1="358.7" x2="782.75" y2="363.8" stroke="#000" stroke-width="1.1" stroke-linecap="butt"/>
<line x1="779" y1="358.7" x2="786.5" y2="358.7" stroke="#000" stroke-width="1.1" stroke-linecap="butt"/>
<line x1="779" y1="363.8" x2="786.5" y2="363.8" stroke="#000" stroke-width="1.1" stroke-linecap="butt"/>
<line x1="801.4" y1="359.5" x2="801.4" y2="364.5" stroke="#000" stroke-width="1.1" stroke-linecap="butt"/>
<line x1="797.65" y1="359.5" x2="805.15" y2="359.5" stroke="#000" stroke-width="1.1" stroke-linecap="butt"/>
<line x1="797.65" y1="364.5" x2="805.15" y2="364.5" stroke="#000" stroke-width="1.1" stroke-linecap="butt"/>
<line x1="820.15" y1="313.8" x2="820.15" y2="333" stroke="#000" stroke-width="1.1" stroke-linecap="butt"/>
<line x1="816.4" y1="313.8" x2="823.9" y2="313.8" stroke="#000" stroke-width="1.1" stroke-linecap="butt"/>
<line x1="816.4" y1="333" x2="823.9" y2="333" stroke="#000" stroke-width="1.1" stroke-linecap="butt"/>
<line x1="838.9" y1="351.7" x2="838.9" y2="361.2" stroke="#000" stroke-width="1.1" stroke-linecap="butt"/>
<line x1="835.15" y1="351.7" x2="842.65" y2="351.7" stroke="#000" stroke-width="1.1" stroke-linecap="butt"/>
<line x1="835.15" y1="361.2" x2="842.65" y2="361.2" stroke="#000" stroke-width="1.1" stroke-linecap="butt"/>
<line x1="773.4" y1="253.2" x2="773.4" y2="366.5" stroke="#000" stroke-width="1.5" stroke-linecap="butt"/>
<line x1="769.4" y1="365.8" x2="848.5" y2="365.8" stroke="#000" stroke-width="1.5" stroke-linecap="butt"/>
<line x1="769.1" y1="253.8" x2="773.4" y2="253.8" stroke="#000" stroke-width="1.5" stroke-linecap="butt"/>
<text font-size="9" text-anchor="end" fill="#000" font-weight="bold" textLength="9.1" lengthAdjust="spacingAndGlyphs" x="763.9" y="257.05" >40</text>
<line x1="769.1" y1="282" x2="773.4" y2="282" stroke="#000" stroke-width="1.5" stroke-linecap="butt"/>
<text font-size="9" text-anchor="end" fill="#000" font-weight="bold" textLength="9.1" lengthAdjust="spacingAndGlyphs" x="763.9" y="285.25" >30</text>
<line x1="769.1" y1="310" x2="773.4" y2="310" stroke="#000" stroke-width="1.5" stroke-linecap="butt"/>
<text font-size="9" text-anchor="end" fill="#000" font-weight="bold" textLength="9.1" lengthAdjust="spacingAndGlyphs" x="763.9" y="313.25" >20</text>
<line x1="769.1" y1="338" x2="773.4" y2="338" stroke="#000" stroke-width="1.5" stroke-linecap="butt"/>
<text font-size="9" text-anchor="end" fill="#000" font-weight="bold" textLength="9.1" lengthAdjust="spacingAndGlyphs" x="763.9" y="341.25" >10</text>
<line x1="769.1" y1="365.8" x2="773.4" y2="365.8" stroke="#000" stroke-width="1.5" stroke-linecap="butt"/>
<text font-size="9" text-anchor="end" fill="#000" font-weight="bold" textLength="4.55" lengthAdjust="spacingAndGlyphs" x="763.9" y="369.05" >0</text>
<text font-size="12.3" text-anchor="middle" fill="#000" textLength="77.5" lengthAdjust="spacingAndGlyphs" transform="translate(743,310) rotate(-90)" >%IFN-γ<tspan dy="-4" font-size="8.5">+</tspan><tspan dy="4" font-size="1">&#8203;</tspan>/ γδT</text>
<circle cx="782.75" cy="351.25" r="2.2" fill="#000"/>
<circle cx="779.5" cy="364" r="2.2" fill="#000"/>
<circle cx="782.75" cy="365.5" r="2.2" fill="#000"/>
<circle cx="786.25" cy="362.5" r="2.2" fill="#000"/>
<circle cx="787.25" cy="365" r="2.2" fill="#000"/>
<circle cx="801.25" cy="353.25" r="2.2" fill="#000"/>
<circle cx="798.25" cy="364.5" r="2.2" fill="#000"/>
<circle cx="801.25" cy="365.25" r="2.2" fill="#000"/>
<circle cx="804.5" cy="363.25" r="2.2" fill="#000"/>
<circle cx="806" cy="365" r="2.2" fill="#000"/>
<circle cx="820" cy="284.25" r="2.2" fill="#000"/>
<circle cx="820" cy="308" r="2.2" fill="#000"/>
<circle cx="820" cy="325.5" r="2.2" fill="#000"/>
<circle cx="817" cy="335" r="2.2" fill="#000"/>
<circle cx="823.25" cy="337.5" r="2.2" fill="#000"/>
<circle cx="820" cy="349.25" r="2.2" fill="#000"/>
<circle cx="838.75" cy="338.75" r="2.2" fill="#000"/>
<circle cx="838.75" cy="347.5" r="2.2" fill="#000"/>
<circle cx="835.75" cy="360" r="2.2" fill="#000"/>
<circle cx="842" cy="362.5" r="2.2" fill="#000"/>
<circle cx="838.75" cy="365.75" r="2.2" fill="#000"/>
<circle cx="835.75" cy="365.75" r="2.2" fill="#000"/>
<polyline points="820,273.8 820,257.6 840.3,257.6 840.3,327.5" fill="none" stroke="#000" stroke-width="1.7" stroke-linejoin="miter"/>
<text font-size="18.5" text-anchor="middle" fill="#000" x="829.9" y="261.5" >**</text>
<rect x="641.3" y="457.5" width="13" height="42" fill="#fff" stroke="#000" stroke-width="1.2"/>
<rect x="660" y="447.5" width="13" height="52" fill="#4a4a4a" stroke="#000" stroke-width="1.2"/>
<rect x="678.8" y="483" width="13" height="16.5" fill="#2820f4" stroke="#000" stroke-width="1.2"/>
<rect x="697.5" y="463.8" width="13" height="35.7" fill="#cf0000" stroke="#000" stroke-width="1.2"/>
<line x1="647.8" y1="448.7" x2="647.8" y2="467" stroke="#000" stroke-width="1.1" stroke-linecap="butt"/>
<line x1="644.05" y1="448.7" x2="651.55" y2="448.7" stroke="#000" stroke-width="1.1" stroke-linecap="butt"/>
<line x1="644.05" y1="467" x2="651.55" y2="467" stroke="#000" stroke-width="1.1" stroke-linecap="butt"/>
<line x1="666.5" y1="436.2" x2="666.5" y2="459.3" stroke="#000" stroke-width="1.1" stroke-linecap="butt"/>
<line x1="662.75" y1="436.2" x2="670.25" y2="436.2" stroke="#000" stroke-width="1.1" stroke-linecap="butt"/>
<line x1="662.75" y1="459.3" x2="670.25" y2="459.3" stroke="#000" stroke-width="1.1" stroke-linecap="butt"/>
<line x1="685.3" y1="480.5" x2="685.3" y2="485.3" stroke="#000" stroke-width="1.1" stroke-linecap="butt"/>
<line x1="681.55" y1="480.5" x2="689.05" y2="480.5" stroke="#000" stroke-width="1.1" stroke-linecap="butt"/>
<line x1="681.55" y1="485.3" x2="689.05" y2="485.3" stroke="#000" stroke-width="1.1" stroke-linecap="butt"/>
<line x1="704" y1="459.5" x2="704" y2="468.3" stroke="#000" stroke-width="1.1" stroke-linecap="butt"/>
<line x1="700.25" y1="459.5" x2="707.75" y2="459.5" stroke="#000" stroke-width="1.1" stroke-linecap="butt"/>
<line x1="700.25" y1="468.3" x2="707.75" y2="468.3" stroke="#000" stroke-width="1.1" stroke-linecap="butt"/>
<line x1="638.5" y1="387.4" x2="638.5" y2="500.2" stroke="#000" stroke-width="1.5" stroke-linecap="butt"/>
<line x1="634.5" y1="499.5" x2="712.8" y2="499.5" stroke="#000" stroke-width="1.5" stroke-linecap="butt"/>
<line x1="634.2" y1="388" x2="638.5" y2="388" stroke="#000" stroke-width="1.5" stroke-linecap="butt"/>
<text font-size="9" text-anchor="end" fill="#000" font-weight="bold" textLength="4.55" lengthAdjust="spacingAndGlyphs" x="629" y="391.25" >5</text>
<line x1="634.2" y1="410.6" x2="638.5" y2="410.6" stroke="#000" stroke-width="1.5" stroke-linecap="butt"/>
<text font-size="9" text-anchor="end" fill="#000" font-weight="bold" textLength="4.55" lengthAdjust="spacingAndGlyphs" x="629" y="413.85" >4</text>
<line x1="634.2" y1="432.9" x2="638.5" y2="432.9" stroke="#000" stroke-width="1.5" stroke-linecap="butt"/>
<text font-size="9" text-anchor="end" fill="#000" font-weight="bold" textLength="4.55" lengthAdjust="spacingAndGlyphs" x="629" y="436.15" >3</text>
<line x1="634.2" y1="455.2" x2="638.5" y2="455.2" stroke="#000" stroke-width="1.5" stroke-linecap="butt"/>
<text font-size="9" text-anchor="end" fill="#000" font-weight="bold" textLength="4.55" lengthAdjust="spacingAndGlyphs" x="629" y="458.45" >2</text>
<line x1="634.2" y1="477.4" x2="638.5" y2="477.4" stroke="#000" stroke-width="1.5" stroke-linecap="butt"/>
<text font-size="9" text-anchor="end" fill="#000" font-weight="bold" textLength="4.55" lengthAdjust="spacingAndGlyphs" x="629" y="480.65" >1</text>
<line x1="634.2" y1="499.5" x2="638.5" y2="499.5" stroke="#000" stroke-width="1.5" stroke-linecap="butt"/>
<text font-size="9" text-anchor="end" fill="#000" font-weight="bold" textLength="4.55" lengthAdjust="spacingAndGlyphs" x="629" y="502.75" >0</text>
<text font-size="12.3" text-anchor="middle" fill="#000" textLength="97.5" lengthAdjust="spacingAndGlyphs" transform="translate(609,445) rotate(-90)" >%IL-17<tspan dy="-4" font-size="8.5">+</tspan><tspan dy="4" font-size="1">&#8203;</tspan>/ CD4<tspan dy="-4" font-size="8.5">+</tspan><tspan dy="4" font-size="1">&#8203;</tspan>T</text>
<circle cx="647.5" cy="432.5" r="2.2" fill="#000"/>
<circle cx="647.5" cy="443.25" r="2.2" fill="#000"/>
<circle cx="644.5" cy="461.25" r="2.2" fill="#000"/>
<circle cx="650.75" cy="468" r="2.2" fill="#000"/>
<circle cx="647.5" cy="483.25" r="2.2" fill="#000"/>
<circle cx="666.25" cy="416.25" r="2.2" fill="#000"/>
<circle cx="666.25" cy="432.5" r="2.2" fill="#000"/>
<circle cx="666.25" cy="449.25" r="2.2" fill="#000"/>
<circle cx="666.25" cy="464.25" r="2.2" fill="#000"/>
<circle cx="666.25" cy="481.75" r="2.2" fill="#000"/>
<circle cx="681.75" cy="476.25" r="2.2" fill="#000"/>
<circle cx="688" cy="480" r="2.2" fill="#000"/>
<circle cx="683" cy="484.25" r="2.2" fill="#000"/>
<circle cx="686.25" cy="484.25" r="2.2" fill="#000"/>
<circle cx="684.5" cy="486.75" r="2.2" fill="#000"/>
<circle cx="682.5" cy="482" r="2.2" fill="#000"/>
<circle cx="703.75" cy="449.25" r="2.2" fill="#000"/>
<circle cx="697.5" cy="458.25" r="2.2" fill="#000"/>
<circle cx="706.75" cy="458.25" r="2.2" fill="#000"/>
<circle cx="700.5" cy="467.5" r="2.2" fill="#000"/>
<circle cx="706.75" cy="468.75" r="2.2" fill="#000"/>
<circle cx="703.75" cy="485" r="2.2" fill="#000"/>
<polyline points="647.5,410 647.5,395.5 686.3,395.5 686.3,413.8" fill="none" stroke="#000" stroke-width="1.7" stroke-linejoin="miter"/>
<text font-size="18.5" text-anchor="middle" fill="#000" x="666.8" y="398.5" >*</text>
<polyline points="685,466.3 685,422.5 704.3,422.5 704.3,437.5" fill="none" stroke="#000" stroke-width="1.7" stroke-linejoin="miter"/>
<text font-size="18.5" text-anchor="middle" fill="#000" x="693.3" y="425.7" >*</text>
<rect x="775.8" y="481.3" width="13" height="23" fill="#fff" stroke="#000" stroke-width="1.2"/>
<rect x="794" y="493.7" width="12.6" height="10.6" fill="#4a4a4a" stroke="#000" stroke-width="1.2"/>
<rect x="812" y="426.2" width="12.6" height="78.1" fill="#2820f4" stroke="#000" stroke-width="1.2"/>
<rect x="830" y="460" width="12.6" height="44.3" fill="#cf0000" stroke="#000" stroke-width="1.2"/>
<line x1="782.3" y1="478" x2="782.3" y2="484.3" stroke="#000" stroke-width="1.1" stroke-linecap="butt"/>
<line x1="778.55" y1="478" x2="786.05" y2="478" stroke="#000" stroke-width="1.1" stroke-linecap="butt"/>
<line x1="778.55" y1="484.3" x2="786.05" y2="484.3" stroke="#000" stroke-width="1.1" stroke-linecap="butt"/>
<line x1="800.3" y1="492" x2="800.3" y2="495.4" stroke="#000" stroke-width="1.1" stroke-linecap="butt"/>
<line x1="796.55" y1="492" x2="804.05" y2="492" stroke="#000" stroke-width="1.1" stroke-linecap="butt"/>
<line x1="796.55" y1="495.4" x2="804.05" y2="495.4" stroke="#000" stroke-width="1.1" stroke-linecap="butt"/>
<line x1="818.3" y1="420" x2="818.3" y2="432.5" stroke="#000" stroke-width="1.1" stroke-linecap="butt"/>
<line x1="814.55" y1="420" x2="822.05" y2="420" stroke="#000" stroke-width="1.1" stroke-linecap="butt"/>
<line x1="814.55" y1="432.5" x2="822.05" y2="432.5" stroke="#000" stroke-width="1.1" stroke-linecap="butt"/>
<line x1="836.3" y1="451.7" x2="836.3" y2="468.7" stroke="#000" stroke-width="1.1" stroke-linecap="butt"/>
<line x1="832.55" y1="451.7" x2="840.05" y2="451.7" stroke="#000" stroke-width="1.1" stroke-linecap="butt"/>
<line x1="832.55" y1="468.7" x2="840.05" y2="468.7" stroke="#000" stroke-width="1.1" stroke-linecap="butt"/>
<line x1="773.4" y1="396.9" x2="773.4" y2="505" stroke="#000" stroke-width="1.5" stroke-linecap="butt"/>
<line x1="769.4" y1="504.3" x2="844.8" y2="504.3" stroke="#000" stroke-width="1.5" stroke-linecap="butt"/>
<line x1="769.1" y1="397.5" x2="773.4" y2="397.5" stroke="#000" stroke-width="1.5" stroke-linecap="butt"/>
<text font-size="9" text-anchor="end" fill="#000" font-weight="bold" textLength="9.1" lengthAdjust="spacingAndGlyphs" x="763.9" y="400.75" >50</text>
<line x1="769.1" y1="419" x2="773.4" y2="419" stroke="#000" stroke-width="1.5" stroke-linecap="butt"/>
<text font-size="9" text-anchor="end" fill="#000" font-weight="bold" textLength="9.1" lengthAdjust="spacingAndGlyphs" x="763.9" y="422.25" >40</text>
<line x1="769.1" y1="440.4" x2="773.4" y2="440.4" stroke="#000" stroke-width="1.5" stroke-linecap="butt"/>
<text font-size="9" text-anchor="end" fill="#000" font-weight="bold" textLength="9.1" lengthAdjust="spacingAndGlyphs" x="763.9" y="443.65" >30</text>
<line x1="769.1" y1="461.7" x2="773.4" y2="461.7" stroke="#000" stroke-width="1.5" stroke-linecap="butt"/>
<text font-size="9" text-anchor="end" fill="#000" font-weight="bold" textLength="9.1" lengthAdjust="spacingAndGlyphs" x="763.9" y="464.95" >20</text>
<line x1="769.1" y1="483" x2="773.4" y2="483" stroke="#000" stroke-width="1.5" stroke-linecap="butt"/>
<text font-size="9" text-anchor="end" fill="#000" font-weight="bold" textLength="9.1" lengthAdjust="spacingAndGlyphs" x="763.9" y="486.25" >10</text>
<line x1="769.1" y1="504.3" x2="773.4" y2="504.3" stroke="#000" stroke-width="1.5" stroke-linecap="butt"/>
<text font-size="9" text-anchor="end" fill="#000" font-weight="bold" textLength="4.55" lengthAdjust="spacingAndGlyphs" x="763.9" y="507.55" >0</text>
<text font-size="12.3" text-anchor="middle" fill="#000" textLength="94" lengthAdjust="spacingAndGlyphs" transform="translate(742,452) rotate(-90)" >%IFN-γ<tspan dy="-4" font-size="8.5">+</tspan><tspan dy="4" font-size="1">&#8203;</tspan>/ CD4<tspan dy="-4" font-size="8.5">+</tspan><tspan dy="4" font-size="1">&#8203;</tspan>T</text>
<circle cx="782" cy="470.75" r="2.2" fill="#000"/>
<circle cx="779.5" cy="480" r="2.2" fill="#000"/>
<circle cx="784.5" cy="480" r="2.2" fill="#000"/>
<circle cx="780" cy="483.25" r="2.2" fill="#000"/>
<circle cx="783.25" cy="483.75" r="2.2" fill="#000"/>
<circle cx="782" cy="488.75" r="2.2" fill="#000"/>
<circle cx="800" cy="486.75" r="2.2" fill="#000"/>
<circle cx="797" cy="493.75" r="2.2" fill="#000"/>
<circle cx="800" cy="494.75" r="2.2" fill="#000"/>
<circle cx="803.25" cy="494.5" r="2.2" fill="#000"/>
<circle cx="801.25" cy="496.75" r="2.2" fill="#000"/>
<circle cx="817.75" cy="403.25" r="2.2" fill="#000"/>
<circle cx="814.5" cy="418.75" r="2.2" fill="#000"/>
<circle cx="821.25" cy="418.75" r="2.2" fill="#000"/>
<circle cx="817.75" cy="432.5" r="2.2" fill="#000"/>
<circle cx="817.75" cy="441.25" r="2.2" fill="#000"/>
<circle cx="817.75" cy="448.25" r="2.2" fill="#000"/>
<circle cx="835.75" cy="432" r="2.2" fill="#000"/>
<circle cx="835.75" cy="439.5" r="2.2" fill="#000"/>
<circle cx="832.5" cy="463.75" r="2.2" fill="#000"/>
<circle cx="839" cy="462.5" r="2.2" fill="#000"/>
<circle cx="835.75" cy="468" r="2.2" fill="#000"/>
<circle cx="839" cy="476.25" r="2.2" fill="#000"/>
<circle cx="832.5" cy="481.25" r="2.2" fill="#000"/>
<polyline points="817.5,397.5 817.5,385.8 837,385.8 837,425" fill="none" stroke="#000" stroke-width="1.7" stroke-linejoin="miter"/>
<text font-size="18.5" text-anchor="middle" fill="#000" x="827" y="388.5" >*</text>
<rect x="641.3" y="610.8" width="13" height="18" fill="#fff" stroke="#000" stroke-width="1.2"/>
<rect x="660" y="585" width="13" height="43.8" fill="#4a4a4a" stroke="#000" stroke-width="1.2"/>
<rect x="678.8" y="621.3" width="13" height="7.5" fill="#2820f4" stroke="#000" stroke-width="1.2"/>
<rect x="697.5" y="617.5" width="13" height="11.3" fill="#cf0000" stroke="#000" stroke-width="1.2"/>
<line x1="647.8" y1="603" x2="647.8" y2="618.7" stroke="#000" stroke-width="1.1" stroke-linecap="butt"/>
<line x1="644.05" y1="603" x2="651.55" y2="603" stroke="#000" stroke-width="1.1" stroke-linecap="butt"/>
<line x1="644.05" y1="618.7" x2="651.55" y2="618.7" stroke="#000" stroke-width="1.1" stroke-linecap="butt"/>
<line x1="666.5" y1="580" x2="666.5" y2="590" stroke="#000" stroke-width="1.1" stroke-linecap="butt"/>
<line x1="662.75" y1="580" x2="670.25" y2="580" stroke="#000" stroke-width="1.1" stroke-linecap="butt"/>
<line x1="662.75" y1="590" x2="670.25" y2="590" stroke="#000" stroke-width="1.1" stroke-linecap="butt"/>
<line x1="685.3" y1="619.8" x2="685.3" y2="622.8" stroke="#000" stroke-width="1.1" stroke-linecap="butt"/>
<line x1="681.55" y1="619.8" x2="689.05" y2="619.8" stroke="#000" stroke-width="1.1" stroke-linecap="butt"/>
<line x1="681.55" y1="622.8" x2="689.05" y2="622.8" stroke="#000" stroke-width="1.1" stroke-linecap="butt"/>
<line x1="704" y1="613.8" x2="704" y2="621.2" stroke="#000" stroke-width="1.1" stroke-linecap="butt"/>
<line x1="700.25" y1="613.8" x2="707.75" y2="613.8" stroke="#000" stroke-width="1.1" stroke-linecap="butt"/>
<line x1="700.25" y1="621.2" x2="707.75" y2="621.2" stroke="#000" stroke-width="1.1" stroke-linecap="butt"/>
<line x1="638.5" y1="516.4" x2="638.5" y2="629.5" stroke="#000" stroke-width="1.5" stroke-linecap="butt"/>
<line x1="634.5" y1="628.8" x2="712.8" y2="628.8" stroke="#000" stroke-width="1.5" stroke-linecap="butt"/>
<line x1="634.2" y1="517" x2="638.5" y2="517" stroke="#000" stroke-width="1.5" stroke-linecap="butt"/>
<text font-size="9" text-anchor="end" fill="#000" font-weight="bold" textLength="4.55" lengthAdjust="spacingAndGlyphs" x="629" y="520.25" >5</text>
<line x1="634.2" y1="539.3" x2="638.5" y2="539.3" stroke="#000" stroke-width="1.5" stroke-linecap="butt"/>
<text font-size="9" text-anchor="end" fill="#000" font-weight="bold" textLength="4.55" lengthAdjust="spacingAndGlyphs" x="629" y="542.55" >4</text>
<line x1="634.2" y1="561.6" x2="638.5" y2="561.6" stroke="#000" stroke-width="1.5" stroke-linecap="butt"/>
<text font-size="9" text-anchor="end" fill="#000" font-weight="bold" textLength="4.55" lengthAdjust="spacingAndGlyphs" x="629" y="564.85" >3</text>
<line x1="634.2" y1="584" x2="638.5" y2="584" stroke="#000" stroke-width="1.5" stroke-linecap="butt"/>
<text font-size="9" text-anchor="end" fill="#000" font-weight="bold" textLength="4.55" lengthAdjust="spacingAndGlyphs" x="629" y="587.25" >2</text>
<line x1="634.2" y1="606.3" x2="638.5" y2="606.3" stroke="#000" stroke-width="1.5" stroke-linecap="butt"/>
<text font-size="9" text-anchor="end" fill="#000" font-weight="bold" textLength="4.55" lengthAdjust="spacingAndGlyphs" x="629" y="609.55" >1</text>
<line x1="634.2" y1="628.8" x2="638.5" y2="628.8" stroke="#000" stroke-width="1.5" stroke-linecap="butt"/>
<text font-size="9" text-anchor="end" fill="#000" font-weight="bold" textLength="4.55" lengthAdjust="spacingAndGlyphs" x="629" y="632.05" >0</text>
<text font-size="12.3" text-anchor="middle" fill="#000" textLength="97.5" lengthAdjust="spacingAndGlyphs" transform="translate(609,572.5) rotate(-90)" >%IL-17<tspan dy="-4" font-size="8.5">+</tspan><tspan dy="4" font-size="1">&#8203;</tspan>/ CD8<tspan dy="-4" font-size="8.5">+</tspan><tspan dy="4" font-size="1">&#8203;</tspan>T</text>
<circle cx="647.5" cy="582" r="2.2" fill="#000"/>
<circle cx="647.5" cy="606.25" r="2.2" fill="#000"/>
<circle cx="643.75" cy="617" r="2.2" fill="#000"/>
<circle cx="650.75" cy="619.5" r="2.2" fill="#000"/>
<circle cx="647.5" cy="629.25" r="2.2" fill="#000"/>
<circle cx="663" cy="575" r="2.2" fill="#000"/>
<circle cx="669.25" cy="571.25" r="2.2" fill="#000"/>
<circle cx="669.25" cy="586.25" r="2.2" fill="#000"/>
<circle cx="669.25" cy="593.75" r="2.2" fill="#000"/>
<circle cx="663" cy="599.25" r="2.2" fill="#000"/>
<circle cx="685" cy="615" r="2.2" fill="#000"/>
<circle cx="681.75" cy="619.5" r="2.2" fill="#000"/>
<circle cx="683.75" cy="622.5" r="2.2" fill="#000"/>
<circle cx="687" cy="622.5" r="2.2" fill="#000"/>
<circle cx="685" cy="624" r="2.2" fill="#000"/>
<circle cx="688" cy="620.75" r="2.2" fill="#000"/>
<circle cx="700.75" cy="607.5" r="2.2" fill="#000"/>
<circle cx="706.75" cy="611.75" r="2.2" fill="#000"/>
<circle cx="700.75" cy="617.5" r="2.2" fill="#000"/>
<circle cx="703.75" cy="622.5" r="2.2" fill="#000"/>
<circle cx="706.75" cy="621.25" r="2.2" fill="#000"/>
<circle cx="702.5" cy="624.25" r="2.2" fill="#000"/>
<rect x="775.8" y="613.5" width="12.9" height="16.5" fill="#fff" stroke="#000" stroke-width="1.2"/>
<rect x="794.5" y="617.3" width="12.5" height="12.7" fill="#4a4a4a" stroke="#000" stroke-width="1.2"/>
<rect x="812.4" y="569.5" width="12.8" height="60.5" fill="#2820f4" stroke="#000" stroke-width="1.2"/>
<rect x="830.6" y="587.7" width="12.8" height="42.3" fill="#cf0000" stroke="#000" stroke-width="1.2"/>
<line x1="782.25" y1="610.6" x2="782.25" y2="617" stroke="#000" stroke-width="1.1" stroke-linecap="butt"/>
<line x1="778.5" y1="610.6" x2="786" y2="610.6" stroke="#000" stroke-width="1.1" stroke-linecap="butt"/>
<line x1="778.5" y1="617" x2="786" y2="617" stroke="#000" stroke-width="1.1" stroke-linecap="butt"/>
<line x1="800.75" y1="615.5" x2="800.75" y2="619.2" stroke="#000" stroke-width="1.1" stroke-linecap="butt"/>
<line x1="797" y1="615.5" x2="804.5" y2="615.5" stroke="#000" stroke-width="1.1" stroke-linecap="butt"/>
<line x1="797" y1="619.2" x2="804.5" y2="619.2" stroke="#000" stroke-width="1.1" stroke-linecap="butt"/>
<line x1="818.8" y1="563" x2="818.8" y2="576" stroke="#000" stroke-width="1.1" stroke-linecap="butt"/>
<line x1="815.05" y1="563" x2="822.55" y2="563" stroke="#000" stroke-width="1.1" stroke-linecap="butt"/>
<line x1="815.05" y1="576" x2="822.55" y2="576" stroke="#000" stroke-width="1.1" stroke-linecap="butt"/>
<line x1="837" y1="580.5" x2="837" y2="595" stroke="#000" stroke-width="1.1" stroke-linecap="butt"/>
<line x1="833.25" y1="580.5" x2="840.75" y2="580.5" stroke="#000" stroke-width="1.1" stroke-linecap="butt"/>
<line x1="833.25" y1="595" x2="840.75" y2="595" stroke="#000" stroke-width="1.1" stroke-linecap="butt"/>
<line x1="773.4" y1="520" x2="773.4" y2="630.7" stroke="#000" stroke-width="1.5" stroke-linecap="butt"/>
<line x1="769.4" y1="630" x2="846" y2="630" stroke="#000" stroke-width="1.5" stroke-linecap="butt"/>
<line x1="769.1" y1="520.6" x2="773.4" y2="520.6" stroke="#000" stroke-width="1.5" stroke-linecap="butt"/>
<text font-size="9" text-anchor="end" fill="#000" font-weight="bold" textLength="9.1" lengthAdjust="spacingAndGlyphs" x="763.9" y="523.85" >80</text>
<line x1="769.1" y1="548.3" x2="773.4" y2="548.3" stroke="#000" stroke-width="1.5" stroke-linecap="butt"/>
<text font-size="9" text-anchor="end" fill="#000" font-weight="bold" textLength="9.1" lengthAdjust="spacingAndGlyphs" x="763.9" y="551.55" >60</text>
<line x1="769.1" y1="575.6" x2="773.4" y2="575.6" stroke="#000" stroke-width="1.5" stroke-linecap="butt"/>
<text font-size="9" text-anchor="end" fill="#000" font-weight="bold" textLength="9.1" lengthAdjust="spacingAndGlyphs" x="763.9" y="578.85" >40</text>
<line x1="769.1" y1="602.9" x2="773.4" y2="602.9" stroke="#000" stroke-width="1.5" stroke-linecap="butt"/>
<text font-size="9" text-anchor="end" fill="#000" font-weight="bold" textLength="9.1" lengthAdjust="spacingAndGlyphs" x="763.9" y="606.15" >20</text>
<line x1="769.1" y1="630" x2="773.4" y2="630" stroke="#000" stroke-width="1.5" stroke-linecap="butt"/>
<text font-size="9" text-anchor="end" fill="#000" font-weight="bold" textLength="4.55" lengthAdjust="spacingAndGlyphs" x="763.9" y="633.25" >0</text>
<text font-size="12.3" text-anchor="middle" fill="#000" textLength="95" lengthAdjust="spacingAndGlyphs" transform="translate(741.3,576) rotate(-90)" >%IFN-γ<tspan dy="-4" font-size="8.5">+</tspan><tspan dy="4" font-size="1">&#8203;</tspan>/ CD8<tspan dy="-4" font-size="8.5">+</tspan><tspan dy="4" font-size="1">&#8203;</tspan>T</text>
<circle cx="782.31" cy="605.62" r="2.2" fill="#000"/>
<circle cx="779.27" cy="608.66" r="2.2" fill="#000"/>
<circle cx="785.35" cy="613.22" r="2.2" fill="#000"/>
<circle cx="779.27" cy="621.58" r="2.2" fill="#000"/>
<circle cx="785.35" cy="620.82" r="2.2" fill="#000"/>
<circle cx="800.55" cy="607.9" r="2.2" fill="#000"/>
<circle cx="797.51" cy="620.06" r="2.2" fill="#000"/>
<circle cx="799.79" cy="621.58" r="2.2" fill="#000"/>
<circle cx="802.83" cy="620.06" r="2.2" fill="#000"/>
<circle cx="804.35" cy="618.54" r="2.2" fill="#000"/>
<circle cx="818.78" cy="549.39" r="2.2" fill="#000"/>
<circle cx="812.71" cy="564.59" r="2.2" fill="#000"/>
<circle cx="821.82" cy="562.31" r="2.2" fill="#000"/>
<circle cx="815.74" cy="569.15" r="2.2" fill="#000"/>
<circle cx="821.82" cy="575.23" r="2.2" fill="#000"/>
<circle cx="818.78" cy="594.98" r="2.2" fill="#000"/>
<circle cx="837.02" cy="559.27" r="2.2" fill="#000"/>
<circle cx="837.02" cy="574.47" r="2.2" fill="#000"/>
<circle cx="833.98" cy="592.71" r="2.2" fill="#000"/>
<circle cx="843.1" cy="595.74" r="2.2" fill="#000"/>
<circle cx="833.98" cy="604.1" r="2.2" fill="#000"/>
<circle cx="840.82" cy="600.3" r="2.2" fill="#000"/>
<rect x="76.3" y="729.5" width="29.2" height="12" fill="#fff" stroke="#000" stroke-width="1.3"/>
<rect x="119" y="723" width="29.3" height="18.5" fill="#4a4a4a" stroke="#000" stroke-width="1.3"/>
<rect x="161.9" y="672.5" width="29.7" height="69" fill="#2820f4" stroke="#000" stroke-width="1.3"/>
<rect x="205" y="683.7" width="29.5" height="57.8" fill="#cf0000" stroke="#000" stroke-width="1.3"/>
<line x1="90.9" y1="726.2" x2="90.9" y2="732.6" stroke="#000" stroke-width="1.1" stroke-linecap="butt"/>
<line x1="83.4" y1="726.2" x2="98.4" y2="726.2" stroke="#000" stroke-width="1.1" stroke-linecap="butt"/>
<line x1="83.4" y1="732.6" x2="98.4" y2="732.6" stroke="#000" stroke-width="1.1" stroke-linecap="butt"/>
<line x1="133.65" y1="721" x2="133.65" y2="725" stroke="#000" stroke-width="1.1" stroke-linecap="butt"/>
<line x1="126.15" y1="721" x2="141.15" y2="721" stroke="#000" stroke-width="1.1" stroke-linecap="butt"/>
<line x1="126.15" y1="725" x2="141.15" y2="725" stroke="#000" stroke-width="1.1" stroke-linecap="butt"/>
<line x1="176.75" y1="666.7" x2="176.75" y2="678.3" stroke="#000" stroke-width="1.1" stroke-linecap="butt"/>
<line x1="169.25" y1="666.7" x2="184.25" y2="666.7" stroke="#000" stroke-width="1.1" stroke-linecap="butt"/>
<line x1="169.25" y1="678.3" x2="184.25" y2="678.3" stroke="#000" stroke-width="1.1" stroke-linecap="butt"/>
<line x1="219.75" y1="676.2" x2="219.75" y2="691.7" stroke="#000" stroke-width="1.1" stroke-linecap="butt"/>
<line x1="212.25" y1="676.2" x2="227.25" y2="676.2" stroke="#000" stroke-width="1.1" stroke-linecap="butt"/>
<line x1="212.25" y1="691.7" x2="227.25" y2="691.7" stroke="#000" stroke-width="1.1" stroke-linecap="butt"/>
<line x1="69.5" y1="626.3" x2="69.5" y2="648.7" stroke="#000" stroke-width="1.5" stroke-linecap="butt"/>
<line x1="65.5" y1="648" x2="73.5" y2="648" stroke="#000" stroke-width="1.5" stroke-linecap="butt"/>
<line x1="69.5" y1="658" x2="69.5" y2="742.2" stroke="#000" stroke-width="1.5" stroke-linecap="butt"/>
<line x1="65.5" y1="658" x2="73.5" y2="658" stroke="#000" stroke-width="1.5" stroke-linecap="butt"/>
<line x1="65.3" y1="741.5" x2="241.3" y2="741.5" stroke="#000" stroke-width="1.5" stroke-linecap="butt"/>
<line x1="65.3" y1="627.4" x2="69.5" y2="627.4" stroke="#000" stroke-width="1.5" stroke-linecap="butt"/>
<text font-size="8.9" text-anchor="end" fill="#000" x="59.3" y="630.5" >500</text>
<line x1="65.3" y1="635.8" x2="69.5" y2="635.8" stroke="#000" stroke-width="1.5" stroke-linecap="butt"/>
<text font-size="8.9" text-anchor="end" fill="#000" x="59.3" y="638.9" >400</text>
<line x1="65.3" y1="644.2" x2="69.5" y2="644.2" stroke="#000" stroke-width="1.5" stroke-linecap="butt"/>
<text font-size="8.9" text-anchor="end" fill="#000" x="59.3" y="647.3" >300</text>
<line x1="65.3" y1="674.8" x2="69.5" y2="674.8" stroke="#000" stroke-width="1.5" stroke-linecap="butt"/>
<text font-size="8.9" text-anchor="end" fill="#000" x="59.3" y="677.9" >200</text>
<line x1="65.3" y1="708.2" x2="69.5" y2="708.2" stroke="#000" stroke-width="1.5" stroke-linecap="butt"/>
<text font-size="8.9" text-anchor="end" fill="#000" x="59.3" y="711.3" >100</text>
<line x1="65.3" y1="741.5" x2="69.5" y2="741.5" stroke="#000" stroke-width="1.5" stroke-linecap="butt"/>
<text font-size="8.9" text-anchor="end" fill="#000" x="59.3" y="744.6" >0</text>
<line x1="90.8" y1="741.5" x2="90.8" y2="745.3" stroke="#000" stroke-width="1.5" stroke-linecap="butt"/>
<line x1="133.7" y1="741.5" x2="133.7" y2="745.3" stroke="#000" stroke-width="1.5" stroke-linecap="butt"/>
<line x1="176.6" y1="741.5" x2="176.6" y2="745.3" stroke="#000" stroke-width="1.5" stroke-linecap="butt"/>
<line x1="219.6" y1="741.5" x2="219.6" y2="745.3" stroke="#000" stroke-width="1.5" stroke-linecap="butt"/>
<text font-size="14.6" text-anchor="middle" fill="#000" textLength="115.5" lengthAdjust="spacingAndGlyphs" transform="translate(30.8,683.5) rotate(-90)" >Lung IgG (ng ml<tspan dy="-5" font-size="9.5">−1</tspan><tspan dy="5" font-size="1">&#8203;</tspan>)</text>
<polyline points="92.5,702.8 92.5,694.5 135,694.5 135,702.8" fill="none" stroke="#000" stroke-width="1.75" stroke-linejoin="miter"/>
<text font-size="20.5" text-anchor="middle" fill="#000" x="114.5" y="698.4" >*</text>
<circle cx="83.75" cy="713" r="2.35" fill="#000"/>
<circle cx="90.5" cy="715.5" r="2.35" fill="#000"/>
<circle cx="97.5" cy="715" r="2.35" fill="#000"/>
<circle cx="83.75" cy="726.25" r="2.35" fill="#000"/>
<circle cx="90.5" cy="725.75" r="2.35" fill="#000"/>
<circle cx="97.5" cy="724.25" r="2.35" fill="#000"/>
<circle cx="79.5" cy="733.75" r="2.35" fill="#000"/>
<circle cx="86.25" cy="730.25" r="2.35" fill="#000"/>
<circle cx="93.75" cy="732.5" r="2.35" fill="#000"/>
<circle cx="101.25" cy="736.25" r="2.35" fill="#000"/>
<circle cx="83" cy="737.5" r="2.35" fill="#000"/>
<circle cx="90.5" cy="739.5" r="2.35" fill="#000"/>
<circle cx="97.5" cy="738.75" r="2.35" fill="#000"/>
<circle cx="87.5" cy="735.75" r="2.35" fill="#000"/>
<circle cx="137" cy="710" r="2.35" fill="#000"/>
<circle cx="130" cy="714.25" r="2.35" fill="#000"/>
<circle cx="121.25" cy="722.5" r="2.35" fill="#000"/>
<circle cx="125" cy="723.75" r="2.35" fill="#000"/>
<circle cx="130" cy="724.25" r="2.35" fill="#000"/>
<circle cx="135" cy="724.25" r="2.35" fill="#000"/>
<circle cx="140" cy="722.5" r="2.35" fill="#000"/>
<circle cx="145" cy="723" r="2.35" fill="#000"/>
<circle cx="125" cy="727.5" r="2.35" fill="#000"/>
<circle cx="130" cy="728" r="2.35" fill="#000"/>
<circle cx="137" cy="727.5" r="2.35" fill="#000"/>
<circle cx="143.75" cy="726.25" r="2.35" fill="#000"/>
<circle cx="133.75" cy="732.5" r="2.35" fill="#000"/>
<circle cx="173" cy="637" r="2.35" fill="#000"/>
<circle cx="180" cy="638.25" r="2.35" fill="#000"/>
<circle cx="166.25" cy="646.75" r="2.35" fill="#000"/>
<circle cx="173" cy="648" r="2.35" fill="#000"/>
<circle cx="180" cy="646.75" r="2.35" fill="#000"/>
<circle cx="187" cy="646.25" r="2.35" fill="#000"/>
<circle cx="173" cy="668" r="2.35" fill="#000"/>
<circle cx="180" cy="672" r="2.35" fill="#000"/>
<circle cx="166.25" cy="680" r="2.35" fill="#000"/>
<circle cx="171.25" cy="680.75" r="2.35" fill="#000"/>
<circle cx="177.5" cy="686.25" r="2.35" fill="#000"/>
<circle cx="182.5" cy="686.25" r="2.35" fill="#000"/>
<circle cx="188" cy="681.75" r="2.35" fill="#000"/>
<circle cx="166.25" cy="691.25" r="2.35" fill="#000"/>
<circle cx="170" cy="695.75" r="2.35" fill="#000"/>
<circle cx="176.25" cy="694.5" r="2.35" fill="#000"/>
<circle cx="183.75" cy="696.25" r="2.35" fill="#000"/>
<circle cx="176.25" cy="702.5" r="2.35" fill="#000"/>
<circle cx="183" cy="689.5" r="2.35" fill="#000"/>
<circle cx="209.5" cy="642" r="2.35" fill="#000"/>
<circle cx="216.25" cy="645.75" r="2.35" fill="#000"/>
<circle cx="223" cy="643.25" r="2.35" fill="#000"/>
<circle cx="230" cy="640.75" r="2.35" fill="#000"/>
<circle cx="219.5" cy="661.25" r="2.35" fill="#000"/>
<circle cx="216.25" cy="670" r="2.35" fill="#000"/>
<circle cx="223" cy="667.5" r="2.35" fill="#000"/>
<circle cx="219.5" cy="683.75" r="2.35" fill="#000"/>
<circle cx="215" cy="690" r="2.35" fill="#000"/>
<circle cx="223.75" cy="690" r="2.35" fill="#000"/>
<circle cx="219.5" cy="699.5" r="2.35" fill="#000"/>
<circle cx="212.5" cy="706.75" r="2.35" fill="#000"/>
<circle cx="219.5" cy="708.75" r="2.35" fill="#000"/>
<circle cx="226.25" cy="707.5" r="2.35" fill="#000"/>
<circle cx="212.5" cy="718.75" r="2.35" fill="#000"/>
<circle cx="219.5" cy="716.25" r="2.35" fill="#000"/>
<circle cx="226.25" cy="719.25" r="2.35" fill="#000"/>
<circle cx="219.5" cy="724.25" r="2.35" fill="#000"/>
<rect x="250.6" y="671.3" width="9.4" height="8.2" fill="#fff" stroke="#000" stroke-width="1.3"/>
<text font-size="13" text-anchor="start" fill="#000" x="266.2" y="679.3" >Air</text>
<rect x="250.6" y="685.8" width="9.4" height="8" fill="#000" stroke="#000" stroke-width="1.3"/>
<text font-size="13" text-anchor="start" fill="#000" x="266.2" y="693.3" >Smk</text>
<rect x="250.6" y="699.5" width="9.4" height="8" fill="#2820f4" stroke="#000" stroke-width="1.3"/>
<text font-size="13" text-anchor="start" fill="#000" x="266.2" y="707.5" >Air / Flu</text>
<rect x="250.6" y="713.3" width="9.4" height="8.4" fill="#cf0000" stroke="#000" stroke-width="1.3"/>
<text font-size="13" text-anchor="start" fill="#000" x="266.2" y="721.8" >Smk / Flu</text>
<rect x="76.3" y="893.3" width="30.2" height="1.2" fill="#fff" stroke="#000" stroke-width="1.3"/>
<rect x="120.7" y="886.2" width="31" height="8.3" fill="#4a4a4a" stroke="#000" stroke-width="1.3"/>
<rect x="165" y="848" width="30.7" height="46.5" fill="#2820f4" stroke="#000" stroke-width="1.3"/>
<rect x="209.6" y="844.5" width="30.4" height="50" fill="#cf0000" stroke="#000" stroke-width="1.3"/>
<line x1="91.4" y1="892.4" x2="91.4" y2="894.2" stroke="#000" stroke-width="1.1" stroke-linecap="butt"/>
<line x1="83.65" y1="892.4" x2="99.15" y2="892.4" stroke="#000" stroke-width="1.1" stroke-linecap="butt"/>
<line x1="83.65" y1="894.2" x2="99.15" y2="894.2" stroke="#000" stroke-width="1.1" stroke-linecap="butt"/>
<line x1="136.2" y1="884.7" x2="136.2" y2="887.7" stroke="#000" stroke-width="1.1" stroke-linecap="butt"/>
<line x1="128.45" y1="884.7" x2="143.95" y2="884.7" stroke="#000" stroke-width="1.1" stroke-linecap="butt"/>
<line x1="128.45" y1="887.7" x2="143.95" y2="887.7" stroke="#000" stroke-width="1.1" stroke-linecap="butt"/>
<line x1="180.35" y1="841.3" x2="180.35" y2="854.7" stroke="#000" stroke-width="1.1" stroke-linecap="butt"/>
<line x1="172.6" y1="841.3" x2="188.1" y2="841.3" stroke="#000" stroke-width="1.1" stroke-linecap="butt"/>
<line x1="172.6" y1="854.7" x2="188.1" y2="854.7" stroke="#000" stroke-width="1.1" stroke-linecap="butt"/>
<line x1="224.8" y1="837.5" x2="224.8" y2="851.7" stroke="#000" stroke-width="1.1" stroke-linecap="butt"/>
<line x1="217.05" y1="837.5" x2="232.55" y2="837.5" stroke="#000" stroke-width="1.1" stroke-linecap="butt"/>
<line x1="217.05" y1="851.7" x2="232.55" y2="851.7" stroke="#000" stroke-width="1.1" stroke-linecap="butt"/>
<line x1="69.5" y1="775.6" x2="69.5" y2="798.2" stroke="#000" stroke-width="1.5" stroke-linecap="butt"/>
<line x1="65.5" y1="797.5" x2="73.5" y2="797.5" stroke="#000" stroke-width="1.5" stroke-linecap="butt"/>
<line x1="69.5" y1="808.3" x2="69.5" y2="895.2" stroke="#000" stroke-width="1.5" stroke-linecap="butt"/>
<line x1="65.5" y1="808.3" x2="73.5" y2="808.3" stroke="#000" stroke-width="1.5" stroke-linecap="butt"/>
<line x1="65.3" y1="894.5" x2="246.8" y2="894.5" stroke="#000" stroke-width="1.5" stroke-linecap="butt"/>
<line x1="65.3" y1="776.5" x2="69.5" y2="776.5" stroke="#000" stroke-width="1.5" stroke-linecap="butt"/>
<text font-size="8.9" text-anchor="end" fill="#000" x="59.3" y="779.6" >60</text>
<line x1="65.3" y1="790.8" x2="69.5" y2="790.8" stroke="#000" stroke-width="1.5" stroke-linecap="butt"/>
<text font-size="8.9" text-anchor="end" fill="#000" x="59.3" y="793.9" >40</text>
<line x1="65.3" y1="837" x2="69.5" y2="837" stroke="#000" stroke-width="1.5" stroke-linecap="butt"/>
<text font-size="8.9" text-anchor="end" fill="#000" x="59.3" y="840.1" >20</text>
<line x1="65.3" y1="894.5" x2="69.5" y2="894.5" stroke="#000" stroke-width="1.5" stroke-linecap="butt"/>
<text font-size="8.9" text-anchor="end" fill="#000" x="59.3" y="897.6" >0</text>
<line x1="91.3" y1="894.5" x2="91.3" y2="898.3" stroke="#000" stroke-width="1.5" stroke-linecap="butt"/>
<line x1="135.8" y1="894.5" x2="135.8" y2="898.3" stroke="#000" stroke-width="1.5" stroke-linecap="butt"/>
<line x1="180.2" y1="894.5" x2="180.2" y2="898.3" stroke="#000" stroke-width="1.5" stroke-linecap="butt"/>
<line x1="224.6" y1="894.5" x2="224.6" y2="898.3" stroke="#000" stroke-width="1.5" stroke-linecap="butt"/>
<text font-size="14.6" text-anchor="middle" fill="#000" textLength="116.5" lengthAdjust="spacingAndGlyphs" transform="translate(35.1,834.5) rotate(-90)" >Lung IgA (ng ml<tspan dy="-5" font-size="9.5">−1</tspan><tspan dy="5" font-size="1">&#8203;</tspan>)</text>
<polyline points="93.3,872 93.3,863.8 137.5,863.8 137.5,872" fill="none" stroke="#000" stroke-width="1.75" stroke-linejoin="miter"/>
<text font-size="21" text-anchor="middle" fill="#000" x="115" y="866.6" >***</text>
<circle cx="91.75" cy="884.25" r="2.35" fill="#000"/>
<circle cx="95" cy="888.75" r="2.35" fill="#000"/>
<circle cx="87.5" cy="892.5" r="2.35" fill="#000"/>
<circle cx="80" cy="893.75" r="2.35" fill="#000"/>
<circle cx="83.75" cy="894.25" r="2.35" fill="#000"/>
<circle cx="91.25" cy="894.25" r="2.35" fill="#000"/>
<circle cx="98.75" cy="893.75" r="2.35" fill="#000"/>
<circle cx="103.75" cy="893.25" r="2.35" fill="#000"/>
<circle cx="95" cy="895" r="2.35" fill="#000"/>
<circle cx="101.25" cy="894.5" r="2.35" fill="#000"/>
<circle cx="135.75" cy="878.25" r="2.35" fill="#000"/>
<circle cx="125" cy="883.25" r="2.35" fill="#000"/>
<circle cx="130" cy="885" r="2.35" fill="#000"/>
<circle cx="135" cy="886.25" r="2.35" fill="#000"/>
<circle cx="140" cy="885.75" r="2.35" fill="#000"/>
<circle cx="143.75" cy="883.75" r="2.35" fill="#000"/>
<circle cx="147.5" cy="883.25" r="2.35" fill="#000"/>
<circle cx="125" cy="887.5" r="2.35" fill="#000"/>
<circle cx="130" cy="888.75" r="2.35" fill="#000"/>
<circle cx="141.25" cy="892.5" r="2.35" fill="#000"/>
<circle cx="135.75" cy="894.5" r="2.35" fill="#000"/>
<circle cx="146.25" cy="887.5" r="2.35" fill="#000"/>
<circle cx="173" cy="795" r="2.35" fill="#000"/>
<circle cx="180" cy="798" r="2.35" fill="#000"/>
<circle cx="187.5" cy="796.25" r="2.35" fill="#000"/>
<circle cx="176.75" cy="814.25" r="2.35" fill="#000"/>
<circle cx="183.75" cy="818.25" r="2.35" fill="#000"/>
<circle cx="180" cy="830" r="2.35" fill="#000"/>
<circle cx="180" cy="842" r="2.35" fill="#000"/>
<circle cx="170" cy="851.25" r="2.35" fill="#000"/>
<circle cx="180" cy="850" r="2.35" fill="#000"/>
<circle cx="176.75" cy="856.25" r="2.35" fill="#000"/>
<circle cx="187" cy="858" r="2.35" fill="#000"/>
<circle cx="183.75" cy="864.25" r="2.35" fill="#000"/>
<circle cx="176.75" cy="867.5" r="2.35" fill="#000"/>
<circle cx="173" cy="878.25" r="2.35" fill="#000"/>
<circle cx="187.5" cy="875.75" r="2.35" fill="#000"/>
<circle cx="180" cy="880" r="2.35" fill="#000"/>
<circle cx="176.75" cy="888.25" r="2.35" fill="#000"/>
<circle cx="183.75" cy="885.75" r="2.35" fill="#000"/>
<circle cx="224.5" cy="782.5" r="2.35" fill="#000"/>
<circle cx="221.25" cy="816.75" r="2.35" fill="#000"/>
<circle cx="228" cy="815.75" r="2.35" fill="#000"/>
<circle cx="224.5" cy="825.75" r="2.35" fill="#000"/>
<circle cx="224.5" cy="833" r="2.35" fill="#000"/>
<circle cx="213.75" cy="843" r="2.35" fill="#000"/>
<circle cx="221.25" cy="844.5" r="2.35" fill="#000"/>
<circle cx="231.75" cy="843.75" r="2.35" fill="#000"/>
<circle cx="228" cy="850" r="2.35" fill="#000"/>
<circle cx="231.25" cy="848.75" r="2.35" fill="#000"/>
<circle cx="221.25" cy="856.25" r="2.35" fill="#000"/>
<circle cx="231.75" cy="859.25" r="2.35" fill="#000"/>
<circle cx="217.5" cy="861.75" r="2.35" fill="#000"/>
<circle cx="224.5" cy="864.25" r="2.35" fill="#000"/>
<circle cx="213.75" cy="871.25" r="2.35" fill="#000"/>
<circle cx="235" cy="869.5" r="2.35" fill="#000"/>
<circle cx="221.25" cy="876.25" r="2.35" fill="#000"/>
<circle cx="228" cy="875.75" r="2.35" fill="#000"/>
<line x1="91.3" y1="907.5" x2="225.8" y2="907.5" stroke="#000" stroke-width="1.8" stroke-linecap="butt"/>
<text font-size="13.5" text-anchor="middle" fill="#000" textLength="28.8" lengthAdjust="spacingAndGlyphs" x="158.2" y="925" >Total</text>
<rect x="425.8" y="689.5" width="24.2" height="54.8" fill="#2820f4" stroke="#000" stroke-width="1.3"/>
<rect x="461.8" y="703.3" width="24" height="41" fill="#cf0000" stroke="#000" stroke-width="1.3"/>
<line x1="437.9" y1="685.5" x2="437.9" y2="693.7" stroke="#000" stroke-width="1.1" stroke-linecap="butt"/>
<line x1="432.15" y1="685.5" x2="443.65" y2="685.5" stroke="#000" stroke-width="1.1" stroke-linecap="butt"/>
<line x1="432.15" y1="693.7" x2="443.65" y2="693.7" stroke="#000" stroke-width="1.1" stroke-linecap="butt"/>
<line x1="473.8" y1="698.2" x2="473.8" y2="708.7" stroke="#000" stroke-width="1.1" stroke-linecap="butt"/>
<line x1="468.05" y1="698.2" x2="479.55" y2="698.2" stroke="#000" stroke-width="1.1" stroke-linecap="butt"/>
<line x1="468.05" y1="708.7" x2="479.55" y2="708.7" stroke="#000" stroke-width="1.1" stroke-linecap="butt"/>
<line x1="420" y1="635.5" x2="420" y2="745" stroke="#000" stroke-width="1.5" stroke-linecap="butt"/>
<line x1="415.7" y1="744.3" x2="491.8" y2="744.3" stroke="#000" stroke-width="1.5" stroke-linecap="butt"/>
<line x1="415.7" y1="636.3" x2="420" y2="636.3" stroke="#000" stroke-width="1.5" stroke-linecap="butt"/>
<text font-size="10.2" text-anchor="end" fill="#000" x="410.8" y="639.8" >800</text>
<line x1="415.7" y1="663.3" x2="420" y2="663.3" stroke="#000" stroke-width="1.5" stroke-linecap="butt"/>
<text font-size="10.2" text-anchor="end" fill="#000" x="410.8" y="666.8" >600</text>
<line x1="415.7" y1="690.3" x2="420" y2="690.3" stroke="#000" stroke-width="1.5" stroke-linecap="butt"/>
<text font-size="10.2" text-anchor="end" fill="#000" x="410.8" y="693.8" >400</text>
<line x1="415.7" y1="717.3" x2="420" y2="717.3" stroke="#000" stroke-width="1.5" stroke-linecap="butt"/>
<text font-size="10.2" text-anchor="end" fill="#000" x="410.8" y="720.8" >200</text>
<line x1="415.7" y1="744.3" x2="420" y2="744.3" stroke="#000" stroke-width="1.5" stroke-linecap="butt"/>
<text font-size="10.2" text-anchor="end" fill="#000" x="410.8" y="747.8" >0</text>
<line x1="438" y1="744.3" x2="438" y2="748.2" stroke="#000" stroke-width="1.5" stroke-linecap="butt"/>
<line x1="473.8" y1="744.3" x2="473.8" y2="748.2" stroke="#000" stroke-width="1.5" stroke-linecap="butt"/>
<text font-size="13" text-anchor="middle" fill="#000" textLength="68.8" lengthAdjust="spacingAndGlyphs" transform="translate(363.3,690.6) rotate(-90)" >Anti-HA IgG</text>
<text font-size="13" text-anchor="middle" fill="#000" textLength="76.3" lengthAdjust="spacingAndGlyphs" transform="translate(378.8,690.6) rotate(-90)" >(relative titer)</text>
<polyline points="438.3,635.8 438.3,628.3 474.3,628.3 474.3,641.3" fill="none" stroke="#000" stroke-width="1.75" stroke-linejoin="miter"/>
<text font-size="18.5" text-anchor="middle" fill="#000" x="456.8" y="630.7" >*</text>
<circle cx="435" cy="647.5" r="2.35" fill="#000"/>
<circle cx="441.25" cy="646.75" r="2.35" fill="#000"/>
<circle cx="438" cy="655.5" r="2.35" fill="#000"/>
<circle cx="429.25" cy="682.5" r="2.35" fill="#000"/>
<circle cx="438" cy="681.25" r="2.35" fill="#000"/>
<circle cx="433.75" cy="686.75" r="2.35" fill="#000"/>
<circle cx="441.75" cy="686.75" r="2.35" fill="#000"/>
<circle cx="447" cy="687.5" r="2.35" fill="#000"/>
<circle cx="429.25" cy="691.25" r="2.35" fill="#000"/>
<circle cx="436.25" cy="693" r="2.35" fill="#000"/>
<circle cx="442.5" cy="692.5" r="2.35" fill="#000"/>
<circle cx="433" cy="696.25" r="2.35" fill="#000"/>
<circle cx="440" cy="697.5" r="2.35" fill="#000"/>
<circle cx="447" cy="696.25" r="2.35" fill="#000"/>
<circle cx="429.25" cy="701.25" r="2.35" fill="#000"/>
<circle cx="436.25" cy="702.5" r="2.35" fill="#000"/>
<circle cx="443.75" cy="701.75" r="2.35" fill="#000"/>
<circle cx="433.75" cy="707.5" r="2.35" fill="#000"/>
<circle cx="440" cy="708.75" r="2.35" fill="#000"/>
<circle cx="441.25" cy="713.75" r="2.35" fill="#000"/>
<circle cx="435" cy="716.25" r="2.35" fill="#000"/>
<circle cx="473.75" cy="653.25" r="2.35" fill="#000"/>
<circle cx="473.75" cy="663.25" r="2.35" fill="#000"/>
<circle cx="473.75" cy="679.25" r="2.35" fill="#000"/>
<circle cx="467.5" cy="687.5" r="2.35" fill="#000"/>
<circle cx="476.25" cy="691.25" r="2.35" fill="#000"/>
<circle cx="483.25" cy="689.25" r="2.35" fill="#000"/>
<circle cx="480" cy="694.5" r="2.35" fill="#000"/>
<circle cx="473.75" cy="699.5" r="2.35" fill="#000"/>
<circle cx="467.5" cy="708.75" r="2.35" fill="#000"/>
<circle cx="473.75" cy="710" r="2.35" fill="#000"/>
<circle cx="480" cy="709.25" r="2.35" fill="#000"/>
<circle cx="470.75" cy="721.75" r="2.35" fill="#000"/>
<circle cx="477" cy="723.75" r="2.35" fill="#000"/>
<circle cx="464.25" cy="733.75" r="2.35" fill="#000"/>
<circle cx="470.75" cy="735" r="2.35" fill="#000"/>
<circle cx="476.25" cy="734.25" r="2.35" fill="#000"/>
<circle cx="482.5" cy="732.5" r="2.35" fill="#000"/>
<circle cx="473.75" cy="730" r="2.35" fill="#000"/>
<rect x="505.2" y="685" width="13" height="12.5" fill="#2820f4" stroke="#000" stroke-width="1.3"/>
<text font-size="13" text-anchor="start" fill="#000" x="524.2" y="695.8" >Air / Flu</text>
<rect x="505.2" y="703" width="13" height="12.5" fill="#cf0000" stroke="#000" stroke-width="1.3"/>
<text font-size="13" text-anchor="start" fill="#000" x="524.2" y="713.8" >Smk / Flu</text>
<rect x="425.8" y="851.7" width="24.2" height="42.6" fill="#2820f4" stroke="#000" stroke-width="1.3"/>
<rect x="461.8" y="886.2" width="24" height="8.1" fill="#cf0000" stroke="#000" stroke-width="1.3"/>
<line x1="437.9" y1="825.5" x2="437.9" y2="851.7" stroke="#000" stroke-width="1.1" stroke-linecap="butt"/>
<line x1="431.4" y1="825.5" x2="444.4" y2="825.5" stroke="#000" stroke-width="1.1" stroke-linecap="butt"/>
<line x1="473.8" y1="884.3" x2="473.8" y2="886.2" stroke="#000" stroke-width="1.1" stroke-linecap="butt"/>
<line x1="467.3" y1="884.3" x2="480.3" y2="884.3" stroke="#000" stroke-width="1.1" stroke-linecap="butt"/>
<line x1="420" y1="786.8" x2="420" y2="807.7" stroke="#000" stroke-width="1.5" stroke-linecap="butt"/>
<line x1="416" y1="807" x2="424" y2="807" stroke="#000" stroke-width="1.5" stroke-linecap="butt"/>
<line x1="420" y1="816.3" x2="420" y2="895" stroke="#000" stroke-width="1.5" stroke-linecap="butt"/>
<line x1="416" y1="816.3" x2="424" y2="816.3" stroke="#000" stroke-width="1.5" stroke-linecap="butt"/>
<line x1="415.7" y1="894.3" x2="491.8" y2="894.3" stroke="#000" stroke-width="1.5" stroke-linecap="butt"/>
<line x1="415.7" y1="787.6" x2="420" y2="787.6" stroke="#000" stroke-width="1.5" stroke-linecap="butt"/>
<text font-size="10" text-anchor="end" fill="#000" x="410.8" y="791" >25,000</text>
<line x1="415.7" y1="795.7" x2="420" y2="795.7" stroke="#000" stroke-width="1.5" stroke-linecap="butt"/>
<text font-size="10" text-anchor="end" fill="#000" x="410.8" y="799.1" >20,000</text>
<line x1="415.7" y1="803.3" x2="420" y2="803.3" stroke="#000" stroke-width="1.5" stroke-linecap="butt"/>
<text font-size="10" text-anchor="end" fill="#000" x="410.8" y="806.7" >15,000</text>
<line x1="415.7" y1="816.3" x2="420" y2="816.3" stroke="#000" stroke-width="1.5" stroke-linecap="butt"/>
<text font-size="10" text-anchor="end" fill="#000" x="410.8" y="819.7" >3,000</text>
<line x1="415.7" y1="842.3" x2="420" y2="842.3" stroke="#000" stroke-width="1.5" stroke-linecap="butt"/>
<text font-size="10" text-anchor="end" fill="#000" x="410.8" y="845.7" >2,000</text>
<line x1="415.7" y1="868.3" x2="420" y2="868.3" stroke="#000" stroke-width="1.5" stroke-linecap="butt"/>
<text font-size="10" text-anchor="end" fill="#000" x="410.8" y="871.7" >1,000</text>
<line x1="415.7" y1="894.3" x2="420" y2="894.3" stroke="#000" stroke-width="1.5" stroke-linecap="butt"/>
<text font-size="10" text-anchor="end" fill="#000" x="410.8" y="897.7" >0</text>
<line x1="438" y1="894.3" x2="438" y2="898.2" stroke="#000" stroke-width="1.5" stroke-linecap="butt"/>
<line x1="473.6" y1="894.3" x2="473.6" y2="898.2" stroke="#000" stroke-width="1.5" stroke-linecap="butt"/>
<text font-size="13" text-anchor="middle" fill="#000" textLength="67" lengthAdjust="spacingAndGlyphs" transform="translate(352.3,841) rotate(-90)" >Anti-HA IgA</text>
<text font-size="13" text-anchor="middle" fill="#000" textLength="75.5" lengthAdjust="spacingAndGlyphs" transform="translate(367.6,841) rotate(-90)" >(relative titer)</text>
<polyline points="438.3,787.5 438.3,780.5 473.3,780.5 473.3,860" fill="none" stroke="#000" stroke-width="1.75" stroke-linejoin="miter"/>
<text font-size="19.2" text-anchor="middle" fill="#000" x="456.3" y="784.2" >**</text>
<circle cx="437.5" cy="795.5" r="2.35" fill="#000"/>
<circle cx="441.25" cy="849.25" r="2.35" fill="#000"/>
<circle cx="435" cy="852.5" r="2.35" fill="#000"/>
<circle cx="437.5" cy="865.75" r="2.35" fill="#000"/>
<circle cx="429.25" cy="874.25" r="2.35" fill="#000"/>
<circle cx="447.5" cy="873.25" r="2.35" fill="#000"/>
<circle cx="435" cy="879.25" r="2.35" fill="#000"/>
<circle cx="440" cy="880" r="2.35" fill="#000"/>
<circle cx="429.25" cy="882.5" r="2.35" fill="#000"/>
<circle cx="443.75" cy="881.75" r="2.35" fill="#000"/>
<circle cx="436.25" cy="885" r="2.35" fill="#000"/>
<circle cx="432.5" cy="888.75" r="2.35" fill="#000"/>
<circle cx="440" cy="890" r="2.35" fill="#000"/>
<circle cx="447.5" cy="888.25" r="2.35" fill="#000"/>
<circle cx="429.25" cy="891.25" r="2.35" fill="#000"/>
<circle cx="436.25" cy="892.5" r="2.35" fill="#000"/>
<circle cx="441.75" cy="892.5" r="2.35" fill="#000"/>
<circle cx="473.25" cy="872" r="2.35" fill="#000"/>
<circle cx="465" cy="880" r="2.35" fill="#000"/>
<circle cx="481.75" cy="880" r="2.35" fill="#000"/>
<circle cx="467.5" cy="885" r="2.35" fill="#000"/>
<circle cx="478.75" cy="886.25" r="2.35" fill="#000"/>
<circle cx="463.75" cy="887.5" r="2.35" fill="#000"/>
<circle cx="470" cy="888.75" r="2.35" fill="#000"/>
<circle cx="475" cy="888.75" r="2.35" fill="#000"/>
<circle cx="483.75" cy="885" r="2.35" fill="#000"/>
<circle cx="472.5" cy="892" r="2.35" fill="#000"/>
<line x1="436.3" y1="903" x2="474.3" y2="903" stroke="#000" stroke-width="1.8" stroke-linecap="butt"/>
<text font-size="13" text-anchor="middle" fill="#000" textLength="65" lengthAdjust="spacingAndGlyphs" x="453.3" y="919.3" >HA-specific</text>
</svg>
</body></html>
